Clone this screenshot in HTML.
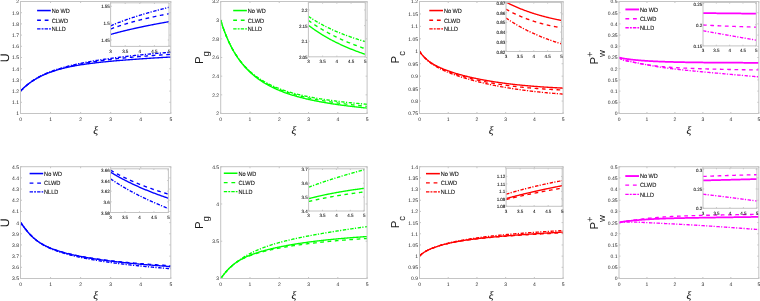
<!DOCTYPE html><html><head><meta charset="utf-8"><style>html,body{margin:0;padding:0;background:#fff;}svg{display:block;}</style></head><body>
<svg width="760" height="301" viewBox="0 0 760 301" font-family='"Liberation Sans", sans-serif' style="will-change:transform" text-rendering="geometricPrecision">
<rect width="760" height="301" fill="#fff"/>
<clipPath id="c00"><rect x="20.5" y="1.5" width="150.3" height="112.0"/></clipPath>
<path d="M20.50 113.5v-1.5M20.50 1.5v1.5M50.56 113.5v-1.5M50.56 1.5v1.5M80.62 113.5v-1.5M80.62 1.5v1.5M110.68 113.5v-1.5M110.68 1.5v1.5M140.74 113.5v-1.5M140.74 1.5v1.5M170.80 113.5v-1.5M170.80 1.5v1.5M20.5 113.50h1.5M170.8 113.50h-1.5M20.5 102.30h1.5M170.8 102.30h-1.5M20.5 91.10h1.5M170.8 91.10h-1.5M20.5 79.90h1.5M170.8 79.90h-1.5M20.5 68.70h1.5M170.8 68.70h-1.5M20.5 57.50h1.5M170.8 57.50h-1.5M20.5 46.30h1.5M170.8 46.30h-1.5M20.5 35.10h1.5M170.8 35.10h-1.5M20.5 23.90h1.5M170.8 23.90h-1.5M20.5 12.70h1.5M170.8 12.70h-1.5M20.5 1.50h1.5M170.8 1.50h-1.5" stroke="#a0a0a0" stroke-width="0.6" fill="none"/>
<g font-size="5.0" fill="#1c1c1c" letter-spacing="-0.05"><text x="20.50" y="120.60" text-anchor="middle">0</text><text x="50.56" y="120.60" text-anchor="middle">1</text><text x="80.62" y="120.60" text-anchor="middle">2</text><text x="110.68" y="120.60" text-anchor="middle">3</text><text x="140.74" y="120.60" text-anchor="middle">4</text><text x="170.80" y="120.60" text-anchor="middle">5</text><text x="18.90" y="115.45" text-anchor="end">1</text><text x="18.90" y="104.25" text-anchor="end">1.1</text><text x="18.90" y="93.05" text-anchor="end">1.2</text><text x="18.90" y="81.85" text-anchor="end">1.3</text><text x="18.90" y="70.65" text-anchor="end">1.4</text><text x="18.90" y="59.45" text-anchor="end">1.5</text><text x="18.90" y="48.25" text-anchor="end">1.6</text><text x="18.90" y="37.05" text-anchor="end">1.7</text><text x="18.90" y="25.85" text-anchor="end">1.8</text><text x="18.90" y="14.65" text-anchor="end">1.9</text><text x="18.90" y="3.45" text-anchor="end">2</text></g>
<path d="M20.50 91.10 L21.26 90.29 L22.01 89.51 L22.77 88.77 L23.52 88.05 L24.28 87.35 L25.03 86.68 L25.79 86.03 L26.54 85.40 L27.30 84.78 L28.05 84.19 L28.81 83.61 L29.56 83.05 L30.32 82.51 L31.07 81.98 L31.83 81.46 L32.58 80.96 L33.34 80.47 L34.09 79.99 L34.85 79.53 L35.61 79.08 L36.36 78.64 L37.12 78.21 L37.87 77.79 L38.63 77.38 L39.38 76.98 L40.14 76.59 L40.89 76.22 L41.65 75.85 L42.40 75.49 L43.16 75.14 L43.91 74.79 L44.67 74.46 L45.42 74.13 L46.18 73.82 L46.93 73.51 L47.69 73.20 L48.45 72.91 L49.20 72.62 L49.96 72.34 L50.71 72.06 L51.47 71.79 L52.22 71.53 L52.98 71.27 L53.73 71.02 L54.49 70.78 L55.24 70.54 L56.00 70.30 L56.75 70.08 L57.51 69.85 L58.26 69.63 L59.02 69.42 L59.77 69.21 L60.53 69.01 L61.28 68.81 L62.04 68.61 L62.80 68.42 L63.55 68.23 L64.31 68.05 L65.06 67.87 L65.82 67.69 L66.57 67.52 L67.33 67.35 L68.08 67.19 L68.84 67.03 L69.59 66.87 L70.35 66.71 L71.10 66.56 L71.86 66.41 L72.61 66.26 L73.37 66.12 L74.12 65.98 L74.88 65.84 L75.64 65.70 L76.39 65.57 L77.15 65.44 L77.90 65.31 L78.66 65.18 L79.41 65.06 L80.17 64.94 L80.92 64.82 L81.68 64.70 L82.43 64.58 L83.19 64.47 L83.94 64.36 L84.70 64.25 L85.45 64.14 L86.21 64.03 L86.96 63.93 L87.72 63.82 L88.47 63.72 L89.23 63.62 L89.99 63.52 L90.74 63.42 L91.50 63.33 L92.25 63.23 L93.01 63.14 L93.76 63.05 L94.52 62.96 L95.27 62.87 L96.03 62.78 L96.78 62.69 L97.54 62.60 L98.29 62.52 L99.05 62.44 L99.80 62.35 L100.56 62.27 L101.31 62.19 L102.07 62.11 L102.83 62.03 L103.58 61.95 L104.34 61.88 L105.09 61.80 L105.85 61.72 L106.60 61.65 L107.36 61.58 L108.11 61.50 L108.87 61.43 L109.62 61.36 L110.38 61.29 L111.13 61.22 L111.89 61.15 L112.64 61.08 L113.40 61.01 L114.15 60.94 L114.91 60.88 L115.66 60.81 L116.42 60.74 L117.18 60.68 L117.93 60.61 L118.69 60.55 L119.44 60.49 L120.20 60.42 L120.95 60.36 L121.71 60.30 L122.46 60.24 L123.22 60.18 L123.97 60.12 L124.73 60.06 L125.48 60.00 L126.24 59.94 L126.99 59.88 L127.75 59.82 L128.50 59.76 L129.26 59.71 L130.02 59.65 L130.77 59.59 L131.53 59.54 L132.28 59.48 L133.04 59.43 L133.79 59.37 L134.55 59.32 L135.30 59.26 L136.06 59.21 L136.81 59.15 L137.57 59.10 L138.32 59.05 L139.08 58.99 L139.83 58.94 L140.59 58.89 L141.34 58.84 L142.10 58.79 L142.85 58.74 L143.61 58.68 L144.37 58.63 L145.12 58.58 L145.88 58.53 L146.63 58.48 L147.39 58.43 L148.14 58.38 L148.90 58.33 L149.65 58.29 L150.41 58.24 L151.16 58.19 L151.92 58.14 L152.67 58.09 L153.43 58.04 L154.18 58.00 L154.94 57.95 L155.69 57.90 L156.45 57.86 L157.21 57.81 L157.96 57.76 L158.72 57.72 L159.47 57.67 L160.23 57.62 L160.98 57.58 L161.74 57.53 L162.49 57.49 L163.25 57.44 L164.00 57.40 L164.76 57.35 L165.51 57.31 L166.27 57.27 L167.02 57.22 L167.78 57.18 L168.53 57.13 L169.29 57.09 L170.04 57.05 L170.80 57.00" stroke="#0000ff" stroke-width="1.35" fill="none" clip-path="url(#c00)"/>
<path d="M20.50 91.10 L21.26 90.37 L22.01 89.64 L22.77 88.92 L23.52 88.20 L24.28 87.50 L25.03 86.81 L25.79 86.14 L26.54 85.48 L27.30 84.85 L28.05 84.23 L28.81 83.62 L29.56 83.04 L30.32 82.47 L31.07 81.92 L31.83 81.38 L32.58 80.86 L33.34 80.36 L34.09 79.87 L34.85 79.39 L35.61 78.93 L36.36 78.48 L37.12 78.05 L37.87 77.63 L38.63 77.21 L39.38 76.81 L40.14 76.42 L40.89 76.04 L41.65 75.67 L42.40 75.31 L43.16 74.96 L43.91 74.62 L44.67 74.28 L45.42 73.96 L46.18 73.64 L46.93 73.33 L47.69 73.02 L48.45 72.72 L49.20 72.43 L49.96 72.14 L50.71 71.86 L51.47 71.59 L52.22 71.32 L52.98 71.06 L53.73 70.80 L54.49 70.55 L55.24 70.30 L56.00 70.06 L56.75 69.82 L57.51 69.59 L58.26 69.36 L59.02 69.13 L59.77 68.91 L60.53 68.69 L61.28 68.48 L62.04 68.26 L62.80 68.06 L63.55 67.85 L64.31 67.65 L65.06 67.46 L65.82 67.26 L66.57 67.07 L67.33 66.88 L68.08 66.70 L68.84 66.52 L69.59 66.34 L70.35 66.16 L71.10 65.99 L71.86 65.81 L72.61 65.65 L73.37 65.48 L74.12 65.32 L74.88 65.15 L75.64 64.99 L76.39 64.84 L77.15 64.68 L77.90 64.53 L78.66 64.38 L79.41 64.23 L80.17 64.08 L80.92 63.94 L81.68 63.79 L82.43 63.65 L83.19 63.51 L83.94 63.38 L84.70 63.24 L85.45 63.11 L86.21 62.97 L86.96 62.84 L87.72 62.72 L88.47 62.59 L89.23 62.46 L89.99 62.34 L90.74 62.22 L91.50 62.09 L92.25 61.97 L93.01 61.86 L93.76 61.74 L94.52 61.62 L95.27 61.51 L96.03 61.40 L96.78 61.28 L97.54 61.17 L98.29 61.07 L99.05 60.96 L99.80 60.85 L100.56 60.75 L101.31 60.64 L102.07 60.54 L102.83 60.44 L103.58 60.34 L104.34 60.24 L105.09 60.14 L105.85 60.04 L106.60 59.94 L107.36 59.85 L108.11 59.75 L108.87 59.66 L109.62 59.57 L110.38 59.48 L111.13 59.39 L111.89 59.30 L112.64 59.21 L113.40 59.12 L114.15 59.03 L114.91 58.95 L115.66 58.86 L116.42 58.78 L117.18 58.70 L117.93 58.61 L118.69 58.53 L119.44 58.45 L120.20 58.37 L120.95 58.29 L121.71 58.21 L122.46 58.14 L123.22 58.06 L123.97 57.98 L124.73 57.91 L125.48 57.83 L126.24 57.76 L126.99 57.69 L127.75 57.61 L128.50 57.54 L129.26 57.47 L130.02 57.40 L130.77 57.33 L131.53 57.26 L132.28 57.19 L133.04 57.12 L133.79 57.06 L134.55 56.99 L135.30 56.92 L136.06 56.86 L136.81 56.79 L137.57 56.73 L138.32 56.66 L139.08 56.60 L139.83 56.54 L140.59 56.48 L141.34 56.41 L142.10 56.35 L142.85 56.29 L143.61 56.23 L144.37 56.17 L145.12 56.11 L145.88 56.06 L146.63 56.00 L147.39 55.94 L148.14 55.88 L148.90 55.83 L149.65 55.77 L150.41 55.72 L151.16 55.66 L151.92 55.61 L152.67 55.55 L153.43 55.50 L154.18 55.44 L154.94 55.39 L155.69 55.34 L156.45 55.29 L157.21 55.24 L157.96 55.18 L158.72 55.13 L159.47 55.08 L160.23 55.03 L160.98 54.98 L161.74 54.93 L162.49 54.89 L163.25 54.84 L164.00 54.79 L164.76 54.74 L165.51 54.69 L166.27 54.65 L167.02 54.60 L167.78 54.55 L168.53 54.51 L169.29 54.46 L170.04 54.42 L170.80 54.37" stroke="#0000ff" stroke-width="1.35" fill="none" stroke-dasharray="3.7 3.6" clip-path="url(#c00)"/>
<path d="M20.50 91.10 L21.26 90.36 L22.01 89.63 L22.77 88.90 L23.52 88.19 L24.28 87.49 L25.03 86.80 L25.79 86.13 L26.54 85.48 L27.30 84.84 L28.05 84.22 L28.81 83.62 L29.56 83.03 L30.32 82.46 L31.07 81.90 L31.83 81.37 L32.58 80.84 L33.34 80.33 L34.09 79.84 L34.85 79.36 L35.61 78.89 L36.36 78.43 L37.12 77.99 L37.87 77.56 L38.63 77.14 L39.38 76.73 L40.14 76.33 L40.89 75.94 L41.65 75.55 L42.40 75.18 L43.16 74.82 L43.91 74.47 L44.67 74.12 L45.42 73.78 L46.18 73.45 L46.93 73.13 L47.69 72.81 L48.45 72.50 L49.20 72.20 L49.96 71.90 L50.71 71.61 L51.47 71.33 L52.22 71.05 L52.98 70.77 L53.73 70.51 L54.49 70.24 L55.24 69.98 L56.00 69.73 L56.75 69.48 L57.51 69.24 L58.26 68.99 L59.02 68.76 L59.77 68.53 L60.53 68.30 L61.28 68.07 L62.04 67.85 L62.80 67.64 L63.55 67.42 L64.31 67.21 L65.06 67.00 L65.82 66.80 L66.57 66.60 L67.33 66.40 L68.08 66.21 L68.84 66.01 L69.59 65.83 L70.35 65.64 L71.10 65.46 L71.86 65.27 L72.61 65.10 L73.37 64.92 L74.12 64.75 L74.88 64.57 L75.64 64.41 L76.39 64.24 L77.15 64.07 L77.90 63.91 L78.66 63.75 L79.41 63.59 L80.17 63.44 L80.92 63.28 L81.68 63.13 L82.43 62.98 L83.19 62.83 L83.94 62.68 L84.70 62.54 L85.45 62.39 L86.21 62.25 L86.96 62.11 L87.72 61.97 L88.47 61.83 L89.23 61.70 L89.99 61.56 L90.74 61.43 L91.50 61.30 L92.25 61.17 L93.01 61.04 L93.76 60.92 L94.52 60.79 L95.27 60.67 L96.03 60.54 L96.78 60.42 L97.54 60.30 L98.29 60.18 L99.05 60.06 L99.80 59.94 L100.56 59.83 L101.31 59.71 L102.07 59.60 L102.83 59.49 L103.58 59.37 L104.34 59.26 L105.09 59.15 L105.85 59.05 L106.60 58.94 L107.36 58.83 L108.11 58.73 L108.87 58.62 L109.62 58.52 L110.38 58.41 L111.13 58.31 L111.89 58.21 L112.64 58.11 L113.40 58.01 L114.15 57.91 L114.91 57.82 L115.66 57.72 L116.42 57.62 L117.18 57.53 L117.93 57.43 L118.69 57.34 L119.44 57.25 L120.20 57.15 L120.95 57.06 L121.71 56.97 L122.46 56.88 L123.22 56.79 L123.97 56.70 L124.73 56.62 L125.48 56.53 L126.24 56.44 L126.99 56.36 L127.75 56.27 L128.50 56.19 L129.26 56.10 L130.02 56.02 L130.77 55.94 L131.53 55.85 L132.28 55.77 L133.04 55.69 L133.79 55.61 L134.55 55.53 L135.30 55.45 L136.06 55.37 L136.81 55.29 L137.57 55.22 L138.32 55.14 L139.08 55.06 L139.83 54.99 L140.59 54.91 L141.34 54.83 L142.10 54.76 L142.85 54.69 L143.61 54.61 L144.37 54.54 L145.12 54.47 L145.88 54.39 L146.63 54.32 L147.39 54.25 L148.14 54.18 L148.90 54.11 L149.65 54.04 L150.41 53.97 L151.16 53.90 L151.92 53.83 L152.67 53.76 L153.43 53.70 L154.18 53.63 L154.94 53.56 L155.69 53.50 L156.45 53.43 L157.21 53.36 L157.96 53.30 L158.72 53.23 L159.47 53.17 L160.23 53.11 L160.98 53.04 L161.74 52.98 L162.49 52.92 L163.25 52.85 L164.00 52.79 L164.76 52.73 L165.51 52.67 L166.27 52.61 L167.02 52.55 L167.78 52.48 L168.53 52.42 L169.29 52.36 L170.04 52.31 L170.80 52.25" stroke="#0000ff" stroke-width="1.35" fill="none" stroke-dasharray="3.4 1.3 1.2 1.6" clip-path="url(#c00)"/>
<rect x="20.5" y="1.5" width="150.3" height="112.0" fill="none" stroke="#c4c4c4" stroke-width="1"/>
<path d="M37.1 10.55H50.8" stroke="#0000ff" stroke-width="1.55" fill="none"/>
<path d="M37.1 20.25H50.8" stroke="#0000ff" stroke-width="1.3" fill="none" stroke-dasharray="3.8 3.8"/>
<path d="M37.1 28.95H50.8" stroke="#0000ff" stroke-width="1.3" fill="none" stroke-dasharray="3.4 1.1 1.9 1.1"/>
<g font-size="6.2" fill="#111" stroke="#111" stroke-width="0.1"><text x="51.70" y="12.85" textLength="18.00" lengthAdjust="spacingAndGlyphs">No WD</text><text x="51.70" y="22.55" textLength="16.40" lengthAdjust="spacingAndGlyphs">CLWD</text><text x="51.70" y="31.25" textLength="14.20" lengthAdjust="spacingAndGlyphs">NLLD</text></g>
<rect x="110.6" y="2.8" width="58.400000000000006" height="43.6" fill="#fff" stroke="none"/>
<clipPath id="i00"><rect x="110.6" y="2.8" width="58.400000000000006" height="43.6"/></clipPath>
<path d="M110.60 34.46 L111.19 34.29 L111.78 34.12 L112.37 33.96 L112.96 33.79 L113.55 33.63 L114.14 33.46 L114.73 33.30 L115.32 33.14 L115.91 32.98 L116.50 32.82 L117.09 32.67 L117.68 32.51 L118.27 32.36 L118.86 32.20 L119.45 32.05 L120.04 31.90 L120.63 31.75 L121.22 31.60 L121.81 31.45 L122.40 31.30 L122.99 31.16 L123.58 31.01 L124.17 30.86 L124.76 30.72 L125.35 30.58 L125.94 30.43 L126.53 30.29 L127.12 30.15 L127.71 30.01 L128.30 29.87 L128.89 29.73 L129.48 29.60 L130.07 29.46 L130.66 29.32 L131.25 29.19 L131.84 29.05 L132.43 28.92 L133.02 28.79 L133.61 28.65 L134.20 28.52 L134.79 28.39 L135.38 28.26 L135.97 28.13 L136.56 28.00 L137.15 27.87 L137.74 27.74 L138.33 27.62 L138.92 27.49 L139.51 27.36 L140.09 27.24 L140.68 27.11 L141.27 26.99 L141.86 26.86 L142.45 26.74 L143.04 26.62 L143.63 26.50 L144.22 26.37 L144.81 26.25 L145.40 26.13 L145.99 26.01 L146.58 25.89 L147.17 25.77 L147.76 25.65 L148.35 25.53 L148.94 25.42 L149.53 25.30 L150.12 25.18 L150.71 25.07 L151.30 24.95 L151.89 24.83 L152.48 24.72 L153.07 24.60 L153.66 24.49 L154.25 24.38 L154.84 24.26 L155.43 24.15 L156.02 24.04 L156.61 23.93 L157.20 23.81 L157.79 23.70 L158.38 23.59 L158.97 23.48 L159.56 23.37 L160.15 23.26 L160.74 23.15 L161.33 23.04 L161.92 22.93 L162.51 22.83 L163.10 22.72 L163.69 22.61 L164.28 22.50 L164.87 22.40 L165.46 22.29 L166.05 22.18 L166.64 22.08 L167.23 21.97 L167.82 21.87 L168.41 21.76 L169.00 21.66" stroke="#0000ff" stroke-width="1.35" fill="none" clip-path="url(#i00)"/>
<path d="M110.60 28.99 L111.19 28.77 L111.78 28.56 L112.37 28.34 L112.96 28.13 L113.55 27.92 L114.14 27.71 L114.73 27.50 L115.32 27.30 L115.91 27.09 L116.50 26.89 L117.09 26.69 L117.68 26.49 L118.27 26.29 L118.86 26.10 L119.45 25.90 L120.04 25.71 L120.63 25.52 L121.22 25.33 L121.81 25.14 L122.40 24.95 L122.99 24.77 L123.58 24.58 L124.17 24.40 L124.76 24.22 L125.35 24.04 L125.94 23.86 L126.53 23.68 L127.12 23.51 L127.71 23.33 L128.30 23.16 L128.89 22.99 L129.48 22.82 L130.07 22.65 L130.66 22.48 L131.25 22.32 L131.84 22.15 L132.43 21.99 L133.02 21.82 L133.61 21.66 L134.20 21.50 L134.79 21.34 L135.38 21.18 L135.97 21.03 L136.56 20.87 L137.15 20.72 L137.74 20.56 L138.33 20.41 L138.92 20.26 L139.51 20.11 L140.09 19.96 L140.68 19.81 L141.27 19.66 L141.86 19.52 L142.45 19.37 L143.04 19.23 L143.63 19.08 L144.22 18.94 L144.81 18.80 L145.40 18.66 L145.99 18.52 L146.58 18.38 L147.17 18.24 L147.76 18.11 L148.35 17.97 L148.94 17.84 L149.53 17.70 L150.12 17.57 L150.71 17.44 L151.30 17.31 L151.89 17.18 L152.48 17.05 L153.07 16.92 L153.66 16.79 L154.25 16.67 L154.84 16.54 L155.43 16.41 L156.02 16.29 L156.61 16.17 L157.20 16.04 L157.79 15.92 L158.38 15.80 L158.97 15.68 L159.56 15.56 L160.15 15.44 L160.74 15.32 L161.33 15.21 L161.92 15.09 L162.51 14.97 L163.10 14.86 L163.69 14.74 L164.28 14.63 L164.87 14.52 L165.46 14.41 L166.05 14.29 L166.64 14.18 L167.23 14.07 L167.82 13.96 L168.41 13.85 L169.00 13.75" stroke="#0000ff" stroke-width="1.35" fill="none" stroke-dasharray="3.7 3.6" clip-path="url(#i00)"/>
<path d="M110.60 25.78 L111.19 25.53 L111.78 25.29 L112.37 25.05 L112.96 24.81 L113.55 24.57 L114.14 24.33 L114.73 24.09 L115.32 23.86 L115.91 23.63 L116.50 23.40 L117.09 23.17 L117.68 22.94 L118.27 22.71 L118.86 22.48 L119.45 22.26 L120.04 22.04 L120.63 21.82 L121.22 21.60 L121.81 21.38 L122.40 21.16 L122.99 20.95 L123.58 20.73 L124.17 20.52 L124.76 20.31 L125.35 20.10 L125.94 19.89 L126.53 19.68 L127.12 19.47 L127.71 19.27 L128.30 19.07 L128.89 18.86 L129.48 18.66 L130.07 18.46 L130.66 18.26 L131.25 18.06 L131.84 17.87 L132.43 17.67 L133.02 17.48 L133.61 17.28 L134.20 17.09 L134.79 16.90 L135.38 16.71 L135.97 16.52 L136.56 16.33 L137.15 16.14 L137.74 15.96 L138.33 15.77 L138.92 15.59 L139.51 15.40 L140.09 15.22 L140.68 15.04 L141.27 14.86 L141.86 14.68 L142.45 14.50 L143.04 14.33 L143.63 14.15 L144.22 13.97 L144.81 13.80 L145.40 13.63 L145.99 13.45 L146.58 13.28 L147.17 13.11 L147.76 12.94 L148.35 12.77 L148.94 12.60 L149.53 12.44 L150.12 12.27 L150.71 12.10 L151.30 11.94 L151.89 11.77 L152.48 11.61 L153.07 11.45 L153.66 11.29 L154.25 11.13 L154.84 10.97 L155.43 10.81 L156.02 10.65 L156.61 10.49 L157.20 10.33 L157.79 10.18 L158.38 10.02 L158.97 9.87 L159.56 9.71 L160.15 9.56 L160.74 9.41 L161.33 9.26 L161.92 9.10 L162.51 8.95 L163.10 8.80 L163.69 8.66 L164.28 8.51 L164.87 8.36 L165.46 8.21 L166.05 8.07 L166.64 7.92 L167.23 7.78 L167.82 7.63 L168.41 7.49 L169.00 7.35" stroke="#0000ff" stroke-width="1.35" fill="none" stroke-dasharray="3.4 1.3 1.2 1.6" clip-path="url(#i00)"/>
<path d="M110.60 46.4v-1.2M110.60 2.8v1.2M125.20 46.4v-1.2M125.20 2.8v1.2M139.80 46.4v-1.2M139.80 2.8v1.2M154.40 46.4v-1.2M154.40 2.8v1.2M169.00 46.4v-1.2M169.00 2.8v1.2M110.6 40.00h1.2M169.0 40.00h-1.2M110.6 23.15h1.2M169.0 23.15h-1.2M110.6 6.30h1.2M169.0 6.30h-1.2" stroke="#a0a0a0" stroke-width="0.6" fill="none"/>
<rect x="110.6" y="2.8" width="58.400000000000006" height="43.6" fill="none" stroke="#c4c4c4" stroke-width="1"/>
<g font-size="4.5" fill="#111" letter-spacing="-0.05" stroke="#111" stroke-width="0.08"><text x="110.60" y="52.70" text-anchor="middle">3</text><text x="125.20" y="52.70" text-anchor="middle">3.5</text><text x="139.80" y="52.70" text-anchor="middle">4</text><text x="154.40" y="52.70" text-anchor="middle">4.5</text><text x="169.00" y="52.70" text-anchor="middle">5</text><text x="109.70" y="42.00" text-anchor="end">1.45</text><text x="109.70" y="25.15" text-anchor="end">1.5</text><text x="109.70" y="8.30" text-anchor="end">1.55</text></g>
<text x="95.55" y="134.00" text-anchor="middle" font-family='"Liberation Serif", serif' font-style="italic" font-size="11.2" fill="#1a1a1a" stroke="#1a1a1a" stroke-width="0.1">ξ</text>
<clipPath id="c01"><rect x="220.7" y="1.5" width="146.40000000000003" height="112.0"/></clipPath>
<path d="M220.70 113.5v-1.5M220.70 1.5v1.5M249.98 113.5v-1.5M249.98 1.5v1.5M279.26 113.5v-1.5M279.26 1.5v1.5M308.54 113.5v-1.5M308.54 1.5v1.5M337.82 113.5v-1.5M337.82 1.5v1.5M367.10 113.5v-1.5M367.10 1.5v1.5M220.7 113.50h1.5M367.1 113.50h-1.5M220.7 94.83h1.5M367.1 94.83h-1.5M220.7 76.17h1.5M367.1 76.17h-1.5M220.7 57.50h1.5M367.1 57.50h-1.5M220.7 38.83h1.5M367.1 38.83h-1.5M220.7 20.17h1.5M367.1 20.17h-1.5M220.7 1.50h1.5M367.1 1.50h-1.5" stroke="#a0a0a0" stroke-width="0.6" fill="none"/>
<g font-size="5.0" fill="#1c1c1c" letter-spacing="-0.05"><text x="220.70" y="120.60" text-anchor="middle">0</text><text x="249.98" y="120.60" text-anchor="middle">1</text><text x="279.26" y="120.60" text-anchor="middle">2</text><text x="308.54" y="120.60" text-anchor="middle">3</text><text x="337.82" y="120.60" text-anchor="middle">4</text><text x="367.10" y="120.60" text-anchor="middle">5</text><text x="219.10" y="115.45" text-anchor="end">2</text><text x="219.10" y="96.78" text-anchor="end">2.2</text><text x="219.10" y="78.12" text-anchor="end">2.4</text><text x="219.10" y="59.45" text-anchor="end">2.6</text><text x="219.10" y="40.78" text-anchor="end">2.8</text><text x="219.10" y="22.12" text-anchor="end">3</text><text x="219.10" y="3.45" text-anchor="end">3.2</text></g>
<path d="M220.70 20.17 L221.44 22.55 L222.17 24.83 L222.91 27.02 L223.64 29.13 L224.38 31.15 L225.11 33.10 L225.85 34.97 L226.59 36.77 L227.32 38.51 L228.06 40.19 L228.79 41.81 L229.53 43.37 L230.26 44.88 L231.00 46.34 L231.74 47.75 L232.47 49.12 L233.21 50.44 L233.94 51.72 L234.68 52.96 L235.41 54.16 L236.15 55.33 L236.88 56.46 L237.62 57.56 L238.36 58.62 L239.09 59.66 L239.83 60.67 L240.56 61.64 L241.30 62.59 L242.03 63.52 L242.77 64.42 L243.51 65.29 L244.24 66.15 L244.98 66.98 L245.71 67.79 L246.45 68.57 L247.18 69.34 L247.92 70.09 L248.66 70.82 L249.39 71.53 L250.13 72.23 L250.86 72.91 L251.60 73.57 L252.33 74.22 L253.07 74.85 L253.81 75.47 L254.54 76.07 L255.28 76.66 L256.01 77.23 L256.75 77.80 L257.48 78.35 L258.22 78.89 L258.96 79.41 L259.69 79.93 L260.43 80.43 L261.16 80.93 L261.90 81.41 L262.63 81.88 L263.37 82.35 L264.11 82.80 L264.84 83.25 L265.58 83.68 L266.31 84.11 L267.05 84.53 L267.78 84.94 L268.52 85.34 L269.25 85.74 L269.99 86.13 L270.73 86.51 L271.46 86.88 L272.20 87.24 L272.93 87.60 L273.67 87.95 L274.40 88.30 L275.14 88.64 L275.88 88.97 L276.61 89.30 L277.35 89.62 L278.08 89.94 L278.82 90.25 L279.55 90.55 L280.29 90.85 L281.03 91.15 L281.76 91.44 L282.50 91.72 L283.23 92.00 L283.97 92.28 L284.70 92.55 L285.44 92.81 L286.18 93.07 L286.91 93.33 L287.65 93.58 L288.38 93.83 L289.12 94.08 L289.85 94.32 L290.59 94.56 L291.33 94.79 L292.06 95.02 L292.80 95.25 L293.53 95.47 L294.27 95.69 L295.00 95.91 L295.74 96.12 L296.47 96.33 L297.21 96.54 L297.95 96.75 L298.68 96.95 L299.42 97.15 L300.15 97.34 L300.89 97.53 L301.62 97.72 L302.36 97.91 L303.10 98.10 L303.83 98.28 L304.57 98.46 L305.30 98.64 L306.04 98.81 L306.77 98.98 L307.51 99.15 L308.25 99.32 L308.98 99.49 L309.72 99.65 L310.45 99.81 L311.19 99.97 L311.92 100.13 L312.66 100.28 L313.40 100.44 L314.13 100.59 L314.87 100.74 L315.60 100.89 L316.34 101.03 L317.07 101.18 L317.81 101.32 L318.55 101.46 L319.28 101.60 L320.02 101.74 L320.75 101.87 L321.49 102.01 L322.22 102.14 L322.96 102.27 L323.69 102.40 L324.43 102.53 L325.17 102.66 L325.90 102.78 L326.64 102.91 L327.37 103.03 L328.11 103.15 L328.84 103.27 L329.58 103.39 L330.32 103.50 L331.05 103.62 L331.79 103.73 L332.52 103.85 L333.26 103.96 L333.99 104.07 L334.73 104.18 L335.47 104.29 L336.20 104.40 L336.94 104.50 L337.67 104.61 L338.41 104.71 L339.14 104.82 L339.88 104.92 L340.62 105.02 L341.35 105.12 L342.09 105.22 L342.82 105.32 L343.56 105.42 L344.29 105.51 L345.03 105.61 L345.77 105.70 L346.50 105.80 L347.24 105.89 L347.97 105.98 L348.71 106.07 L349.44 106.16 L350.18 106.25 L350.92 106.34 L351.65 106.43 L352.39 106.51 L353.12 106.60 L353.86 106.69 L354.59 106.77 L355.33 106.85 L356.06 106.94 L356.80 107.02 L357.54 107.10 L358.27 107.18 L359.01 107.26 L359.74 107.34 L360.48 107.42 L361.21 107.50 L361.95 107.58 L362.69 107.65 L363.42 107.73 L364.16 107.80 L364.89 107.88 L365.63 107.95 L366.36 108.03 L367.10 108.10" stroke="#00ff00" stroke-width="1.35" fill="none" clip-path="url(#c01)"/>
<path d="M220.70 20.17 L221.44 22.55 L222.17 24.83 L222.91 27.02 L223.64 29.13 L224.38 31.15 L225.11 33.09 L225.85 34.96 L226.59 36.76 L227.32 38.50 L228.06 40.17 L228.79 41.78 L229.53 43.34 L230.26 44.84 L231.00 46.30 L231.74 47.70 L232.47 49.06 L233.21 50.37 L233.94 51.64 L234.68 52.87 L235.41 54.06 L236.15 55.22 L236.88 56.34 L237.62 57.43 L238.36 58.48 L239.09 59.50 L239.83 60.50 L240.56 61.46 L241.30 62.40 L242.03 63.31 L242.77 64.19 L243.51 65.05 L244.24 65.89 L244.98 66.71 L245.71 67.50 L246.45 68.27 L247.18 69.03 L247.92 69.76 L248.66 70.47 L249.39 71.17 L250.13 71.85 L250.86 72.51 L251.60 73.16 L252.33 73.79 L253.07 74.40 L253.81 75.00 L254.54 75.59 L255.28 76.16 L256.01 76.72 L256.75 77.27 L257.48 77.80 L258.22 78.32 L258.96 78.83 L259.69 79.33 L260.43 79.82 L261.16 80.30 L261.90 80.76 L262.63 81.22 L263.37 81.67 L264.11 82.10 L264.84 82.53 L265.58 82.95 L266.31 83.36 L267.05 83.77 L267.78 84.16 L268.52 84.55 L269.25 84.93 L269.99 85.30 L270.73 85.66 L271.46 86.02 L272.20 86.37 L272.93 86.71 L273.67 87.05 L274.40 87.38 L275.14 87.71 L275.88 88.02 L276.61 88.34 L277.35 88.64 L278.08 88.95 L278.82 89.24 L279.55 89.53 L280.29 89.82 L281.03 90.10 L281.76 90.37 L282.50 90.65 L283.23 90.91 L283.97 91.17 L284.70 91.43 L285.44 91.68 L286.18 91.93 L286.91 92.18 L287.65 92.42 L288.38 92.66 L289.12 92.89 L289.85 93.12 L290.59 93.35 L291.33 93.57 L292.06 93.79 L292.80 94.00 L293.53 94.22 L294.27 94.43 L295.00 94.63 L295.74 94.83 L296.47 95.03 L297.21 95.23 L297.95 95.43 L298.68 95.62 L299.42 95.81 L300.15 95.99 L300.89 96.18 L301.62 96.36 L302.36 96.54 L303.10 96.71 L303.83 96.89 L304.57 97.06 L305.30 97.23 L306.04 97.39 L306.77 97.56 L307.51 97.72 L308.25 97.88 L308.98 98.04 L309.72 98.19 L310.45 98.35 L311.19 98.50 L311.92 98.65 L312.66 98.80 L313.40 98.95 L314.13 99.09 L314.87 99.24 L315.60 99.38 L316.34 99.52 L317.07 99.66 L317.81 99.79 L318.55 99.93 L319.28 100.06 L320.02 100.19 L320.75 100.32 L321.49 100.45 L322.22 100.58 L322.96 100.71 L323.69 100.83 L324.43 100.96 L325.17 101.08 L325.90 101.20 L326.64 101.32 L327.37 101.44 L328.11 101.55 L328.84 101.67 L329.58 101.78 L330.32 101.90 L331.05 102.01 L331.79 102.12 L332.52 102.23 L333.26 102.34 L333.99 102.45 L334.73 102.56 L335.47 102.66 L336.20 102.77 L336.94 102.87 L337.67 102.97 L338.41 103.08 L339.14 103.18 L339.88 103.28 L340.62 103.38 L341.35 103.47 L342.09 103.57 L342.82 103.67 L343.56 103.76 L344.29 103.86 L345.03 103.95 L345.77 104.05 L346.50 104.14 L347.24 104.23 L347.97 104.32 L348.71 104.41 L349.44 104.50 L350.18 104.59 L350.92 104.68 L351.65 104.76 L352.39 104.85 L353.12 104.93 L353.86 105.02 L354.59 105.10 L355.33 105.19 L356.06 105.27 L356.80 105.35 L357.54 105.43 L358.27 105.51 L359.01 105.59 L359.74 105.67 L360.48 105.75 L361.21 105.83 L361.95 105.91 L362.69 105.99 L363.42 106.06 L364.16 106.14 L364.89 106.21 L365.63 106.29 L366.36 106.36 L367.10 106.44" stroke="#00ff00" stroke-width="1.35" fill="none" stroke-dasharray="3.7 3.6" clip-path="url(#c01)"/>
<path d="M220.70 20.17 L221.44 22.55 L222.17 24.84 L222.91 27.03 L223.64 29.13 L224.38 31.15 L225.11 33.09 L225.85 34.96 L226.59 36.76 L227.32 38.49 L228.06 40.16 L228.79 41.77 L229.53 43.32 L230.26 44.82 L231.00 46.26 L231.74 47.66 L232.47 49.01 L233.21 50.31 L233.94 51.57 L234.68 52.79 L235.41 53.97 L236.15 55.12 L236.88 56.23 L237.62 57.31 L238.36 58.35 L239.09 59.36 L239.83 60.34 L240.56 61.29 L241.30 62.22 L242.03 63.12 L242.77 63.99 L243.51 64.84 L244.24 65.67 L244.98 66.47 L245.71 67.25 L246.45 68.02 L247.18 68.76 L247.92 69.48 L248.66 70.18 L249.39 70.86 L250.13 71.53 L250.86 72.18 L251.60 72.82 L252.33 73.43 L253.07 74.04 L253.81 74.63 L254.54 75.20 L255.28 75.76 L256.01 76.31 L256.75 76.84 L257.48 77.37 L258.22 77.88 L258.96 78.37 L259.69 78.86 L260.43 79.34 L261.16 79.80 L261.90 80.26 L262.63 80.70 L263.37 81.14 L264.11 81.57 L264.84 81.98 L265.58 82.39 L266.31 82.79 L267.05 83.18 L267.78 83.57 L268.52 83.94 L269.25 84.31 L269.99 84.67 L270.73 85.02 L271.46 85.37 L272.20 85.71 L272.93 86.04 L273.67 86.37 L274.40 86.69 L275.14 87.00 L275.88 87.31 L276.61 87.61 L277.35 87.91 L278.08 88.20 L278.82 88.48 L279.55 88.76 L280.29 89.04 L281.03 89.31 L281.76 89.57 L282.50 89.83 L283.23 90.09 L283.97 90.34 L284.70 90.58 L285.44 90.83 L286.18 91.06 L286.91 91.30 L287.65 91.53 L288.38 91.75 L289.12 91.98 L289.85 92.19 L290.59 92.41 L291.33 92.62 L292.06 92.83 L292.80 93.03 L293.53 93.23 L294.27 93.43 L295.00 93.63 L295.74 93.82 L296.47 94.01 L297.21 94.19 L297.95 94.38 L298.68 94.56 L299.42 94.73 L300.15 94.91 L300.89 95.08 L301.62 95.25 L302.36 95.42 L303.10 95.58 L303.83 95.75 L304.57 95.90 L305.30 96.06 L306.04 96.22 L306.77 96.37 L307.51 96.52 L308.25 96.67 L308.98 96.82 L309.72 96.96 L310.45 97.11 L311.19 97.25 L311.92 97.39 L312.66 97.52 L313.40 97.66 L314.13 97.79 L314.87 97.92 L315.60 98.05 L316.34 98.18 L317.07 98.31 L317.81 98.43 L318.55 98.56 L319.28 98.68 L320.02 98.80 L320.75 98.92 L321.49 99.03 L322.22 99.15 L322.96 99.27 L323.69 99.38 L324.43 99.49 L325.17 99.60 L325.90 99.71 L326.64 99.82 L327.37 99.92 L328.11 100.03 L328.84 100.13 L329.58 100.24 L330.32 100.34 L331.05 100.44 L331.79 100.54 L332.52 100.64 L333.26 100.73 L333.99 100.83 L334.73 100.93 L335.47 101.02 L336.20 101.11 L336.94 101.21 L337.67 101.30 L338.41 101.39 L339.14 101.48 L339.88 101.56 L340.62 101.65 L341.35 101.74 L342.09 101.82 L342.82 101.91 L343.56 101.99 L344.29 102.08 L345.03 102.16 L345.77 102.24 L346.50 102.32 L347.24 102.40 L347.97 102.48 L348.71 102.56 L349.44 102.63 L350.18 102.71 L350.92 102.79 L351.65 102.86 L352.39 102.94 L353.12 103.01 L353.86 103.08 L354.59 103.16 L355.33 103.23 L356.06 103.30 L356.80 103.37 L357.54 103.44 L358.27 103.51 L359.01 103.58 L359.74 103.64 L360.48 103.71 L361.21 103.78 L361.95 103.84 L362.69 103.91 L363.42 103.97 L364.16 104.04 L364.89 104.10 L365.63 104.17 L366.36 104.23 L367.10 104.29" stroke="#00ff00" stroke-width="1.35" fill="none" stroke-dasharray="3.4 1.3 1.2 1.6" clip-path="url(#c01)"/>
<rect x="220.7" y="1.5" width="146.40000000000003" height="112.0" fill="none" stroke="#c4c4c4" stroke-width="1"/>
<path d="M233.2 10.55H246.9" stroke="#00ff00" stroke-width="1.55" fill="none"/>
<path d="M233.2 20.25H246.9" stroke="#00ff00" stroke-width="1.3" fill="none" stroke-dasharray="3.8 3.8"/>
<path d="M233.2 28.95H246.9" stroke="#00ff00" stroke-width="1.3" fill="none" stroke-dasharray="3.4 1.1 1.9 1.1"/>
<g font-size="6.2" fill="#111" stroke="#111" stroke-width="0.1"><text x="247.80" y="12.85" textLength="18.00" lengthAdjust="spacingAndGlyphs">No WD</text><text x="247.80" y="22.55" textLength="16.40" lengthAdjust="spacingAndGlyphs">CLWD</text><text x="247.80" y="31.25" textLength="14.20" lengthAdjust="spacingAndGlyphs">NLLD</text></g>
<rect x="308.4" y="2.5" width="56.900000000000034" height="54.3" fill="#fff" stroke="none"/>
<clipPath id="i01"><rect x="308.4" y="2.5" width="56.900000000000034" height="54.3"/></clipPath>
<path d="M308.40 25.22 L308.97 25.66 L309.55 26.10 L310.12 26.54 L310.70 26.97 L311.27 27.39 L311.85 27.81 L312.42 28.23 L313.00 28.64 L313.57 29.05 L314.15 29.46 L314.72 29.86 L315.30 30.26 L315.87 30.65 L316.45 31.04 L317.02 31.42 L317.60 31.80 L318.17 32.18 L318.75 32.56 L319.32 32.93 L319.89 33.29 L320.47 33.66 L321.04 34.02 L321.62 34.37 L322.19 34.73 L322.77 35.08 L323.34 35.42 L323.92 35.77 L324.49 36.11 L325.07 36.45 L325.64 36.78 L326.22 37.11 L326.79 37.44 L327.37 37.77 L327.94 38.09 L328.52 38.41 L329.09 38.73 L329.67 39.04 L330.24 39.35 L330.82 39.66 L331.39 39.97 L331.96 40.27 L332.54 40.57 L333.11 40.87 L333.69 41.16 L334.26 41.46 L334.84 41.75 L335.41 42.04 L335.99 42.32 L336.56 42.61 L337.14 42.89 L337.71 43.17 L338.29 43.44 L338.86 43.72 L339.44 43.99 L340.01 44.26 L340.59 44.53 L341.16 44.80 L341.74 45.06 L342.31 45.32 L342.88 45.58 L343.46 45.84 L344.03 46.10 L344.61 46.35 L345.18 46.60 L345.76 46.85 L346.33 47.10 L346.91 47.35 L347.48 47.59 L348.06 47.83 L348.63 48.07 L349.21 48.31 L349.78 48.55 L350.36 48.78 L350.93 49.02 L351.51 49.25 L352.08 49.48 L352.66 49.71 L353.23 49.93 L353.81 50.16 L354.38 50.38 L354.95 50.61 L355.53 50.83 L356.10 51.04 L356.68 51.26 L357.25 51.48 L357.83 51.69 L358.40 51.91 L358.98 52.12 L359.55 52.33 L360.13 52.53 L360.70 52.74 L361.28 52.95 L361.85 53.15 L362.43 53.35 L363.00 53.56 L363.58 53.76 L364.15 53.95 L364.73 54.15 L365.30 54.35" stroke="#00ff00" stroke-width="1.35" fill="none" clip-path="url(#i01)"/>
<path d="M308.40 20.39 L308.97 20.81 L309.55 21.23 L310.12 21.65 L310.70 22.06 L311.27 22.47 L311.85 22.87 L312.42 23.27 L313.00 23.66 L313.57 24.05 L314.15 24.44 L314.72 24.83 L315.30 25.21 L315.87 25.58 L316.45 25.95 L317.02 26.32 L317.60 26.69 L318.17 27.05 L318.75 27.41 L319.32 27.77 L319.89 28.12 L320.47 28.47 L321.04 28.82 L321.62 29.16 L322.19 29.50 L322.77 29.84 L323.34 30.17 L323.92 30.50 L324.49 30.83 L325.07 31.16 L325.64 31.48 L326.22 31.80 L326.79 32.12 L327.37 32.43 L327.94 32.75 L328.52 33.06 L329.09 33.36 L329.67 33.67 L330.24 33.97 L330.82 34.27 L331.39 34.57 L331.96 34.86 L332.54 35.15 L333.11 35.44 L333.69 35.73 L334.26 36.02 L334.84 36.30 L335.41 36.58 L335.99 36.86 L336.56 37.14 L337.14 37.41 L337.71 37.69 L338.29 37.96 L338.86 38.23 L339.44 38.49 L340.01 38.76 L340.59 39.02 L341.16 39.28 L341.74 39.54 L342.31 39.80 L342.88 40.05 L343.46 40.31 L344.03 40.56 L344.61 40.81 L345.18 41.06 L345.76 41.31 L346.33 41.55 L346.91 41.79 L347.48 42.03 L348.06 42.27 L348.63 42.51 L349.21 42.75 L349.78 42.98 L350.36 43.22 L350.93 43.45 L351.51 43.68 L352.08 43.91 L352.66 44.14 L353.23 44.36 L353.81 44.59 L354.38 44.81 L354.95 45.03 L355.53 45.25 L356.10 45.47 L356.68 45.69 L357.25 45.90 L357.83 46.12 L358.40 46.33 L358.98 46.54 L359.55 46.75 L360.13 46.96 L360.70 47.17 L361.28 47.38 L361.85 47.58 L362.43 47.79 L363.00 47.99 L363.58 48.19 L364.15 48.39 L364.73 48.59 L365.30 48.79" stroke="#00ff00" stroke-width="1.35" fill="none" stroke-dasharray="3.7 3.6" clip-path="url(#i01)"/>
<path d="M308.40 16.33 L308.97 16.72 L309.55 17.11 L310.12 17.50 L310.70 17.88 L311.27 18.25 L311.85 18.62 L312.42 18.99 L313.00 19.36 L313.57 19.72 L314.15 20.07 L314.72 20.43 L315.30 20.77 L315.87 21.12 L316.45 21.46 L317.02 21.80 L317.60 22.13 L318.17 22.47 L318.75 22.79 L319.32 23.12 L319.89 23.44 L320.47 23.76 L321.04 24.07 L321.62 24.38 L322.19 24.69 L322.77 25.00 L323.34 25.30 L323.92 25.60 L324.49 25.90 L325.07 26.19 L325.64 26.48 L326.22 26.77 L326.79 27.06 L327.37 27.34 L327.94 27.62 L328.52 27.90 L329.09 28.18 L329.67 28.45 L330.24 28.72 L330.82 28.99 L331.39 29.25 L331.96 29.52 L332.54 29.78 L333.11 30.04 L333.69 30.29 L334.26 30.55 L334.84 30.80 L335.41 31.05 L335.99 31.29 L336.56 31.54 L337.14 31.78 L337.71 32.02 L338.29 32.26 L338.86 32.50 L339.44 32.74 L340.01 32.97 L340.59 33.20 L341.16 33.43 L341.74 33.66 L342.31 33.88 L342.88 34.11 L343.46 34.33 L344.03 34.55 L344.61 34.77 L345.18 34.98 L345.76 35.20 L346.33 35.41 L346.91 35.62 L347.48 35.83 L348.06 36.04 L348.63 36.25 L349.21 36.45 L349.78 36.65 L350.36 36.86 L350.93 37.06 L351.51 37.26 L352.08 37.45 L352.66 37.65 L353.23 37.84 L353.81 38.04 L354.38 38.23 L354.95 38.42 L355.53 38.61 L356.10 38.79 L356.68 38.98 L357.25 39.16 L357.83 39.35 L358.40 39.53 L358.98 39.71 L359.55 39.89 L360.13 40.07 L360.70 40.24 L361.28 40.42 L361.85 40.59 L362.43 40.77 L363.00 40.94 L363.58 41.11 L364.15 41.28 L364.73 41.45 L365.30 41.61" stroke="#00ff00" stroke-width="1.35" fill="none" stroke-dasharray="3.4 1.3 1.2 1.6" clip-path="url(#i01)"/>
<path d="M308.40 56.8v-1.2M308.40 2.5v1.2M322.62 56.8v-1.2M322.62 2.5v1.2M336.85 56.8v-1.2M336.85 2.5v1.2M351.07 56.8v-1.2M351.07 2.5v1.2M365.30 56.8v-1.2M365.30 2.5v1.2M308.4 56.80h1.2M365.3 56.80h-1.2M308.4 41.20h1.2M365.3 41.20h-1.2M308.4 25.59h1.2M365.3 25.59h-1.2M308.4 9.99h1.2M365.3 9.99h-1.2" stroke="#a0a0a0" stroke-width="0.6" fill="none"/>
<rect x="308.4" y="2.5" width="56.900000000000034" height="54.3" fill="none" stroke="#c4c4c4" stroke-width="1"/>
<g font-size="4.5" fill="#111" letter-spacing="-0.05" stroke="#111" stroke-width="0.08"><text x="308.40" y="63.10" text-anchor="middle">3</text><text x="322.62" y="63.10" text-anchor="middle">3.5</text><text x="336.85" y="63.10" text-anchor="middle">4</text><text x="351.07" y="63.10" text-anchor="middle">4.5</text><text x="365.30" y="63.10" text-anchor="middle">5</text><text x="307.50" y="58.80" text-anchor="end">2.05</text><text x="307.50" y="43.20" text-anchor="end">2.1</text><text x="307.50" y="27.59" text-anchor="end">2.15</text><text x="307.50" y="11.99" text-anchor="end">2.2</text></g>
<text x="293.80" y="134.00" text-anchor="middle" font-family='"Liberation Serif", serif' font-style="italic" font-size="11.2" fill="#1a1a1a" stroke="#1a1a1a" stroke-width="0.1">ξ</text>
<clipPath id="c02"><rect x="419.5" y="1.5" width="143.60000000000002" height="112.0"/></clipPath>
<path d="M419.50 113.5v-1.5M419.50 1.5v1.5M448.22 113.5v-1.5M448.22 1.5v1.5M476.94 113.5v-1.5M476.94 1.5v1.5M505.66 113.5v-1.5M505.66 1.5v1.5M534.38 113.5v-1.5M534.38 1.5v1.5M563.10 113.5v-1.5M563.10 1.5v1.5M419.5 113.50h1.5M563.1 113.50h-1.5M419.5 101.06h1.5M563.1 101.06h-1.5M419.5 88.61h1.5M563.1 88.61h-1.5M419.5 76.17h1.5M563.1 76.17h-1.5M419.5 63.72h1.5M563.1 63.72h-1.5M419.5 51.28h1.5M563.1 51.28h-1.5M419.5 38.83h1.5M563.1 38.83h-1.5M419.5 26.39h1.5M563.1 26.39h-1.5M419.5 13.94h1.5M563.1 13.94h-1.5M419.5 1.50h1.5M563.1 1.50h-1.5" stroke="#a0a0a0" stroke-width="0.6" fill="none"/>
<g font-size="5.0" fill="#1c1c1c" letter-spacing="-0.05"><text x="419.50" y="120.60" text-anchor="middle">0</text><text x="448.22" y="120.60" text-anchor="middle">1</text><text x="476.94" y="120.60" text-anchor="middle">2</text><text x="505.66" y="120.60" text-anchor="middle">3</text><text x="534.38" y="120.60" text-anchor="middle">4</text><text x="563.10" y="120.60" text-anchor="middle">5</text><text x="417.90" y="115.45" text-anchor="end">0.75</text><text x="417.90" y="103.01" text-anchor="end">0.8</text><text x="417.90" y="90.56" text-anchor="end">0.85</text><text x="417.90" y="78.12" text-anchor="end">0.9</text><text x="417.90" y="65.67" text-anchor="end">0.95</text><text x="417.90" y="53.23" text-anchor="end">1</text><text x="417.90" y="40.78" text-anchor="end">1.05</text><text x="417.90" y="28.34" text-anchor="end">1.1</text><text x="417.90" y="15.89" text-anchor="end">1.15</text><text x="417.90" y="3.45" text-anchor="end">1.2</text></g>
<path d="M419.50 51.28 L420.22 52.32 L420.94 53.30 L421.66 54.22 L422.39 55.09 L423.11 55.91 L423.83 56.69 L424.55 57.42 L425.27 58.12 L425.99 58.79 L426.72 59.43 L427.44 60.03 L428.16 60.61 L428.88 61.17 L429.60 61.70 L430.32 62.21 L431.05 62.71 L431.77 63.18 L432.49 63.64 L433.21 64.08 L433.93 64.50 L434.65 64.92 L435.38 65.31 L436.10 65.70 L436.82 66.08 L437.54 66.44 L438.26 66.80 L438.98 67.14 L439.71 67.48 L440.43 67.80 L441.15 68.12 L441.87 68.43 L442.59 68.74 L443.31 69.04 L444.03 69.33 L444.76 69.61 L445.48 69.89 L446.20 70.17 L446.92 70.44 L447.64 70.70 L448.36 70.96 L449.09 71.21 L449.81 71.46 L450.53 71.71 L451.25 71.95 L451.97 72.19 L452.69 72.42 L453.42 72.65 L454.14 72.88 L454.86 73.10 L455.58 73.32 L456.30 73.54 L457.02 73.75 L457.75 73.96 L458.47 74.17 L459.19 74.37 L459.91 74.57 L460.63 74.77 L461.35 74.97 L462.07 75.16 L462.80 75.35 L463.52 75.54 L464.24 75.73 L464.96 75.91 L465.68 76.09 L466.40 76.27 L467.13 76.45 L467.85 76.63 L468.57 76.80 L469.29 76.97 L470.01 77.14 L470.73 77.31 L471.46 77.47 L472.18 77.63 L472.90 77.79 L473.62 77.95 L474.34 78.11 L475.06 78.27 L475.79 78.42 L476.51 78.57 L477.23 78.72 L477.95 78.87 L478.67 79.01 L479.39 79.16 L480.12 79.30 L480.84 79.44 L481.56 79.58 L482.28 79.72 L483.00 79.86 L483.72 79.99 L484.44 80.12 L485.17 80.26 L485.89 80.39 L486.61 80.51 L487.33 80.64 L488.05 80.77 L488.77 80.89 L489.50 81.01 L490.22 81.13 L490.94 81.25 L491.66 81.37 L492.38 81.49 L493.10 81.60 L493.83 81.72 L494.55 81.83 L495.27 81.94 L495.99 82.05 L496.71 82.16 L497.43 82.27 L498.16 82.37 L498.88 82.48 L499.60 82.58 L500.32 82.68 L501.04 82.78 L501.76 82.88 L502.48 82.98 L503.21 83.08 L503.93 83.18 L504.65 83.27 L505.37 83.37 L506.09 83.46 L506.81 83.55 L507.54 83.64 L508.26 83.73 L508.98 83.82 L509.70 83.91 L510.42 83.99 L511.14 84.08 L511.87 84.16 L512.59 84.25 L513.31 84.33 L514.03 84.41 L514.75 84.49 L515.47 84.57 L516.20 84.65 L516.92 84.73 L517.64 84.80 L518.36 84.88 L519.08 84.95 L519.80 85.03 L520.53 85.10 L521.25 85.17 L521.97 85.24 L522.69 85.31 L523.41 85.38 L524.13 85.45 L524.85 85.52 L525.58 85.58 L526.30 85.65 L527.02 85.71 L527.74 85.78 L528.46 85.84 L529.18 85.91 L529.91 85.97 L530.63 86.03 L531.35 86.09 L532.07 86.15 L532.79 86.21 L533.51 86.26 L534.24 86.32 L534.96 86.38 L535.68 86.43 L536.40 86.49 L537.12 86.54 L537.84 86.60 L538.57 86.65 L539.29 86.70 L540.01 86.76 L540.73 86.81 L541.45 86.86 L542.17 86.91 L542.89 86.96 L543.62 87.01 L544.34 87.05 L545.06 87.10 L545.78 87.15 L546.50 87.19 L547.22 87.24 L547.95 87.29 L548.67 87.33 L549.39 87.37 L550.11 87.42 L550.83 87.46 L551.55 87.50 L552.28 87.54 L553.00 87.59 L553.72 87.63 L554.44 87.67 L555.16 87.71 L555.88 87.75 L556.61 87.78 L557.33 87.82 L558.05 87.86 L558.77 87.90 L559.49 87.93 L560.21 87.97 L560.94 88.01 L561.66 88.04 L562.38 88.08 L563.10 88.11" stroke="#ff0000" stroke-width="1.35" fill="none" clip-path="url(#c02)"/>
<path d="M419.50 51.28 L420.22 52.30 L420.94 53.27 L421.66 54.19 L422.39 55.07 L423.11 55.90 L423.83 56.70 L424.55 57.46 L425.27 58.18 L425.99 58.87 L426.72 59.53 L427.44 60.17 L428.16 60.77 L428.88 61.35 L429.60 61.91 L430.32 62.44 L431.05 62.96 L431.77 63.45 L432.49 63.93 L433.21 64.39 L433.93 64.83 L434.65 65.26 L435.38 65.68 L436.10 66.08 L436.82 66.48 L437.54 66.86 L438.26 67.23 L438.98 67.59 L439.71 67.94 L440.43 68.28 L441.15 68.62 L441.87 68.95 L442.59 69.27 L443.31 69.58 L444.03 69.89 L444.76 70.19 L445.48 70.48 L446.20 70.77 L446.92 71.05 L447.64 71.33 L448.36 71.61 L449.09 71.88 L449.81 72.14 L450.53 72.40 L451.25 72.66 L451.97 72.92 L452.69 73.17 L453.42 73.41 L454.14 73.66 L454.86 73.90 L455.58 74.13 L456.30 74.37 L457.02 74.60 L457.75 74.82 L458.47 75.05 L459.19 75.27 L459.91 75.49 L460.63 75.71 L461.35 75.92 L462.07 76.13 L462.80 76.34 L463.52 76.55 L464.24 76.75 L464.96 76.95 L465.68 77.15 L466.40 77.35 L467.13 77.54 L467.85 77.74 L468.57 77.93 L469.29 78.11 L470.01 78.30 L470.73 78.48 L471.46 78.67 L472.18 78.85 L472.90 79.02 L473.62 79.20 L474.34 79.37 L475.06 79.55 L475.79 79.72 L476.51 79.88 L477.23 80.05 L477.95 80.21 L478.67 80.38 L479.39 80.54 L480.12 80.70 L480.84 80.85 L481.56 81.01 L482.28 81.16 L483.00 81.31 L483.72 81.46 L484.44 81.61 L485.17 81.76 L485.89 81.90 L486.61 82.04 L487.33 82.18 L488.05 82.32 L488.77 82.46 L489.50 82.60 L490.22 82.73 L490.94 82.86 L491.66 82.99 L492.38 83.12 L493.10 83.25 L493.83 83.38 L494.55 83.50 L495.27 83.62 L495.99 83.75 L496.71 83.87 L497.43 83.98 L498.16 84.10 L498.88 84.22 L499.60 84.33 L500.32 84.44 L501.04 84.55 L501.76 84.66 L502.48 84.77 L503.21 84.88 L503.93 84.98 L504.65 85.09 L505.37 85.19 L506.09 85.29 L506.81 85.39 L507.54 85.49 L508.26 85.59 L508.98 85.68 L509.70 85.78 L510.42 85.87 L511.14 85.96 L511.87 86.05 L512.59 86.14 L513.31 86.23 L514.03 86.32 L514.75 86.41 L515.47 86.49 L516.20 86.57 L516.92 86.66 L517.64 86.74 L518.36 86.82 L519.08 86.90 L519.80 86.97 L520.53 87.05 L521.25 87.13 L521.97 87.20 L522.69 87.27 L523.41 87.35 L524.13 87.42 L524.85 87.49 L525.58 87.56 L526.30 87.63 L527.02 87.69 L527.74 87.76 L528.46 87.83 L529.18 87.89 L529.91 87.95 L530.63 88.02 L531.35 88.08 L532.07 88.14 L532.79 88.20 L533.51 88.26 L534.24 88.31 L534.96 88.37 L535.68 88.43 L536.40 88.48 L537.12 88.54 L537.84 88.59 L538.57 88.64 L539.29 88.69 L540.01 88.74 L540.73 88.80 L541.45 88.84 L542.17 88.89 L542.89 88.94 L543.62 88.99 L544.34 89.03 L545.06 89.08 L545.78 89.12 L546.50 89.17 L547.22 89.21 L547.95 89.25 L548.67 89.30 L549.39 89.34 L550.11 89.38 L550.83 89.42 L551.55 89.46 L552.28 89.50 L553.00 89.53 L553.72 89.57 L554.44 89.61 L555.16 89.64 L555.88 89.68 L556.61 89.71 L557.33 89.75 L558.05 89.78 L558.77 89.81 L559.49 89.85 L560.21 89.88 L560.94 89.91 L561.66 89.94 L562.38 89.97 L563.10 90.00" stroke="#ff0000" stroke-width="1.35" fill="none" stroke-dasharray="3.7 3.6" clip-path="url(#c02)"/>
<path d="M419.50 51.28 L420.22 52.30 L420.94 53.28 L421.66 54.21 L422.39 55.10 L423.11 55.95 L423.83 56.77 L424.55 57.54 L425.27 58.29 L425.99 59.00 L426.72 59.68 L427.44 60.33 L428.16 60.96 L428.88 61.56 L429.60 62.14 L430.32 62.70 L431.05 63.24 L431.77 63.75 L432.49 64.25 L433.21 64.74 L433.93 65.21 L434.65 65.66 L435.38 66.10 L436.10 66.52 L436.82 66.94 L437.54 67.34 L438.26 67.73 L438.98 68.12 L439.71 68.49 L440.43 68.85 L441.15 69.21 L441.87 69.56 L442.59 69.90 L443.31 70.23 L444.03 70.56 L444.76 70.88 L445.48 71.19 L446.20 71.50 L446.92 71.81 L447.64 72.10 L448.36 72.40 L449.09 72.69 L449.81 72.97 L450.53 73.25 L451.25 73.53 L451.97 73.80 L452.69 74.07 L453.42 74.33 L454.14 74.59 L454.86 74.85 L455.58 75.10 L456.30 75.35 L457.02 75.60 L457.75 75.85 L458.47 76.09 L459.19 76.33 L459.91 76.56 L460.63 76.80 L461.35 77.03 L462.07 77.26 L462.80 77.48 L463.52 77.71 L464.24 77.93 L464.96 78.15 L465.68 78.36 L466.40 78.58 L467.13 78.79 L467.85 79.00 L468.57 79.21 L469.29 79.41 L470.01 79.62 L470.73 79.82 L471.46 80.02 L472.18 80.22 L472.90 80.41 L473.62 80.60 L474.34 80.80 L475.06 80.99 L475.79 81.17 L476.51 81.36 L477.23 81.54 L477.95 81.72 L478.67 81.90 L479.39 82.08 L480.12 82.26 L480.84 82.43 L481.56 82.61 L482.28 82.78 L483.00 82.95 L483.72 83.12 L484.44 83.28 L485.17 83.45 L485.89 83.61 L486.61 83.77 L487.33 83.93 L488.05 84.09 L488.77 84.25 L489.50 84.40 L490.22 84.56 L490.94 84.71 L491.66 84.86 L492.38 85.01 L493.10 85.15 L493.83 85.30 L494.55 85.44 L495.27 85.59 L495.99 85.73 L496.71 85.87 L497.43 86.01 L498.16 86.14 L498.88 86.28 L499.60 86.41 L500.32 86.55 L501.04 86.68 L501.76 86.81 L502.48 86.94 L503.21 87.07 L503.93 87.19 L504.65 87.32 L505.37 87.44 L506.09 87.56 L506.81 87.69 L507.54 87.81 L508.26 87.92 L508.98 88.04 L509.70 88.16 L510.42 88.27 L511.14 88.39 L511.87 88.50 L512.59 88.61 L513.31 88.72 L514.03 88.83 L514.75 88.94 L515.47 89.05 L516.20 89.15 L516.92 89.26 L517.64 89.36 L518.36 89.46 L519.08 89.56 L519.80 89.66 L520.53 89.76 L521.25 89.86 L521.97 89.96 L522.69 90.06 L523.41 90.15 L524.13 90.25 L524.85 90.34 L525.58 90.43 L526.30 90.52 L527.02 90.61 L527.74 90.70 L528.46 90.79 L529.18 90.88 L529.91 90.97 L530.63 91.05 L531.35 91.14 L532.07 91.22 L532.79 91.30 L533.51 91.39 L534.24 91.47 L534.96 91.55 L535.68 91.63 L536.40 91.71 L537.12 91.78 L537.84 91.86 L538.57 91.94 L539.29 92.01 L540.01 92.09 L540.73 92.16 L541.45 92.24 L542.17 92.31 L542.89 92.38 L543.62 92.45 L544.34 92.52 L545.06 92.59 L545.78 92.66 L546.50 92.73 L547.22 92.80 L547.95 92.86 L548.67 92.93 L549.39 92.99 L550.11 93.06 L550.83 93.12 L551.55 93.19 L552.28 93.25 L553.00 93.31 L553.72 93.37 L554.44 93.43 L555.16 93.49 L555.88 93.55 L556.61 93.61 L557.33 93.67 L558.05 93.73 L558.77 93.78 L559.49 93.84 L560.21 93.90 L560.94 93.95 L561.66 94.01 L562.38 94.06 L563.10 94.12" stroke="#ff0000" stroke-width="1.35" fill="none" stroke-dasharray="3.4 1.3 1.2 1.6" clip-path="url(#c02)"/>
<rect x="419.5" y="1.5" width="143.60000000000002" height="112.0" fill="none" stroke="#c4c4c4" stroke-width="1"/>
<path d="M429.3 10.55H443.0" stroke="#ff0000" stroke-width="1.55" fill="none"/>
<path d="M429.3 20.25H443.0" stroke="#ff0000" stroke-width="1.3" fill="none" stroke-dasharray="3.8 3.8"/>
<path d="M429.3 28.95H443.0" stroke="#ff0000" stroke-width="1.3" fill="none" stroke-dasharray="3.4 1.1 1.9 1.1"/>
<g font-size="6.2" fill="#111" stroke="#111" stroke-width="0.1"><text x="443.90" y="12.85" textLength="18.00" lengthAdjust="spacingAndGlyphs">No WD</text><text x="443.90" y="22.55" textLength="16.40" lengthAdjust="spacingAndGlyphs">CLWD</text><text x="443.90" y="31.25" textLength="14.20" lengthAdjust="spacingAndGlyphs">NLLD</text></g>
<rect x="506.0" y="2.4" width="55.5" height="49.1" fill="#fff" stroke="none"/>
<clipPath id="i02"><rect x="506.0" y="2.4" width="55.5" height="49.1"/></clipPath>
<path d="M506.00 2.09 L506.56 2.38 L507.12 2.67 L507.68 2.95 L508.24 3.23 L508.80 3.51 L509.36 3.79 L509.92 4.06 L510.48 4.33 L511.05 4.60 L511.61 4.87 L512.17 5.13 L512.73 5.39 L513.29 5.65 L513.85 5.91 L514.41 6.16 L514.97 6.41 L515.53 6.66 L516.09 6.90 L516.65 7.15 L517.21 7.39 L517.77 7.63 L518.33 7.86 L518.89 8.10 L519.45 8.33 L520.02 8.56 L520.58 8.78 L521.14 9.01 L521.70 9.23 L522.26 9.45 L522.82 9.67 L523.38 9.88 L523.94 10.10 L524.50 10.31 L525.06 10.52 L525.62 10.73 L526.18 10.93 L526.74 11.13 L527.30 11.34 L527.86 11.54 L528.42 11.73 L528.98 11.93 L529.55 12.12 L530.11 12.31 L530.67 12.50 L531.23 12.69 L531.79 12.88 L532.35 13.06 L532.91 13.24 L533.47 13.42 L534.03 13.60 L534.59 13.78 L535.15 13.95 L535.71 14.12 L536.27 14.29 L536.83 14.46 L537.39 14.63 L537.95 14.80 L538.52 14.96 L539.08 15.13 L539.64 15.29 L540.20 15.45 L540.76 15.60 L541.32 15.76 L541.88 15.91 L542.44 16.07 L543.00 16.22 L543.56 16.37 L544.12 16.52 L544.68 16.66 L545.24 16.81 L545.80 16.95 L546.36 17.10 L546.92 17.24 L547.48 17.38 L548.05 17.52 L548.61 17.65 L549.17 17.79 L549.73 17.92 L550.29 18.05 L550.85 18.19 L551.41 18.32 L551.97 18.44 L552.53 18.57 L553.09 18.70 L553.65 18.82 L554.21 18.95 L554.77 19.07 L555.33 19.19 L555.89 19.31 L556.45 19.43 L557.02 19.54 L557.58 19.66 L558.14 19.77 L558.70 19.89 L559.26 20.00 L559.82 20.11 L560.38 20.22 L560.94 20.33 L561.50 20.44" stroke="#ff0000" stroke-width="1.35" fill="none" clip-path="url(#i02)"/>
<path d="M506.00 9.21 L506.56 9.53 L507.12 9.84 L507.68 10.15 L508.24 10.45 L508.80 10.76 L509.36 11.06 L509.92 11.35 L510.48 11.65 L511.05 11.94 L511.61 12.22 L512.17 12.51 L512.73 12.79 L513.29 13.06 L513.85 13.34 L514.41 13.61 L514.97 13.88 L515.53 14.14 L516.09 14.40 L516.65 14.66 L517.21 14.92 L517.77 15.17 L518.33 15.42 L518.89 15.67 L519.45 15.92 L520.02 16.16 L520.58 16.40 L521.14 16.63 L521.70 16.87 L522.26 17.10 L522.82 17.33 L523.38 17.55 L523.94 17.77 L524.50 17.99 L525.06 18.21 L525.62 18.43 L526.18 18.64 L526.74 18.85 L527.30 19.06 L527.86 19.26 L528.42 19.47 L528.98 19.67 L529.55 19.86 L530.11 20.06 L530.67 20.25 L531.23 20.44 L531.79 20.63 L532.35 20.82 L532.91 21.00 L533.47 21.18 L534.03 21.36 L534.59 21.54 L535.15 21.71 L535.71 21.89 L536.27 22.06 L536.83 22.23 L537.39 22.39 L537.95 22.56 L538.52 22.72 L539.08 22.88 L539.64 23.04 L540.20 23.19 L540.76 23.35 L541.32 23.50 L541.88 23.65 L542.44 23.80 L543.00 23.94 L543.56 24.09 L544.12 24.23 L544.68 24.37 L545.24 24.51 L545.80 24.65 L546.36 24.78 L546.92 24.91 L547.48 25.05 L548.05 25.18 L548.61 25.30 L549.17 25.43 L549.73 25.55 L550.29 25.68 L550.85 25.80 L551.41 25.92 L551.97 26.04 L552.53 26.15 L553.09 26.27 L553.65 26.38 L554.21 26.49 L554.77 26.60 L555.33 26.71 L555.89 26.82 L556.45 26.92 L557.02 27.03 L557.58 27.13 L558.14 27.23 L558.70 27.33 L559.26 27.43 L559.82 27.52 L560.38 27.62 L560.94 27.71 L561.50 27.81" stroke="#ff0000" stroke-width="1.35" fill="none" stroke-dasharray="3.7 3.6" clip-path="url(#i02)"/>
<path d="M506.00 18.02 L506.56 18.40 L507.12 18.78 L507.68 19.16 L508.24 19.53 L508.80 19.90 L509.36 20.27 L509.92 20.63 L510.48 21.00 L511.05 21.35 L511.61 21.71 L512.17 22.06 L512.73 22.41 L513.29 22.76 L513.85 23.10 L514.41 23.44 L514.97 23.78 L515.53 24.11 L516.09 24.44 L516.65 24.77 L517.21 25.10 L517.77 25.42 L518.33 25.74 L518.89 26.06 L519.45 26.38 L520.02 26.69 L520.58 27.00 L521.14 27.31 L521.70 27.61 L522.26 27.92 L522.82 28.22 L523.38 28.51 L523.94 28.81 L524.50 29.10 L525.06 29.39 L525.62 29.68 L526.18 29.97 L526.74 30.25 L527.30 30.53 L527.86 30.81 L528.42 31.08 L528.98 31.36 L529.55 31.63 L530.11 31.90 L530.67 32.16 L531.23 32.43 L531.79 32.69 L532.35 32.95 L532.91 33.21 L533.47 33.46 L534.03 33.72 L534.59 33.97 L535.15 34.22 L535.71 34.46 L536.27 34.71 L536.83 34.95 L537.39 35.19 L537.95 35.43 L538.52 35.67 L539.08 35.90 L539.64 36.14 L540.20 36.37 L540.76 36.59 L541.32 36.82 L541.88 37.05 L542.44 37.27 L543.00 37.49 L543.56 37.71 L544.12 37.93 L544.68 38.15 L545.24 38.36 L545.80 38.57 L546.36 38.78 L546.92 38.99 L547.48 39.20 L548.05 39.40 L548.61 39.61 L549.17 39.81 L549.73 40.01 L550.29 40.21 L550.85 40.40 L551.41 40.60 L551.97 40.79 L552.53 40.99 L553.09 41.18 L553.65 41.36 L554.21 41.55 L554.77 41.74 L555.33 41.92 L555.89 42.10 L556.45 42.29 L557.02 42.46 L557.58 42.64 L558.14 42.82 L558.70 43.00 L559.26 43.17 L559.82 43.34 L560.38 43.51 L560.94 43.68 L561.50 43.85" stroke="#ff0000" stroke-width="1.35" fill="none" stroke-dasharray="3.4 1.3 1.2 1.6" clip-path="url(#i02)"/>
<path d="M506.00 51.5v-1.2M506.00 2.4v1.2M519.88 51.5v-1.2M519.88 2.4v1.2M533.75 51.5v-1.2M533.75 2.4v1.2M547.62 51.5v-1.2M547.62 2.4v1.2M561.50 51.5v-1.2M561.50 2.4v1.2M506.0 51.50h1.2M561.5 51.50h-1.2M506.0 41.80h1.2M561.5 41.80h-1.2M506.0 32.09h1.2M561.5 32.09h-1.2M506.0 22.39h1.2M561.5 22.39h-1.2M506.0 12.69h1.2M561.5 12.69h-1.2M506.0 2.98h1.2M561.5 2.98h-1.2" stroke="#a0a0a0" stroke-width="0.6" fill="none"/>
<rect x="506.0" y="2.4" width="55.5" height="49.1" fill="none" stroke="#c4c4c4" stroke-width="1"/>
<g font-size="4.5" fill="#111" letter-spacing="-0.05" stroke="#111" stroke-width="0.08"><text x="506.00" y="57.80" text-anchor="middle">3</text><text x="519.88" y="57.80" text-anchor="middle">3.5</text><text x="533.75" y="57.80" text-anchor="middle">4</text><text x="547.62" y="57.80" text-anchor="middle">4.5</text><text x="561.50" y="57.80" text-anchor="middle">5</text><text x="505.10" y="53.50" text-anchor="end">0.82</text><text x="505.10" y="43.80" text-anchor="end">0.83</text><text x="505.10" y="34.09" text-anchor="end">0.84</text><text x="505.10" y="24.39" text-anchor="end">0.85</text><text x="505.10" y="14.69" text-anchor="end">0.86</text><text x="505.10" y="4.98" text-anchor="end">0.87</text></g>
<text x="491.20" y="134.00" text-anchor="middle" font-family='"Liberation Serif", serif' font-style="italic" font-size="11.2" fill="#1a1a1a" stroke="#1a1a1a" stroke-width="0.1">ξ</text>
<clipPath id="c03"><rect x="619.0" y="1.5" width="139.79999999999995" height="112.0"/></clipPath>
<path d="M619.00 113.5v-1.5M619.00 1.5v1.5M646.96 113.5v-1.5M646.96 1.5v1.5M674.92 113.5v-1.5M674.92 1.5v1.5M702.88 113.5v-1.5M702.88 1.5v1.5M730.84 113.5v-1.5M730.84 1.5v1.5M758.80 113.5v-1.5M758.80 1.5v1.5M619.0 113.50h1.5M758.8 113.50h-1.5M619.0 102.30h1.5M758.8 102.30h-1.5M619.0 91.10h1.5M758.8 91.10h-1.5M619.0 79.90h1.5M758.8 79.90h-1.5M619.0 68.70h1.5M758.8 68.70h-1.5M619.0 57.50h1.5M758.8 57.50h-1.5M619.0 46.30h1.5M758.8 46.30h-1.5M619.0 35.10h1.5M758.8 35.10h-1.5M619.0 23.90h1.5M758.8 23.90h-1.5M619.0 12.70h1.5M758.8 12.70h-1.5M619.0 1.50h1.5M758.8 1.50h-1.5" stroke="#a0a0a0" stroke-width="0.6" fill="none"/>
<g font-size="5.0" fill="#1c1c1c" letter-spacing="-0.05"><text x="619.00" y="120.60" text-anchor="middle">0</text><text x="646.96" y="120.60" text-anchor="middle">1</text><text x="674.92" y="120.60" text-anchor="middle">2</text><text x="702.88" y="120.60" text-anchor="middle">3</text><text x="730.84" y="120.60" text-anchor="middle">4</text><text x="758.80" y="120.60" text-anchor="middle">5</text><text x="617.40" y="115.45" text-anchor="end">0</text><text x="617.40" y="104.25" text-anchor="end">0.05</text><text x="617.40" y="93.05" text-anchor="end">0.1</text><text x="617.40" y="81.85" text-anchor="end">0.15</text><text x="617.40" y="70.65" text-anchor="end">0.2</text><text x="617.40" y="59.45" text-anchor="end">0.25</text><text x="617.40" y="48.25" text-anchor="end">0.3</text><text x="617.40" y="37.05" text-anchor="end">0.35</text><text x="617.40" y="25.85" text-anchor="end">0.4</text><text x="617.40" y="14.65" text-anchor="end">0.45</text><text x="617.40" y="3.45" text-anchor="end">0.5</text></g>
<path d="M619.00 57.50 L619.70 57.67 L620.41 57.83 L621.11 57.98 L621.81 58.12 L622.51 58.25 L623.22 58.38 L623.92 58.51 L624.62 58.62 L625.32 58.74 L626.03 58.85 L626.73 58.95 L627.43 59.05 L628.13 59.15 L628.84 59.24 L629.54 59.34 L630.24 59.42 L630.94 59.51 L631.65 59.59 L632.35 59.67 L633.05 59.75 L633.75 59.83 L634.46 59.90 L635.16 59.97 L635.86 60.04 L636.56 60.11 L637.27 60.17 L637.97 60.23 L638.67 60.30 L639.37 60.36 L640.08 60.41 L640.78 60.47 L641.48 60.53 L642.18 60.58 L642.89 60.63 L643.59 60.68 L644.29 60.73 L644.99 60.78 L645.70 60.83 L646.40 60.87 L647.10 60.92 L647.80 60.96 L648.51 61.00 L649.21 61.05 L649.91 61.09 L650.61 61.12 L651.32 61.16 L652.02 61.20 L652.72 61.24 L653.42 61.27 L654.13 61.31 L654.83 61.34 L655.53 61.37 L656.23 61.41 L656.94 61.44 L657.64 61.47 L658.34 61.50 L659.04 61.53 L659.75 61.56 L660.45 61.58 L661.15 61.61 L661.85 61.64 L662.56 61.66 L663.26 61.69 L663.96 61.71 L664.66 61.74 L665.37 61.76 L666.07 61.78 L666.77 61.81 L667.47 61.83 L668.18 61.85 L668.88 61.87 L669.58 61.89 L670.28 61.91 L670.99 61.93 L671.69 61.95 L672.39 61.97 L673.09 61.99 L673.80 62.01 L674.50 62.02 L675.20 62.04 L675.90 62.06 L676.61 62.07 L677.31 62.09 L678.01 62.11 L678.71 62.12 L679.42 62.14 L680.12 62.15 L680.82 62.17 L681.52 62.18 L682.23 62.19 L682.93 62.21 L683.63 62.22 L684.33 62.23 L685.04 62.25 L685.74 62.26 L686.44 62.27 L687.14 62.28 L687.85 62.29 L688.55 62.31 L689.25 62.32 L689.95 62.33 L690.66 62.34 L691.36 62.35 L692.06 62.36 L692.76 62.37 L693.47 62.38 L694.17 62.39 L694.87 62.40 L695.57 62.41 L696.28 62.42 L696.98 62.43 L697.68 62.43 L698.38 62.44 L699.09 62.45 L699.79 62.46 L700.49 62.47 L701.19 62.47 L701.90 62.48 L702.60 62.49 L703.30 62.50 L704.00 62.50 L704.71 62.51 L705.41 62.52 L706.11 62.53 L706.81 62.53 L707.52 62.54 L708.22 62.55 L708.92 62.55 L709.62 62.56 L710.33 62.56 L711.03 62.57 L711.73 62.58 L712.43 62.58 L713.14 62.59 L713.84 62.59 L714.54 62.60 L715.24 62.60 L715.95 62.61 L716.65 62.61 L717.35 62.62 L718.05 62.62 L718.76 62.63 L719.46 62.63 L720.16 62.64 L720.86 62.64 L721.57 62.65 L722.27 62.65 L722.97 62.65 L723.67 62.66 L724.38 62.66 L725.08 62.67 L725.78 62.67 L726.48 62.67 L727.19 62.68 L727.89 62.68 L728.59 62.69 L729.29 62.69 L730.00 62.69 L730.70 62.70 L731.40 62.70 L732.10 62.70 L732.81 62.71 L733.51 62.71 L734.21 62.71 L734.91 62.72 L735.62 62.72 L736.32 62.72 L737.02 62.72 L737.72 62.73 L738.43 62.73 L739.13 62.73 L739.83 62.73 L740.53 62.74 L741.24 62.74 L741.94 62.74 L742.64 62.74 L743.34 62.75 L744.05 62.75 L744.75 62.75 L745.45 62.75 L746.15 62.76 L746.86 62.76 L747.56 62.76 L748.26 62.76 L748.96 62.77 L749.67 62.77 L750.37 62.77 L751.07 62.77 L751.77 62.77 L752.48 62.77 L753.18 62.78 L753.88 62.78 L754.58 62.78 L755.29 62.78 L755.99 62.78 L756.69 62.79 L757.39 62.79 L758.10 62.79 L758.80 62.79" stroke="#ff00ff" stroke-width="1.75" fill="none" clip-path="url(#c03)"/>
<path d="M619.00 57.50 L619.70 58.00 L620.41 58.44 L621.11 58.82 L621.81 59.15 L622.51 59.45 L623.22 59.72 L623.92 59.97 L624.62 60.19 L625.32 60.41 L626.03 60.61 L626.73 60.80 L627.43 60.98 L628.13 61.15 L628.84 61.32 L629.54 61.49 L630.24 61.65 L630.94 61.81 L631.65 61.96 L632.35 62.11 L633.05 62.26 L633.75 62.41 L634.46 62.55 L635.16 62.69 L635.86 62.83 L636.56 62.97 L637.27 63.11 L637.97 63.24 L638.67 63.37 L639.37 63.50 L640.08 63.63 L640.78 63.75 L641.48 63.87 L642.18 63.99 L642.89 64.11 L643.59 64.23 L644.29 64.34 L644.99 64.46 L645.70 64.57 L646.40 64.67 L647.10 64.78 L647.80 64.88 L648.51 64.98 L649.21 65.08 L649.91 65.18 L650.61 65.28 L651.32 65.37 L652.02 65.46 L652.72 65.55 L653.42 65.64 L654.13 65.73 L654.83 65.81 L655.53 65.89 L656.23 65.97 L656.94 66.05 L657.64 66.13 L658.34 66.20 L659.04 66.28 L659.75 66.35 L660.45 66.42 L661.15 66.49 L661.85 66.56 L662.56 66.62 L663.26 66.69 L663.96 66.75 L664.66 66.81 L665.37 66.87 L666.07 66.93 L666.77 66.99 L667.47 67.05 L668.18 67.10 L668.88 67.16 L669.58 67.21 L670.28 67.26 L670.99 67.31 L671.69 67.36 L672.39 67.41 L673.09 67.46 L673.80 67.51 L674.50 67.55 L675.20 67.60 L675.90 67.64 L676.61 67.68 L677.31 67.73 L678.01 67.77 L678.71 67.81 L679.42 67.85 L680.12 67.89 L680.82 67.92 L681.52 67.96 L682.23 68.00 L682.93 68.03 L683.63 68.07 L684.33 68.10 L685.04 68.14 L685.74 68.17 L686.44 68.20 L687.14 68.23 L687.85 68.27 L688.55 68.30 L689.25 68.33 L689.95 68.36 L690.66 68.39 L691.36 68.41 L692.06 68.44 L692.76 68.47 L693.47 68.50 L694.17 68.52 L694.87 68.55 L695.57 68.58 L696.28 68.60 L696.98 68.63 L697.68 68.65 L698.38 68.68 L699.09 68.70 L699.79 68.72 L700.49 68.75 L701.19 68.77 L701.90 68.79 L702.60 68.81 L703.30 68.83 L704.00 68.86 L704.71 68.88 L705.41 68.90 L706.11 68.92 L706.81 68.94 L707.52 68.96 L708.22 68.98 L708.92 69.00 L709.62 69.02 L710.33 69.04 L711.03 69.05 L711.73 69.07 L712.43 69.09 L713.14 69.11 L713.84 69.13 L714.54 69.14 L715.24 69.16 L715.95 69.18 L716.65 69.20 L717.35 69.21 L718.05 69.23 L718.76 69.24 L719.46 69.26 L720.16 69.28 L720.86 69.29 L721.57 69.31 L722.27 69.32 L722.97 69.34 L723.67 69.35 L724.38 69.37 L725.08 69.38 L725.78 69.40 L726.48 69.41 L727.19 69.43 L727.89 69.44 L728.59 69.46 L729.29 69.47 L730.00 69.48 L730.70 69.50 L731.40 69.51 L732.10 69.52 L732.81 69.54 L733.51 69.55 L734.21 69.56 L734.91 69.58 L735.62 69.59 L736.32 69.60 L737.02 69.61 L737.72 69.63 L738.43 69.64 L739.13 69.65 L739.83 69.66 L740.53 69.68 L741.24 69.69 L741.94 69.70 L742.64 69.71 L743.34 69.72 L744.05 69.74 L744.75 69.75 L745.45 69.76 L746.15 69.77 L746.86 69.78 L747.56 69.79 L748.26 69.80 L748.96 69.82 L749.67 69.83 L750.37 69.84 L751.07 69.85 L751.77 69.86 L752.48 69.87 L753.18 69.88 L753.88 69.89 L754.58 69.90 L755.29 69.91 L755.99 69.92 L756.69 69.93 L757.39 69.94 L758.10 69.95 L758.80 69.96" stroke="#ff00ff" stroke-width="1.35" fill="none" stroke-dasharray="3.7 3.6" clip-path="url(#c03)"/>
<path d="M619.00 57.50 L619.70 58.17 L620.41 58.70 L621.11 59.13 L621.81 59.49 L622.51 59.78 L623.22 60.02 L623.92 60.23 L624.62 60.41 L625.32 60.58 L626.03 60.73 L626.73 60.86 L627.43 61.00 L628.13 61.12 L628.84 61.25 L629.54 61.38 L630.24 61.50 L630.94 61.63 L631.65 61.76 L632.35 61.89 L633.05 62.03 L633.75 62.16 L634.46 62.30 L635.16 62.44 L635.86 62.58 L636.56 62.72 L637.27 62.86 L637.97 63.00 L638.67 63.15 L639.37 63.29 L640.08 63.44 L640.78 63.58 L641.48 63.73 L642.18 63.87 L642.89 64.01 L643.59 64.16 L644.29 64.30 L644.99 64.44 L645.70 64.58 L646.40 64.72 L647.10 64.86 L647.80 64.99 L648.51 65.13 L649.21 65.26 L649.91 65.39 L650.61 65.52 L651.32 65.65 L652.02 65.77 L652.72 65.90 L653.42 66.02 L654.13 66.14 L654.83 66.26 L655.53 66.38 L656.23 66.50 L656.94 66.61 L657.64 66.73 L658.34 66.84 L659.04 66.95 L659.75 67.05 L660.45 67.16 L661.15 67.27 L661.85 67.37 L662.56 67.47 L663.26 67.57 L663.96 67.67 L664.66 67.77 L665.37 67.87 L666.07 67.96 L666.77 68.06 L667.47 68.15 L668.18 68.24 L668.88 68.33 L669.58 68.42 L670.28 68.51 L670.99 68.60 L671.69 68.68 L672.39 68.77 L673.09 68.85 L673.80 68.93 L674.50 69.02 L675.20 69.10 L675.90 69.18 L676.61 69.26 L677.31 69.34 L678.01 69.42 L678.71 69.49 L679.42 69.57 L680.12 69.65 L680.82 69.72 L681.52 69.80 L682.23 69.87 L682.93 69.94 L683.63 70.02 L684.33 70.09 L685.04 70.16 L685.74 70.23 L686.44 70.30 L687.14 70.38 L687.85 70.45 L688.55 70.52 L689.25 70.59 L689.95 70.65 L690.66 70.72 L691.36 70.79 L692.06 70.86 L692.76 70.93 L693.47 70.99 L694.17 71.06 L694.87 71.13 L695.57 71.20 L696.28 71.26 L696.98 71.33 L697.68 71.39 L698.38 71.46 L699.09 71.53 L699.79 71.59 L700.49 71.66 L701.19 71.72 L701.90 71.79 L702.60 71.85 L703.30 71.92 L704.00 71.98 L704.71 72.05 L705.41 72.11 L706.11 72.17 L706.81 72.24 L707.52 72.30 L708.22 72.37 L708.92 72.43 L709.62 72.49 L710.33 72.56 L711.03 72.62 L711.73 72.68 L712.43 72.75 L713.14 72.81 L713.84 72.87 L714.54 72.94 L715.24 73.00 L715.95 73.06 L716.65 73.13 L717.35 73.19 L718.05 73.25 L718.76 73.32 L719.46 73.38 L720.16 73.44 L720.86 73.50 L721.57 73.57 L722.27 73.63 L722.97 73.69 L723.67 73.76 L724.38 73.82 L725.08 73.88 L725.78 73.94 L726.48 74.01 L727.19 74.07 L727.89 74.13 L728.59 74.19 L729.29 74.26 L730.00 74.32 L730.70 74.38 L731.40 74.44 L732.10 74.51 L732.81 74.57 L733.51 74.63 L734.21 74.69 L734.91 74.76 L735.62 74.82 L736.32 74.88 L737.02 74.94 L737.72 75.01 L738.43 75.07 L739.13 75.13 L739.83 75.19 L740.53 75.26 L741.24 75.32 L741.94 75.38 L742.64 75.44 L743.34 75.51 L744.05 75.57 L744.75 75.63 L745.45 75.69 L746.15 75.75 L746.86 75.82 L747.56 75.88 L748.26 75.94 L748.96 76.00 L749.67 76.06 L750.37 76.13 L751.07 76.19 L751.77 76.25 L752.48 76.31 L753.18 76.37 L753.88 76.44 L754.58 76.50 L755.29 76.56 L755.99 76.62 L756.69 76.68 L757.39 76.74 L758.10 76.80 L758.80 76.87" stroke="#ff00ff" stroke-width="1.35" fill="none" stroke-dasharray="3.4 1.3 1.2 1.6" clip-path="url(#c03)"/>
<rect x="619.0" y="1.5" width="139.79999999999995" height="112.0" fill="none" stroke="#c4c4c4" stroke-width="1"/>
<path d="M625.4 9.45H639.1" stroke="#ff00ff" stroke-width="1.9" fill="none"/>
<path d="M625.4 18.75H639.1" stroke="#ff00ff" stroke-width="1.3" fill="none" stroke-dasharray="3.8 3.8"/>
<path d="M625.4 27.75H639.1" stroke="#ff00ff" stroke-width="1.3" fill="none" stroke-dasharray="3.4 1.1 1.9 1.1"/>
<g font-size="6.2" fill="#111" stroke="#111" stroke-width="0.1"><text x="640.00" y="11.75" textLength="18.00" lengthAdjust="spacingAndGlyphs">No WD</text><text x="640.00" y="21.05" textLength="16.40" lengthAdjust="spacingAndGlyphs">CLWD</text><text x="640.00" y="30.05" textLength="14.20" lengthAdjust="spacingAndGlyphs">NLLD</text></g>
<rect x="703.0" y="2.4" width="53.299999999999955" height="43.5" fill="#fff" stroke="none"/>
<clipPath id="i03"><rect x="703.0" y="2.4" width="53.299999999999955" height="43.5"/></clipPath>
<path d="M703.00 13.02 L703.54 13.03 L704.08 13.04 L704.62 13.05 L705.15 13.06 L705.69 13.07 L706.23 13.08 L706.77 13.09 L707.31 13.10 L707.85 13.11 L708.38 13.12 L708.92 13.13 L709.46 13.14 L710.00 13.15 L710.54 13.16 L711.08 13.17 L711.61 13.18 L712.15 13.18 L712.69 13.19 L713.23 13.20 L713.77 13.21 L714.31 13.22 L714.84 13.22 L715.38 13.23 L715.92 13.24 L716.46 13.25 L717.00 13.26 L717.54 13.26 L718.07 13.27 L718.61 13.28 L719.15 13.28 L719.69 13.29 L720.23 13.30 L720.77 13.30 L721.31 13.31 L721.84 13.32 L722.38 13.32 L722.92 13.33 L723.46 13.34 L724.00 13.34 L724.54 13.35 L725.07 13.35 L725.61 13.36 L726.15 13.37 L726.69 13.37 L727.23 13.38 L727.77 13.38 L728.30 13.39 L728.84 13.39 L729.38 13.40 L729.92 13.40 L730.46 13.41 L731.00 13.41 L731.53 13.42 L732.07 13.42 L732.61 13.43 L733.15 13.43 L733.69 13.44 L734.23 13.44 L734.76 13.45 L735.30 13.45 L735.84 13.46 L736.38 13.46 L736.92 13.46 L737.46 13.47 L737.99 13.47 L738.53 13.48 L739.07 13.48 L739.61 13.48 L740.15 13.49 L740.69 13.49 L741.23 13.50 L741.76 13.50 L742.30 13.50 L742.84 13.51 L743.38 13.51 L743.92 13.51 L744.46 13.52 L744.99 13.52 L745.53 13.52 L746.07 13.53 L746.61 13.53 L747.15 13.53 L747.69 13.54 L748.22 13.54 L748.76 13.54 L749.30 13.54 L749.84 13.55 L750.38 13.55 L750.92 13.55 L751.45 13.56 L751.99 13.56 L752.53 13.56 L753.07 13.56 L753.61 13.57 L754.15 13.57 L754.68 13.57 L755.22 13.57 L755.76 13.58 L756.30 13.58" stroke="#ff00ff" stroke-width="1.75" fill="none" clip-path="url(#i03)"/>
<path d="M703.00 24.97 L703.54 25.01 L704.08 25.04 L704.62 25.07 L705.15 25.10 L705.69 25.13 L706.23 25.16 L706.77 25.19 L707.31 25.23 L707.85 25.26 L708.38 25.28 L708.92 25.31 L709.46 25.34 L710.00 25.37 L710.54 25.40 L711.08 25.43 L711.61 25.46 L712.15 25.48 L712.69 25.51 L713.23 25.54 L713.77 25.56 L714.31 25.59 L714.84 25.62 L715.38 25.64 L715.92 25.67 L716.46 25.69 L717.00 25.72 L717.54 25.74 L718.07 25.77 L718.61 25.79 L719.15 25.82 L719.69 25.84 L720.23 25.87 L720.77 25.89 L721.31 25.91 L721.84 25.94 L722.38 25.96 L722.92 25.98 L723.46 26.00 L724.00 26.03 L724.54 26.05 L725.07 26.07 L725.61 26.09 L726.15 26.12 L726.69 26.14 L727.23 26.16 L727.77 26.18 L728.30 26.20 L728.84 26.22 L729.38 26.24 L729.92 26.26 L730.46 26.28 L731.00 26.30 L731.53 26.32 L732.07 26.34 L732.61 26.36 L733.15 26.38 L733.69 26.40 L734.23 26.42 L734.76 26.44 L735.30 26.46 L735.84 26.48 L736.38 26.50 L736.92 26.52 L737.46 26.54 L737.99 26.56 L738.53 26.58 L739.07 26.59 L739.61 26.61 L740.15 26.63 L740.69 26.65 L741.23 26.67 L741.76 26.68 L742.30 26.70 L742.84 26.72 L743.38 26.74 L743.92 26.75 L744.46 26.77 L744.99 26.79 L745.53 26.81 L746.07 26.82 L746.61 26.84 L747.15 26.86 L747.69 26.87 L748.22 26.89 L748.76 26.91 L749.30 26.92 L749.84 26.94 L750.38 26.96 L750.92 26.97 L751.45 26.99 L751.99 27.01 L752.53 27.02 L753.07 27.04 L753.61 27.05 L754.15 27.07 L754.68 27.08 L755.22 27.10 L755.76 27.12 L756.30 27.13" stroke="#ff00ff" stroke-width="1.35" fill="none" stroke-dasharray="3.7 3.6" clip-path="url(#i03)"/>
<path d="M703.00 30.75 L703.54 30.84 L704.08 30.94 L704.62 31.04 L705.15 31.14 L705.69 31.23 L706.23 31.33 L706.77 31.43 L707.31 31.53 L707.85 31.62 L708.38 31.72 L708.92 31.82 L709.46 31.91 L710.00 32.01 L710.54 32.11 L711.08 32.20 L711.61 32.30 L712.15 32.40 L712.69 32.49 L713.23 32.59 L713.77 32.68 L714.31 32.78 L714.84 32.88 L715.38 32.97 L715.92 33.07 L716.46 33.16 L717.00 33.26 L717.54 33.36 L718.07 33.45 L718.61 33.55 L719.15 33.64 L719.69 33.74 L720.23 33.83 L720.77 33.93 L721.31 34.02 L721.84 34.12 L722.38 34.22 L722.92 34.31 L723.46 34.41 L724.00 34.50 L724.54 34.60 L725.07 34.69 L725.61 34.79 L726.15 34.88 L726.69 34.98 L727.23 35.07 L727.77 35.17 L728.30 35.26 L728.84 35.36 L729.38 35.45 L729.92 35.55 L730.46 35.64 L731.00 35.74 L731.53 35.83 L732.07 35.93 L732.61 36.02 L733.15 36.12 L733.69 36.21 L734.23 36.31 L734.76 36.40 L735.30 36.50 L735.84 36.59 L736.38 36.69 L736.92 36.78 L737.46 36.88 L737.99 36.97 L738.53 37.07 L739.07 37.16 L739.61 37.25 L740.15 37.35 L740.69 37.44 L741.23 37.54 L741.76 37.63 L742.30 37.73 L742.84 37.82 L743.38 37.92 L743.92 38.01 L744.46 38.10 L744.99 38.20 L745.53 38.29 L746.07 38.39 L746.61 38.48 L747.15 38.58 L747.69 38.67 L748.22 38.76 L748.76 38.86 L749.30 38.95 L749.84 39.05 L750.38 39.14 L750.92 39.23 L751.45 39.33 L751.99 39.42 L752.53 39.51 L753.07 39.61 L753.61 39.70 L754.15 39.80 L754.68 39.89 L755.22 39.98 L755.76 40.08 L756.30 40.17" stroke="#ff00ff" stroke-width="1.35" fill="none" stroke-dasharray="3.4 1.3 1.2 1.6" clip-path="url(#i03)"/>
<path d="M703.00 45.9v-1.2M703.00 2.4v1.2M716.33 45.9v-1.2M716.33 2.4v1.2M729.65 45.9v-1.2M729.65 2.4v1.2M742.97 45.9v-1.2M742.97 2.4v1.2M756.30 45.9v-1.2M756.30 2.4v1.2M703.0 45.90h1.2M756.3 45.90h-1.2M703.0 24.74h1.2M756.3 24.74h-1.2M703.0 3.58h1.2M756.3 3.58h-1.2" stroke="#a0a0a0" stroke-width="0.6" fill="none"/>
<rect x="703.0" y="2.4" width="53.299999999999955" height="43.5" fill="none" stroke="#c4c4c4" stroke-width="1"/>
<g font-size="4.5" fill="#111" letter-spacing="-0.05" stroke="#111" stroke-width="0.08"><text x="703.00" y="52.20" text-anchor="middle">3</text><text x="716.33" y="52.20" text-anchor="middle">3.5</text><text x="729.65" y="52.20" text-anchor="middle">4</text><text x="742.97" y="52.20" text-anchor="middle">4.5</text><text x="756.30" y="52.20" text-anchor="middle">5</text><text x="702.10" y="47.90" text-anchor="end">0.15</text><text x="702.10" y="26.74" text-anchor="end">0.2</text><text x="702.10" y="5.58" text-anchor="end">0.25</text></g>
<text x="688.80" y="134.00" text-anchor="middle" font-family='"Liberation Serif", serif' font-style="italic" font-size="11.2" fill="#1a1a1a" stroke="#1a1a1a" stroke-width="0.1">ξ</text>
<clipPath id="c10"><rect x="20.5" y="166.7" width="150.3" height="111.80000000000001"/></clipPath>
<path d="M20.50 278.5v-1.5M20.50 166.7v1.5M50.56 278.5v-1.5M50.56 166.7v1.5M80.62 278.5v-1.5M80.62 166.7v1.5M110.68 278.5v-1.5M110.68 166.7v1.5M140.74 278.5v-1.5M140.74 166.7v1.5M170.80 278.5v-1.5M170.80 166.7v1.5M20.5 278.50h1.5M170.8 278.50h-1.5M20.5 267.32h1.5M170.8 267.32h-1.5M20.5 256.14h1.5M170.8 256.14h-1.5M20.5 244.96h1.5M170.8 244.96h-1.5M20.5 233.78h1.5M170.8 233.78h-1.5M20.5 222.60h1.5M170.8 222.60h-1.5M20.5 211.42h1.5M170.8 211.42h-1.5M20.5 200.24h1.5M170.8 200.24h-1.5M20.5 189.06h1.5M170.8 189.06h-1.5M20.5 177.88h1.5M170.8 177.88h-1.5M20.5 166.70h1.5M170.8 166.70h-1.5" stroke="#a0a0a0" stroke-width="0.6" fill="none"/>
<g font-size="5.0" fill="#1c1c1c" letter-spacing="-0.05"><text x="20.50" y="285.60" text-anchor="middle">0</text><text x="50.56" y="285.60" text-anchor="middle">1</text><text x="80.62" y="285.60" text-anchor="middle">2</text><text x="110.68" y="285.60" text-anchor="middle">3</text><text x="140.74" y="285.60" text-anchor="middle">4</text><text x="170.80" y="285.60" text-anchor="middle">5</text><text x="18.90" y="280.45" text-anchor="end">3.5</text><text x="18.90" y="269.27" text-anchor="end">3.6</text><text x="18.90" y="258.09" text-anchor="end">3.7</text><text x="18.90" y="246.91" text-anchor="end">3.8</text><text x="18.90" y="235.73" text-anchor="end">3.9</text><text x="18.90" y="224.55" text-anchor="end">4</text><text x="18.90" y="213.37" text-anchor="end">4.1</text><text x="18.90" y="202.19" text-anchor="end">4.2</text><text x="18.90" y="191.01" text-anchor="end">4.3</text><text x="18.90" y="179.83" text-anchor="end">4.4</text><text x="18.90" y="168.65" text-anchor="end">4.5</text></g>
<path d="M20.50 222.60 L21.26 223.53 L22.01 224.50 L22.77 225.49 L23.52 226.49 L24.28 227.49 L25.03 228.48 L25.79 229.45 L26.54 230.39 L27.30 231.32 L28.05 232.21 L28.81 233.08 L29.56 233.92 L30.32 234.73 L31.07 235.50 L31.83 236.25 L32.58 236.97 L33.34 237.67 L34.09 238.33 L34.85 238.98 L35.61 239.59 L36.36 240.19 L37.12 240.76 L37.87 241.31 L38.63 241.83 L39.38 242.34 L40.14 242.84 L40.89 243.31 L41.65 243.77 L42.40 244.21 L43.16 244.63 L43.91 245.05 L44.67 245.45 L45.42 245.83 L46.18 246.21 L46.93 246.57 L47.69 246.92 L48.45 247.26 L49.20 247.59 L49.96 247.92 L50.71 248.23 L51.47 248.53 L52.22 248.83 L52.98 249.12 L53.73 249.40 L54.49 249.68 L55.24 249.95 L56.00 250.21 L56.75 250.46 L57.51 250.71 L58.26 250.96 L59.02 251.20 L59.77 251.43 L60.53 251.66 L61.28 251.88 L62.04 252.10 L62.80 252.32 L63.55 252.53 L64.31 252.74 L65.06 252.94 L65.82 253.14 L66.57 253.34 L67.33 253.53 L68.08 253.72 L68.84 253.91 L69.59 254.09 L70.35 254.27 L71.10 254.45 L71.86 254.62 L72.61 254.79 L73.37 254.96 L74.12 255.13 L74.88 255.29 L75.64 255.45 L76.39 255.61 L77.15 255.77 L77.90 255.92 L78.66 256.07 L79.41 256.22 L80.17 256.37 L80.92 256.52 L81.68 256.66 L82.43 256.80 L83.19 256.94 L83.94 257.08 L84.70 257.22 L85.45 257.35 L86.21 257.49 L86.96 257.62 L87.72 257.75 L88.47 257.88 L89.23 258.01 L89.99 258.13 L90.74 258.25 L91.50 258.38 L92.25 258.50 L93.01 258.62 L93.76 258.74 L94.52 258.85 L95.27 258.97 L96.03 259.08 L96.78 259.20 L97.54 259.31 L98.29 259.42 L99.05 259.53 L99.80 259.64 L100.56 259.75 L101.31 259.85 L102.07 259.96 L102.83 260.06 L103.58 260.16 L104.34 260.27 L105.09 260.37 L105.85 260.47 L106.60 260.57 L107.36 260.66 L108.11 260.76 L108.87 260.86 L109.62 260.95 L110.38 261.05 L111.13 261.14 L111.89 261.23 L112.64 261.33 L113.40 261.42 L114.15 261.51 L114.91 261.60 L115.66 261.68 L116.42 261.77 L117.18 261.86 L117.93 261.95 L118.69 262.03 L119.44 262.12 L120.20 262.20 L120.95 262.28 L121.71 262.36 L122.46 262.45 L123.22 262.53 L123.97 262.61 L124.73 262.69 L125.48 262.77 L126.24 262.85 L126.99 262.92 L127.75 263.00 L128.50 263.08 L129.26 263.15 L130.02 263.23 L130.77 263.30 L131.53 263.38 L132.28 263.45 L133.04 263.52 L133.79 263.60 L134.55 263.67 L135.30 263.74 L136.06 263.81 L136.81 263.88 L137.57 263.95 L138.32 264.02 L139.08 264.09 L139.83 264.15 L140.59 264.22 L141.34 264.29 L142.10 264.36 L142.85 264.42 L143.61 264.49 L144.37 264.55 L145.12 264.62 L145.88 264.68 L146.63 264.74 L147.39 264.81 L148.14 264.87 L148.90 264.93 L149.65 264.99 L150.41 265.06 L151.16 265.12 L151.92 265.18 L152.67 265.24 L153.43 265.30 L154.18 265.36 L154.94 265.42 L155.69 265.47 L156.45 265.53 L157.21 265.59 L157.96 265.65 L158.72 265.70 L159.47 265.76 L160.23 265.82 L160.98 265.87 L161.74 265.93 L162.49 265.98 L163.25 266.04 L164.00 266.09 L164.76 266.15 L165.51 266.20 L166.27 266.25 L167.02 266.31 L167.78 266.36 L168.53 266.41 L169.29 266.46 L170.04 266.52 L170.80 266.57" stroke="#0000ff" stroke-width="1.35" fill="none" clip-path="url(#c10)"/>
<path d="M20.50 222.60 L21.26 223.53 L22.01 224.50 L22.77 225.49 L23.52 226.49 L24.28 227.49 L25.03 228.48 L25.79 229.45 L26.54 230.40 L27.30 231.33 L28.05 232.23 L28.81 233.09 L29.56 233.93 L30.32 234.74 L31.07 235.52 L31.83 236.27 L32.58 236.99 L33.34 237.68 L34.09 238.34 L34.85 238.98 L35.61 239.60 L36.36 240.19 L37.12 240.75 L37.87 241.30 L38.63 241.82 L39.38 242.33 L40.14 242.82 L40.89 243.28 L41.65 243.74 L42.40 244.17 L43.16 244.60 L43.91 245.00 L44.67 245.40 L45.42 245.78 L46.18 246.15 L46.93 246.51 L47.69 246.85 L48.45 247.19 L49.20 247.52 L49.96 247.83 L50.71 248.14 L51.47 248.44 L52.22 248.73 L52.98 249.02 L53.73 249.30 L54.49 249.57 L55.24 249.83 L56.00 250.09 L56.75 250.34 L57.51 250.58 L58.26 250.82 L59.02 251.06 L59.77 251.29 L60.53 251.51 L61.28 251.73 L62.04 251.95 L62.80 252.16 L63.55 252.37 L64.31 252.57 L65.06 252.77 L65.82 252.97 L66.57 253.16 L67.33 253.35 L68.08 253.53 L68.84 253.72 L69.59 253.90 L70.35 254.07 L71.10 254.25 L71.86 254.42 L72.61 254.58 L73.37 254.75 L74.12 254.91 L74.88 255.07 L75.64 255.23 L76.39 255.39 L77.15 255.54 L77.90 255.69 L78.66 255.84 L79.41 255.98 L80.17 256.13 L80.92 256.27 L81.68 256.41 L82.43 256.55 L83.19 256.69 L83.94 256.82 L84.70 256.95 L85.45 257.09 L86.21 257.22 L86.96 257.34 L87.72 257.47 L88.47 257.59 L89.23 257.72 L89.99 257.84 L90.74 257.96 L91.50 258.08 L92.25 258.20 L93.01 258.31 L93.76 258.43 L94.52 258.54 L95.27 258.65 L96.03 258.76 L96.78 258.87 L97.54 258.98 L98.29 259.09 L99.05 259.19 L99.80 259.30 L100.56 259.40 L101.31 259.50 L102.07 259.60 L102.83 259.70 L103.58 259.80 L104.34 259.90 L105.09 259.99 L105.85 260.09 L106.60 260.19 L107.36 260.28 L108.11 260.37 L108.87 260.46 L109.62 260.55 L110.38 260.64 L111.13 260.73 L111.89 260.82 L112.64 260.91 L113.40 260.99 L114.15 261.08 L114.91 261.16 L115.66 261.25 L116.42 261.33 L117.18 261.41 L117.93 261.49 L118.69 261.57 L119.44 261.65 L120.20 261.73 L120.95 261.81 L121.71 261.89 L122.46 261.96 L123.22 262.04 L123.97 262.11 L124.73 262.19 L125.48 262.26 L126.24 262.34 L126.99 262.41 L127.75 262.48 L128.50 262.55 L129.26 262.62 L130.02 262.69 L130.77 262.76 L131.53 262.83 L132.28 262.90 L133.04 262.96 L133.79 263.03 L134.55 263.10 L135.30 263.16 L136.06 263.23 L136.81 263.29 L137.57 263.35 L138.32 263.42 L139.08 263.48 L139.83 263.54 L140.59 263.60 L141.34 263.67 L142.10 263.73 L142.85 263.79 L143.61 263.85 L144.37 263.90 L145.12 263.96 L145.88 264.02 L146.63 264.08 L147.39 264.14 L148.14 264.19 L148.90 264.25 L149.65 264.30 L150.41 264.36 L151.16 264.41 L151.92 264.47 L152.67 264.52 L153.43 264.58 L154.18 264.63 L154.94 264.68 L155.69 264.73 L156.45 264.79 L157.21 264.84 L157.96 264.89 L158.72 264.94 L159.47 264.99 L160.23 265.04 L160.98 265.09 L161.74 265.14 L162.49 265.19 L163.25 265.24 L164.00 265.28 L164.76 265.33 L165.51 265.38 L166.27 265.42 L167.02 265.47 L167.78 265.52 L168.53 265.56 L169.29 265.61 L170.04 265.65 L170.80 265.70" stroke="#0000ff" stroke-width="1.35" fill="none" stroke-dasharray="3.7 3.6" clip-path="url(#c10)"/>
<path d="M20.50 222.60 L21.26 223.53 L22.01 224.50 L22.77 225.50 L23.52 226.50 L24.28 227.50 L25.03 228.49 L25.79 229.47 L26.54 230.42 L27.30 231.35 L28.05 232.25 L28.81 233.12 L29.56 233.97 L30.32 234.78 L31.07 235.57 L31.83 236.33 L32.58 237.06 L33.34 237.77 L34.09 238.45 L34.85 239.10 L35.61 239.73 L36.36 240.33 L37.12 240.92 L37.87 241.48 L38.63 242.02 L39.38 242.55 L40.14 243.05 L40.89 243.54 L41.65 244.01 L42.40 244.47 L43.16 244.91 L43.91 245.33 L44.67 245.75 L45.42 246.15 L46.18 246.54 L46.93 246.92 L47.69 247.28 L48.45 247.64 L49.20 247.99 L49.96 248.32 L50.71 248.65 L51.47 248.97 L52.22 249.28 L52.98 249.59 L53.73 249.88 L54.49 250.17 L55.24 250.46 L56.00 250.73 L56.75 251.00 L57.51 251.27 L58.26 251.53 L59.02 251.78 L59.77 252.03 L60.53 252.27 L61.28 252.51 L62.04 252.75 L62.80 252.97 L63.55 253.20 L64.31 253.42 L65.06 253.64 L65.82 253.85 L66.57 254.06 L67.33 254.27 L68.08 254.47 L68.84 254.67 L69.59 254.87 L70.35 255.06 L71.10 255.25 L71.86 255.44 L72.61 255.62 L73.37 255.80 L74.12 255.98 L74.88 256.16 L75.64 256.33 L76.39 256.50 L77.15 256.67 L77.90 256.84 L78.66 257.00 L79.41 257.17 L80.17 257.33 L80.92 257.48 L81.68 257.64 L82.43 257.80 L83.19 257.95 L83.94 258.10 L84.70 258.25 L85.45 258.39 L86.21 258.54 L86.96 258.68 L87.72 258.82 L88.47 258.96 L89.23 259.10 L89.99 259.24 L90.74 259.37 L91.50 259.51 L92.25 259.64 L93.01 259.77 L93.76 259.90 L94.52 260.03 L95.27 260.16 L96.03 260.28 L96.78 260.41 L97.54 260.53 L98.29 260.65 L99.05 260.77 L99.80 260.89 L100.56 261.01 L101.31 261.13 L102.07 261.24 L102.83 261.36 L103.58 261.47 L104.34 261.59 L105.09 261.70 L105.85 261.81 L106.60 261.92 L107.36 262.03 L108.11 262.13 L108.87 262.24 L109.62 262.35 L110.38 262.45 L111.13 262.56 L111.89 262.66 L112.64 262.76 L113.40 262.86 L114.15 262.96 L114.91 263.06 L115.66 263.16 L116.42 263.26 L117.18 263.36 L117.93 263.45 L118.69 263.55 L119.44 263.64 L120.20 263.74 L120.95 263.83 L121.71 263.92 L122.46 264.01 L123.22 264.10 L123.97 264.20 L124.73 264.28 L125.48 264.37 L126.24 264.46 L126.99 264.55 L127.75 264.64 L128.50 264.72 L129.26 264.81 L130.02 264.89 L130.77 264.98 L131.53 265.06 L132.28 265.14 L133.04 265.23 L133.79 265.31 L134.55 265.39 L135.30 265.47 L136.06 265.55 L136.81 265.63 L137.57 265.71 L138.32 265.79 L139.08 265.87 L139.83 265.94 L140.59 266.02 L141.34 266.10 L142.10 266.17 L142.85 266.25 L143.61 266.32 L144.37 266.40 L145.12 266.47 L145.88 266.54 L146.63 266.62 L147.39 266.69 L148.14 266.76 L148.90 266.83 L149.65 266.90 L150.41 266.97 L151.16 267.04 L151.92 267.11 L152.67 267.18 L153.43 267.25 L154.18 267.32 L154.94 267.39 L155.69 267.46 L156.45 267.52 L157.21 267.59 L157.96 267.66 L158.72 267.72 L159.47 267.79 L160.23 267.85 L160.98 267.92 L161.74 267.98 L162.49 268.04 L163.25 268.11 L164.00 268.17 L164.76 268.23 L165.51 268.30 L166.27 268.36 L167.02 268.42 L167.78 268.48 L168.53 268.54 L169.29 268.60 L170.04 268.66 L170.80 268.72" stroke="#0000ff" stroke-width="1.35" fill="none" stroke-dasharray="3.4 1.3 1.2 1.6" clip-path="url(#c10)"/>
<rect x="20.5" y="166.7" width="150.3" height="111.80000000000001" fill="none" stroke="#c4c4c4" stroke-width="1"/>
<path d="M29.6 173.55H43.2" stroke="#0000ff" stroke-width="1.55" fill="none"/>
<path d="M29.6 183.15H43.2" stroke="#0000ff" stroke-width="1.3" fill="none" stroke-dasharray="3.8 3.8"/>
<path d="M29.6 191.95H43.2" stroke="#0000ff" stroke-width="1.3" fill="none" stroke-dasharray="3.4 1.1 1.9 1.1"/>
<g font-size="6.2" fill="#111" stroke="#111" stroke-width="0.1"><text x="44.10" y="175.85" textLength="18.00" lengthAdjust="spacingAndGlyphs">No WD</text><text x="44.10" y="185.45" textLength="16.40" lengthAdjust="spacingAndGlyphs">CLWD</text><text x="44.10" y="194.25" textLength="14.20" lengthAdjust="spacingAndGlyphs">NLLD</text></g>
<rect x="110.5" y="168.8" width="57.900000000000006" height="43.69999999999999" fill="#fff" stroke="none"/>
<clipPath id="i10"><rect x="110.5" y="168.8" width="57.900000000000006" height="43.69999999999999"/></clipPath>
<path d="M110.50 172.12 L111.08 172.48 L111.67 172.83 L112.25 173.19 L112.84 173.53 L113.42 173.88 L114.01 174.23 L114.59 174.57 L115.18 174.91 L115.76 175.24 L116.35 175.58 L116.93 175.91 L117.52 176.24 L118.10 176.57 L118.69 176.89 L119.27 177.22 L119.86 177.54 L120.44 177.85 L121.03 178.17 L121.61 178.48 L122.20 178.80 L122.78 179.11 L123.37 179.41 L123.95 179.72 L124.54 180.02 L125.12 180.32 L125.71 180.62 L126.29 180.92 L126.88 181.22 L127.46 181.51 L128.05 181.80 L128.63 182.09 L129.22 182.38 L129.80 182.67 L130.38 182.95 L130.97 183.23 L131.55 183.51 L132.14 183.79 L132.72 184.07 L133.31 184.35 L133.89 184.62 L134.48 184.89 L135.06 185.16 L135.65 185.43 L136.23 185.70 L136.82 185.96 L137.40 186.23 L137.99 186.49 L138.57 186.75 L139.16 187.01 L139.74 187.27 L140.33 187.52 L140.91 187.78 L141.50 188.03 L142.08 188.28 L142.67 188.53 L143.25 188.78 L143.84 189.03 L144.42 189.27 L145.01 189.52 L145.59 189.76 L146.18 190.00 L146.76 190.24 L147.35 190.48 L147.93 190.72 L148.52 190.95 L149.10 191.19 L149.68 191.42 L150.27 191.65 L150.85 191.88 L151.44 192.11 L152.02 192.34 L152.61 192.57 L153.19 192.79 L153.78 193.02 L154.36 193.24 L154.95 193.46 L155.53 193.68 L156.12 193.90 L156.70 194.12 L157.29 194.34 L157.87 194.55 L158.46 194.77 L159.04 194.98 L159.63 195.20 L160.21 195.41 L160.80 195.62 L161.38 195.83 L161.97 196.03 L162.55 196.24 L163.14 196.45 L163.72 196.65 L164.31 196.86 L164.89 197.06 L165.48 197.26 L166.06 197.46 L166.65 197.66 L167.23 197.86 L167.82 198.06 L168.40 198.25" stroke="#0000ff" stroke-width="1.35" fill="none" clip-path="url(#i10)"/>
<path d="M110.50 170.19 L111.08 170.52 L111.67 170.86 L112.25 171.20 L112.84 171.53 L113.42 171.86 L114.01 172.18 L114.59 172.50 L115.18 172.82 L115.76 173.14 L116.35 173.46 L116.93 173.77 L117.52 174.08 L118.10 174.39 L118.69 174.70 L119.27 175.00 L119.86 175.30 L120.44 175.60 L121.03 175.90 L121.61 176.19 L122.20 176.48 L122.78 176.77 L123.37 177.06 L123.95 177.34 L124.54 177.63 L125.12 177.91 L125.71 178.19 L126.29 178.46 L126.88 178.74 L127.46 179.01 L128.05 179.28 L128.63 179.55 L129.22 179.82 L129.80 180.08 L130.38 180.35 L130.97 180.61 L131.55 180.87 L132.14 181.12 L132.72 181.38 L133.31 181.63 L133.89 181.88 L134.48 182.13 L135.06 182.38 L135.65 182.63 L136.23 182.87 L136.82 183.12 L137.40 183.36 L137.99 183.60 L138.57 183.84 L139.16 184.07 L139.74 184.31 L140.33 184.54 L140.91 184.77 L141.50 185.00 L142.08 185.23 L142.67 185.46 L143.25 185.68 L143.84 185.91 L144.42 186.13 L145.01 186.35 L145.59 186.57 L146.18 186.79 L146.76 187.00 L147.35 187.22 L147.93 187.43 L148.52 187.64 L149.10 187.85 L149.68 188.06 L150.27 188.27 L150.85 188.48 L151.44 188.68 L152.02 188.89 L152.61 189.09 L153.19 189.29 L153.78 189.49 L154.36 189.69 L154.95 189.89 L155.53 190.09 L156.12 190.28 L156.70 190.47 L157.29 190.67 L157.87 190.86 L158.46 191.05 L159.04 191.24 L159.63 191.43 L160.21 191.61 L160.80 191.80 L161.38 191.98 L161.97 192.17 L162.55 192.35 L163.14 192.53 L163.72 192.71 L164.31 192.89 L164.89 193.07 L165.48 193.24 L166.06 193.42 L166.65 193.59 L167.23 193.77 L167.82 193.94 L168.40 194.11" stroke="#0000ff" stroke-width="1.35" fill="none" stroke-dasharray="3.7 3.6" clip-path="url(#i10)"/>
<path d="M110.50 178.83 L111.08 179.23 L111.67 179.63 L112.25 180.02 L112.84 180.41 L113.42 180.79 L114.01 181.18 L114.59 181.56 L115.18 181.94 L115.76 182.31 L116.35 182.69 L116.93 183.06 L117.52 183.43 L118.10 183.79 L118.69 184.16 L119.27 184.52 L119.86 184.88 L120.44 185.23 L121.03 185.59 L121.61 185.94 L122.20 186.29 L122.78 186.64 L123.37 186.98 L123.95 187.33 L124.54 187.67 L125.12 188.01 L125.71 188.34 L126.29 188.68 L126.88 189.01 L127.46 189.34 L128.05 189.67 L128.63 190.00 L129.22 190.33 L129.80 190.65 L130.38 190.97 L130.97 191.29 L131.55 191.61 L132.14 191.92 L132.72 192.24 L133.31 192.55 L133.89 192.86 L134.48 193.17 L135.06 193.47 L135.65 193.78 L136.23 194.08 L136.82 194.38 L137.40 194.68 L137.99 194.98 L138.57 195.28 L139.16 195.57 L139.74 195.87 L140.33 196.16 L140.91 196.45 L141.50 196.74 L142.08 197.02 L142.67 197.31 L143.25 197.59 L143.84 197.88 L144.42 198.16 L145.01 198.44 L145.59 198.71 L146.18 198.99 L146.76 199.26 L147.35 199.54 L147.93 199.81 L148.52 200.08 L149.10 200.35 L149.68 200.62 L150.27 200.88 L150.85 201.15 L151.44 201.41 L152.02 201.68 L152.61 201.94 L153.19 202.20 L153.78 202.45 L154.36 202.71 L154.95 202.97 L155.53 203.22 L156.12 203.48 L156.70 203.73 L157.29 203.98 L157.87 204.23 L158.46 204.48 L159.04 204.72 L159.63 204.97 L160.21 205.21 L160.80 205.46 L161.38 205.70 L161.97 205.94 L162.55 206.18 L163.14 206.42 L163.72 206.66 L164.31 206.89 L164.89 207.13 L165.48 207.36 L166.06 207.60 L166.65 207.83 L167.23 208.06 L167.82 208.29 L168.40 208.52" stroke="#0000ff" stroke-width="1.35" fill="none" stroke-dasharray="3.4 1.3 1.2 1.6" clip-path="url(#i10)"/>
<path d="M110.50 212.5v-1.2M110.50 168.8v1.2M124.97 212.5v-1.2M124.97 168.8v1.2M139.45 212.5v-1.2M139.45 168.8v1.2M153.93 212.5v-1.2M153.93 168.8v1.2M168.40 212.5v-1.2M168.40 168.8v1.2M110.5 212.50h1.2M168.4 212.50h-1.2M110.5 201.84h1.2M168.4 201.84h-1.2M110.5 191.18h1.2M168.4 191.18h-1.2M110.5 180.52h1.2M168.4 180.52h-1.2M110.5 169.87h1.2M168.4 169.87h-1.2" stroke="#a0a0a0" stroke-width="0.6" fill="none"/>
<rect x="110.5" y="168.8" width="57.900000000000006" height="43.69999999999999" fill="none" stroke="#c4c4c4" stroke-width="1"/>
<g font-size="4.5" fill="#111" letter-spacing="-0.05" stroke="#111" stroke-width="0.08"><text x="110.50" y="218.80" text-anchor="middle">3</text><text x="124.97" y="218.80" text-anchor="middle">3.5</text><text x="139.45" y="218.80" text-anchor="middle">4</text><text x="153.93" y="218.80" text-anchor="middle">4.5</text><text x="168.40" y="218.80" text-anchor="middle">5</text><text x="109.60" y="214.50" text-anchor="end">3.58</text><text x="109.60" y="203.84" text-anchor="end">3.6</text><text x="109.60" y="193.18" text-anchor="end">3.62</text><text x="109.60" y="182.52" text-anchor="end">3.64</text><text x="109.60" y="171.87" text-anchor="end">3.66</text></g>
<text x="95.55" y="299.00" text-anchor="middle" font-family='"Liberation Serif", serif' font-style="italic" font-size="11.2" fill="#1a1a1a" stroke="#1a1a1a" stroke-width="0.1">ξ</text>
<clipPath id="c11"><rect x="220.7" y="166.7" width="146.40000000000003" height="111.80000000000001"/></clipPath>
<path d="M220.70 278.5v-1.5M220.70 166.7v1.5M249.98 278.5v-1.5M249.98 166.7v1.5M279.26 278.5v-1.5M279.26 166.7v1.5M308.54 278.5v-1.5M308.54 166.7v1.5M337.82 278.5v-1.5M337.82 166.7v1.5M367.10 278.5v-1.5M367.10 166.7v1.5M220.7 278.50h1.5M367.1 278.50h-1.5M220.7 241.23h1.5M367.1 241.23h-1.5M220.7 203.97h1.5M367.1 203.97h-1.5M220.7 166.70h1.5M367.1 166.70h-1.5" stroke="#a0a0a0" stroke-width="0.6" fill="none"/>
<g font-size="5.0" fill="#1c1c1c" letter-spacing="-0.05"><text x="220.70" y="285.60" text-anchor="middle">0</text><text x="249.98" y="285.60" text-anchor="middle">1</text><text x="279.26" y="285.60" text-anchor="middle">2</text><text x="308.54" y="285.60" text-anchor="middle">3</text><text x="337.82" y="285.60" text-anchor="middle">4</text><text x="367.10" y="285.60" text-anchor="middle">5</text><text x="219.10" y="280.45" text-anchor="end">3</text><text x="219.10" y="243.18" text-anchor="end">3.5</text><text x="219.10" y="205.92" text-anchor="end">4</text><text x="219.10" y="168.65" text-anchor="end">4.5</text></g>
<path d="M220.70 278.50 L221.44 277.56 L222.17 276.62 L222.91 275.67 L223.64 274.73 L224.38 273.81 L225.11 272.91 L225.85 272.03 L226.59 271.17 L227.32 270.35 L228.06 269.55 L228.79 268.78 L229.53 268.04 L230.26 267.32 L231.00 266.63 L231.74 265.97 L232.47 265.34 L233.21 264.72 L233.94 264.14 L234.68 263.57 L235.41 263.02 L236.15 262.50 L236.88 261.99 L237.62 261.50 L238.36 261.03 L239.09 260.58 L239.83 260.14 L240.56 259.71 L241.30 259.30 L242.03 258.90 L242.77 258.52 L243.51 258.14 L244.24 257.78 L244.98 257.42 L245.71 257.08 L246.45 256.75 L247.18 256.42 L247.92 256.11 L248.66 255.80 L249.39 255.50 L250.13 255.20 L250.86 254.91 L251.60 254.63 L252.33 254.36 L253.07 254.09 L253.81 253.83 L254.54 253.57 L255.28 253.32 L256.01 253.07 L256.75 252.83 L257.48 252.59 L258.22 252.36 L258.96 252.13 L259.69 251.91 L260.43 251.68 L261.16 251.47 L261.90 251.25 L262.63 251.04 L263.37 250.84 L264.11 250.63 L264.84 250.43 L265.58 250.23 L266.31 250.04 L267.05 249.85 L267.78 249.66 L268.52 249.47 L269.25 249.29 L269.99 249.11 L270.73 248.93 L271.46 248.75 L272.20 248.58 L272.93 248.41 L273.67 248.24 L274.40 248.07 L275.14 247.90 L275.88 247.74 L276.61 247.58 L277.35 247.42 L278.08 247.26 L278.82 247.11 L279.55 246.96 L280.29 246.80 L281.03 246.65 L281.76 246.51 L282.50 246.36 L283.23 246.22 L283.97 246.07 L284.70 245.93 L285.44 245.79 L286.18 245.65 L286.91 245.52 L287.65 245.38 L288.38 245.25 L289.12 245.12 L289.85 244.99 L290.59 244.86 L291.33 244.73 L292.06 244.60 L292.80 244.48 L293.53 244.36 L294.27 244.23 L295.00 244.11 L295.74 243.99 L296.47 243.88 L297.21 243.76 L297.95 243.64 L298.68 243.53 L299.42 243.41 L300.15 243.30 L300.89 243.19 L301.62 243.08 L302.36 242.97 L303.10 242.86 L303.83 242.76 L304.57 242.65 L305.30 242.55 L306.04 242.45 L306.77 242.34 L307.51 242.24 L308.25 242.14 L308.98 242.04 L309.72 241.94 L310.45 241.85 L311.19 241.75 L311.92 241.66 L312.66 241.56 L313.40 241.47 L314.13 241.37 L314.87 241.28 L315.60 241.19 L316.34 241.10 L317.07 241.01 L317.81 240.93 L318.55 240.84 L319.28 240.75 L320.02 240.67 L320.75 240.58 L321.49 240.50 L322.22 240.41 L322.96 240.33 L323.69 240.25 L324.43 240.17 L325.17 240.09 L325.90 240.01 L326.64 239.93 L327.37 239.85 L328.11 239.78 L328.84 239.70 L329.58 239.63 L330.32 239.55 L331.05 239.48 L331.79 239.40 L332.52 239.33 L333.26 239.26 L333.99 239.19 L334.73 239.12 L335.47 239.05 L336.20 238.98 L336.94 238.91 L337.67 238.84 L338.41 238.77 L339.14 238.70 L339.88 238.64 L340.62 238.57 L341.35 238.51 L342.09 238.44 L342.82 238.38 L343.56 238.31 L344.29 238.25 L345.03 238.19 L345.77 238.13 L346.50 238.07 L347.24 238.01 L347.97 237.95 L348.71 237.89 L349.44 237.83 L350.18 237.77 L350.92 237.71 L351.65 237.65 L352.39 237.60 L353.12 237.54 L353.86 237.48 L354.59 237.43 L355.33 237.37 L356.06 237.32 L356.80 237.26 L357.54 237.21 L358.27 237.16 L359.01 237.10 L359.74 237.05 L360.48 237.00 L361.21 236.95 L361.95 236.90 L362.69 236.85 L363.42 236.79 L364.16 236.75 L364.89 236.70 L365.63 236.65 L366.36 236.60 L367.10 236.55" stroke="#00ff00" stroke-width="1.35" fill="none" clip-path="url(#c11)"/>
<path d="M220.70 278.50 L221.44 277.58 L222.17 276.64 L222.91 275.70 L223.64 274.77 L224.38 273.85 L225.11 272.95 L225.85 272.07 L226.59 271.21 L227.32 270.39 L228.06 269.59 L228.79 268.82 L229.53 268.08 L230.26 267.37 L231.00 266.69 L231.74 266.03 L232.47 265.40 L233.21 264.79 L233.94 264.21 L234.68 263.65 L235.41 263.12 L236.15 262.60 L236.88 262.11 L237.62 261.63 L238.36 261.17 L239.09 260.73 L239.83 260.30 L240.56 259.89 L241.30 259.50 L242.03 259.11 L242.77 258.74 L243.51 258.38 L244.24 258.04 L244.98 257.70 L245.71 257.37 L246.45 257.06 L247.18 256.75 L247.92 256.45 L248.66 256.16 L249.39 255.88 L250.13 255.60 L250.86 255.33 L251.60 255.07 L252.33 254.81 L253.07 254.56 L253.81 254.32 L254.54 254.08 L255.28 253.85 L256.01 253.62 L256.75 253.39 L257.48 253.17 L258.22 252.96 L258.96 252.75 L259.69 252.54 L260.43 252.34 L261.16 252.14 L261.90 251.94 L262.63 251.75 L263.37 251.56 L264.11 251.37 L264.84 251.19 L265.58 251.01 L266.31 250.83 L267.05 250.65 L267.78 250.48 L268.52 250.31 L269.25 250.15 L269.99 249.98 L270.73 249.82 L271.46 249.66 L272.20 249.50 L272.93 249.34 L273.67 249.19 L274.40 249.04 L275.14 248.89 L275.88 248.74 L276.61 248.60 L277.35 248.45 L278.08 248.31 L278.82 248.17 L279.55 248.03 L280.29 247.89 L281.03 247.76 L281.76 247.62 L282.50 247.49 L283.23 247.36 L283.97 247.23 L284.70 247.10 L285.44 246.98 L286.18 246.85 L286.91 246.73 L287.65 246.61 L288.38 246.49 L289.12 246.37 L289.85 246.25 L290.59 246.13 L291.33 246.02 L292.06 245.90 L292.80 245.79 L293.53 245.68 L294.27 245.57 L295.00 245.46 L295.74 245.35 L296.47 245.24 L297.21 245.14 L297.95 245.03 L298.68 244.93 L299.42 244.82 L300.15 244.72 L300.89 244.62 L301.62 244.52 L302.36 244.42 L303.10 244.32 L303.83 244.23 L304.57 244.13 L305.30 244.04 L306.04 243.94 L306.77 243.85 L307.51 243.76 L308.25 243.67 L308.98 243.58 L309.72 243.49 L310.45 243.40 L311.19 243.31 L311.92 243.22 L312.66 243.14 L313.40 243.05 L314.13 242.97 L314.87 242.88 L315.60 242.80 L316.34 242.72 L317.07 242.64 L317.81 242.56 L318.55 242.48 L319.28 242.40 L320.02 242.32 L320.75 242.24 L321.49 242.16 L322.22 242.09 L322.96 242.01 L323.69 241.94 L324.43 241.86 L325.17 241.79 L325.90 241.71 L326.64 241.64 L327.37 241.57 L328.11 241.50 L328.84 241.43 L329.58 241.36 L330.32 241.29 L331.05 241.22 L331.79 241.15 L332.52 241.09 L333.26 241.02 L333.99 240.95 L334.73 240.89 L335.47 240.82 L336.20 240.76 L336.94 240.69 L337.67 240.63 L338.41 240.57 L339.14 240.51 L339.88 240.44 L340.62 240.38 L341.35 240.32 L342.09 240.26 L342.82 240.20 L343.56 240.14 L344.29 240.08 L345.03 240.02 L345.77 239.97 L346.50 239.91 L347.24 239.85 L347.97 239.80 L348.71 239.74 L349.44 239.68 L350.18 239.63 L350.92 239.58 L351.65 239.52 L352.39 239.47 L353.12 239.41 L353.86 239.36 L354.59 239.31 L355.33 239.26 L356.06 239.21 L356.80 239.15 L357.54 239.10 L358.27 239.05 L359.01 239.00 L359.74 238.95 L360.48 238.90 L361.21 238.86 L361.95 238.81 L362.69 238.76 L363.42 238.71 L364.16 238.66 L364.89 238.62 L365.63 238.57 L366.36 238.52 L367.10 238.48" stroke="#00ff00" stroke-width="1.35" fill="none" stroke-dasharray="3.7 3.6" clip-path="url(#c11)"/>
<path d="M220.70 278.50 L221.44 277.35 L222.17 276.28 L222.91 275.28 L223.64 274.33 L224.38 273.43 L225.11 272.57 L225.85 271.74 L226.59 270.95 L227.32 270.18 L228.06 269.44 L228.79 268.72 L229.53 268.02 L230.26 267.34 L231.00 266.68 L231.74 266.03 L232.47 265.39 L233.21 264.78 L233.94 264.17 L234.68 263.58 L235.41 263.00 L236.15 262.43 L236.88 261.88 L237.62 261.33 L238.36 260.80 L239.09 260.28 L239.83 259.76 L240.56 259.26 L241.30 258.77 L242.03 258.29 L242.77 257.81 L243.51 257.35 L244.24 256.90 L244.98 256.45 L245.71 256.02 L246.45 255.59 L247.18 255.17 L247.92 254.76 L248.66 254.35 L249.39 253.96 L250.13 253.57 L250.86 253.19 L251.60 252.81 L252.33 252.45 L253.07 252.09 L253.81 251.73 L254.54 251.39 L255.28 251.05 L256.01 250.71 L256.75 250.38 L257.48 250.06 L258.22 249.74 L258.96 249.43 L259.69 249.13 L260.43 248.83 L261.16 248.53 L261.90 248.24 L262.63 247.96 L263.37 247.68 L264.11 247.40 L264.84 247.13 L265.58 246.86 L266.31 246.60 L267.05 246.34 L267.78 246.09 L268.52 245.84 L269.25 245.59 L269.99 245.35 L270.73 245.11 L271.46 244.87 L272.20 244.64 L272.93 244.41 L273.67 244.19 L274.40 243.96 L275.14 243.74 L275.88 243.53 L276.61 243.31 L277.35 243.10 L278.08 242.89 L278.82 242.69 L279.55 242.48 L280.29 242.28 L281.03 242.09 L281.76 241.89 L282.50 241.70 L283.23 241.51 L283.97 241.32 L284.70 241.13 L285.44 240.95 L286.18 240.76 L286.91 240.58 L287.65 240.40 L288.38 240.23 L289.12 240.05 L289.85 239.88 L290.59 239.71 L291.33 239.54 L292.06 239.37 L292.80 239.20 L293.53 239.03 L294.27 238.87 L295.00 238.71 L295.74 238.55 L296.47 238.39 L297.21 238.23 L297.95 238.07 L298.68 237.92 L299.42 237.76 L300.15 237.61 L300.89 237.46 L301.62 237.31 L302.36 237.16 L303.10 237.01 L303.83 236.86 L304.57 236.72 L305.30 236.57 L306.04 236.43 L306.77 236.28 L307.51 236.14 L308.25 236.00 L308.98 235.86 L309.72 235.72 L310.45 235.58 L311.19 235.44 L311.92 235.30 L312.66 235.17 L313.40 235.03 L314.13 234.90 L314.87 234.76 L315.60 234.63 L316.34 234.50 L317.07 234.37 L317.81 234.24 L318.55 234.11 L319.28 233.98 L320.02 233.85 L320.75 233.72 L321.49 233.59 L322.22 233.46 L322.96 233.34 L323.69 233.21 L324.43 233.09 L325.17 232.96 L325.90 232.84 L326.64 232.71 L327.37 232.59 L328.11 232.47 L328.84 232.35 L329.58 232.23 L330.32 232.10 L331.05 231.98 L331.79 231.86 L332.52 231.75 L333.26 231.63 L333.99 231.51 L334.73 231.39 L335.47 231.27 L336.20 231.16 L336.94 231.04 L337.67 230.92 L338.41 230.81 L339.14 230.69 L339.88 230.58 L340.62 230.46 L341.35 230.35 L342.09 230.24 L342.82 230.12 L343.56 230.01 L344.29 229.90 L345.03 229.79 L345.77 229.68 L346.50 229.56 L347.24 229.45 L347.97 229.34 L348.71 229.23 L349.44 229.12 L350.18 229.02 L350.92 228.91 L351.65 228.80 L352.39 228.69 L353.12 228.58 L353.86 228.48 L354.59 228.37 L355.33 228.26 L356.06 228.16 L356.80 228.05 L357.54 227.95 L358.27 227.84 L359.01 227.74 L359.74 227.63 L360.48 227.53 L361.21 227.42 L361.95 227.32 L362.69 227.22 L363.42 227.11 L364.16 227.01 L364.89 226.91 L365.63 226.81 L366.36 226.71 L367.10 226.60" stroke="#00ff00" stroke-width="1.35" fill="none" stroke-dasharray="3.4 1.3 1.2 1.6" clip-path="url(#c11)"/>
<rect x="220.7" y="166.7" width="146.40000000000003" height="111.80000000000001" fill="none" stroke="#c4c4c4" stroke-width="1"/>
<path d="M223.8 173.25H237.5" stroke="#00ff00" stroke-width="1.55" fill="none"/>
<path d="M223.8 182.55H237.5" stroke="#00ff00" stroke-width="1.3" fill="none" stroke-dasharray="3.8 3.8"/>
<path d="M223.8 191.65H237.5" stroke="#00ff00" stroke-width="1.3" fill="none" stroke-dasharray="3.4 1.1 1.9 1.1"/>
<g font-size="6.2" fill="#111" stroke="#111" stroke-width="0.1"><text x="238.40" y="175.55" textLength="18.00" lengthAdjust="spacingAndGlyphs">No WD</text><text x="238.40" y="184.85" textLength="16.40" lengthAdjust="spacingAndGlyphs">CLWD</text><text x="238.40" y="193.95" textLength="14.20" lengthAdjust="spacingAndGlyphs">NLLD</text></g>
<rect x="308.6" y="168.8" width="55.599999999999966" height="42.19999999999999" fill="#fff" stroke="none"/>
<clipPath id="i11"><rect x="308.6" y="168.8" width="55.599999999999966" height="42.19999999999999"/></clipPath>
<path d="M308.60 198.69 L309.16 198.55 L309.72 198.40 L310.28 198.25 L310.85 198.11 L311.41 197.96 L311.97 197.82 L312.53 197.68 L313.09 197.54 L313.65 197.40 L314.22 197.26 L314.78 197.12 L315.34 196.99 L315.90 196.85 L316.46 196.72 L317.02 196.59 L317.59 196.45 L318.15 196.32 L318.71 196.19 L319.27 196.06 L319.83 195.94 L320.39 195.81 L320.96 195.68 L321.52 195.56 L322.08 195.44 L322.64 195.31 L323.20 195.19 L323.76 195.07 L324.33 194.95 L324.89 194.83 L325.45 194.71 L326.01 194.59 L326.57 194.48 L327.13 194.36 L327.69 194.25 L328.26 194.13 L328.82 194.02 L329.38 193.91 L329.94 193.80 L330.50 193.69 L331.06 193.58 L331.63 193.47 L332.19 193.36 L332.75 193.25 L333.31 193.14 L333.87 193.04 L334.43 192.93 L335.00 192.83 L335.56 192.73 L336.12 192.62 L336.68 192.52 L337.24 192.42 L337.80 192.32 L338.37 192.22 L338.93 192.12 L339.49 192.02 L340.05 191.93 L340.61 191.83 L341.17 191.73 L341.74 191.64 L342.30 191.54 L342.86 191.45 L343.42 191.36 L343.98 191.26 L344.54 191.17 L345.11 191.08 L345.67 190.99 L346.23 190.90 L346.79 190.81 L347.35 190.72 L347.91 190.63 L348.47 190.54 L349.04 190.46 L349.60 190.37 L350.16 190.28 L350.72 190.20 L351.28 190.11 L351.84 190.03 L352.41 189.95 L352.97 189.86 L353.53 189.78 L354.09 189.70 L354.65 189.62 L355.21 189.54 L355.78 189.46 L356.34 189.38 L356.90 189.30 L357.46 189.22 L358.02 189.14 L358.58 189.07 L359.15 188.99 L359.71 188.91 L360.27 188.84 L360.83 188.76 L361.39 188.69 L361.95 188.61 L362.52 188.54 L363.08 188.47 L363.64 188.39 L364.20 188.32" stroke="#00ff00" stroke-width="1.35" fill="none" clip-path="url(#i11)"/>
<path d="M308.60 201.55 L309.16 201.41 L309.72 201.28 L310.28 201.15 L310.85 201.01 L311.41 200.88 L311.97 200.75 L312.53 200.62 L313.09 200.50 L313.65 200.37 L314.22 200.24 L314.78 200.12 L315.34 199.99 L315.90 199.87 L316.46 199.75 L317.02 199.62 L317.59 199.50 L318.15 199.38 L318.71 199.26 L319.27 199.15 L319.83 199.03 L320.39 198.91 L320.96 198.80 L321.52 198.68 L322.08 198.57 L322.64 198.45 L323.20 198.34 L323.76 198.23 L324.33 198.12 L324.89 198.01 L325.45 197.90 L326.01 197.79 L326.57 197.69 L327.13 197.58 L327.69 197.47 L328.26 197.37 L328.82 197.26 L329.38 197.16 L329.94 197.06 L330.50 196.95 L331.06 196.85 L331.63 196.75 L332.19 196.65 L332.75 196.55 L333.31 196.45 L333.87 196.36 L334.43 196.26 L335.00 196.16 L335.56 196.07 L336.12 195.97 L336.68 195.87 L337.24 195.78 L337.80 195.69 L338.37 195.59 L338.93 195.50 L339.49 195.41 L340.05 195.32 L340.61 195.23 L341.17 195.14 L341.74 195.05 L342.30 194.96 L342.86 194.87 L343.42 194.79 L343.98 194.70 L344.54 194.61 L345.11 194.53 L345.67 194.44 L346.23 194.36 L346.79 194.28 L347.35 194.19 L347.91 194.11 L348.47 194.03 L349.04 193.94 L349.60 193.86 L350.16 193.78 L350.72 193.70 L351.28 193.62 L351.84 193.54 L352.41 193.47 L352.97 193.39 L353.53 193.31 L354.09 193.23 L354.65 193.16 L355.21 193.08 L355.78 193.00 L356.34 192.93 L356.90 192.85 L357.46 192.78 L358.02 192.71 L358.58 192.63 L359.15 192.56 L359.71 192.49 L360.27 192.42 L360.83 192.34 L361.39 192.27 L361.95 192.20 L362.52 192.13 L363.08 192.06 L363.64 191.99 L364.20 191.92" stroke="#00ff00" stroke-width="1.35" fill="none" stroke-dasharray="3.7 3.6" clip-path="url(#i11)"/>
<path d="M308.60 187.19 L309.16 186.97 L309.72 186.76 L310.28 186.56 L310.85 186.35 L311.41 186.14 L311.97 185.94 L312.53 185.73 L313.09 185.53 L313.65 185.33 L314.22 185.12 L314.78 184.92 L315.34 184.72 L315.90 184.52 L316.46 184.33 L317.02 184.13 L317.59 183.93 L318.15 183.74 L318.71 183.54 L319.27 183.35 L319.83 183.15 L320.39 182.96 L320.96 182.77 L321.52 182.58 L322.08 182.39 L322.64 182.20 L323.20 182.01 L323.76 181.82 L324.33 181.64 L324.89 181.45 L325.45 181.26 L326.01 181.08 L326.57 180.89 L327.13 180.71 L327.69 180.53 L328.26 180.34 L328.82 180.16 L329.38 179.98 L329.94 179.80 L330.50 179.62 L331.06 179.44 L331.63 179.26 L332.19 179.08 L332.75 178.91 L333.31 178.73 L333.87 178.55 L334.43 178.38 L335.00 178.20 L335.56 178.03 L336.12 177.85 L336.68 177.68 L337.24 177.50 L337.80 177.33 L338.37 177.16 L338.93 176.99 L339.49 176.82 L340.05 176.65 L340.61 176.48 L341.17 176.31 L341.74 176.14 L342.30 175.97 L342.86 175.80 L343.42 175.63 L343.98 175.46 L344.54 175.30 L345.11 175.13 L345.67 174.97 L346.23 174.80 L346.79 174.64 L347.35 174.47 L347.91 174.31 L348.47 174.14 L349.04 173.98 L349.60 173.82 L350.16 173.66 L350.72 173.49 L351.28 173.33 L351.84 173.17 L352.41 173.01 L352.97 172.85 L353.53 172.69 L354.09 172.53 L354.65 172.37 L355.21 172.22 L355.78 172.06 L356.34 171.90 L356.90 171.74 L357.46 171.59 L358.02 171.43 L358.58 171.27 L359.15 171.12 L359.71 170.96 L360.27 170.81 L360.83 170.65 L361.39 170.50 L361.95 170.35 L362.52 170.19 L363.08 170.04 L363.64 169.89 L364.20 169.74" stroke="#00ff00" stroke-width="1.35" fill="none" stroke-dasharray="3.4 1.3 1.2 1.6" clip-path="url(#i11)"/>
<path d="M308.60 211.0v-1.2M308.60 168.8v1.2M322.50 211.0v-1.2M322.50 168.8v1.2M336.40 211.0v-1.2M336.40 168.8v1.2M350.30 211.0v-1.2M350.30 168.8v1.2M364.20 211.0v-1.2M364.20 168.8v1.2M308.6 211.00h1.2M364.2 211.00h-1.2M308.6 197.07h1.2M364.2 197.07h-1.2M308.6 183.15h1.2M364.2 183.15h-1.2M308.6 169.22h1.2M364.2 169.22h-1.2" stroke="#a0a0a0" stroke-width="0.6" fill="none"/>
<rect x="308.6" y="168.8" width="55.599999999999966" height="42.19999999999999" fill="none" stroke="#c4c4c4" stroke-width="1"/>
<g font-size="4.5" fill="#111" letter-spacing="-0.05" stroke="#111" stroke-width="0.08"><text x="308.60" y="217.30" text-anchor="middle">3</text><text x="322.50" y="217.30" text-anchor="middle">3.5</text><text x="336.40" y="217.30" text-anchor="middle">4</text><text x="350.30" y="217.30" text-anchor="middle">4.5</text><text x="364.20" y="217.30" text-anchor="middle">5</text><text x="307.70" y="213.00" text-anchor="end">3.4</text><text x="307.70" y="199.07" text-anchor="end">3.5</text><text x="307.70" y="185.15" text-anchor="end">3.6</text><text x="307.70" y="171.22" text-anchor="end">3.7</text></g>
<text x="293.80" y="299.00" text-anchor="middle" font-family='"Liberation Serif", serif' font-style="italic" font-size="11.2" fill="#1a1a1a" stroke="#1a1a1a" stroke-width="0.1">ξ</text>
<clipPath id="c12"><rect x="419.5" y="166.7" width="143.60000000000002" height="111.80000000000001"/></clipPath>
<path d="M419.50 278.5v-1.5M419.50 166.7v1.5M448.22 278.5v-1.5M448.22 166.7v1.5M476.94 278.5v-1.5M476.94 166.7v1.5M505.66 278.5v-1.5M505.66 166.7v1.5M534.38 278.5v-1.5M534.38 166.7v1.5M563.10 278.5v-1.5M563.10 166.7v1.5M419.5 278.50h1.5M563.1 278.50h-1.5M419.5 267.32h1.5M563.1 267.32h-1.5M419.5 256.14h1.5M563.1 256.14h-1.5M419.5 244.96h1.5M563.1 244.96h-1.5M419.5 233.78h1.5M563.1 233.78h-1.5M419.5 222.60h1.5M563.1 222.60h-1.5M419.5 211.42h1.5M563.1 211.42h-1.5M419.5 200.24h1.5M563.1 200.24h-1.5M419.5 189.06h1.5M563.1 189.06h-1.5M419.5 177.88h1.5M563.1 177.88h-1.5M419.5 166.70h1.5M563.1 166.70h-1.5" stroke="#a0a0a0" stroke-width="0.6" fill="none"/>
<g font-size="5.0" fill="#1c1c1c" letter-spacing="-0.05"><text x="419.50" y="285.60" text-anchor="middle">0</text><text x="448.22" y="285.60" text-anchor="middle">1</text><text x="476.94" y="285.60" text-anchor="middle">2</text><text x="505.66" y="285.60" text-anchor="middle">3</text><text x="534.38" y="285.60" text-anchor="middle">4</text><text x="563.10" y="285.60" text-anchor="middle">5</text><text x="417.90" y="280.45" text-anchor="end">0.9</text><text x="417.90" y="269.27" text-anchor="end">0.95</text><text x="417.90" y="258.09" text-anchor="end">1</text><text x="417.90" y="246.91" text-anchor="end">1.05</text><text x="417.90" y="235.73" text-anchor="end">1.1</text><text x="417.90" y="224.55" text-anchor="end">1.15</text><text x="417.90" y="213.37" text-anchor="end">1.2</text><text x="417.90" y="202.19" text-anchor="end">1.25</text><text x="417.90" y="191.01" text-anchor="end">1.3</text><text x="417.90" y="179.83" text-anchor="end">1.35</text><text x="417.90" y="168.65" text-anchor="end">1.4</text></g>
<path d="M419.50 256.14 L420.22 255.39 L420.94 254.70 L421.66 254.07 L422.39 253.50 L423.11 252.97 L423.83 252.47 L424.55 252.00 L425.27 251.56 L425.99 251.15 L426.72 250.75 L427.44 250.38 L428.16 250.02 L428.88 249.67 L429.60 249.34 L430.32 249.02 L431.05 248.72 L431.77 248.42 L432.49 248.13 L433.21 247.85 L433.93 247.58 L434.65 247.31 L435.38 247.06 L436.10 246.81 L436.82 246.56 L437.54 246.33 L438.26 246.10 L438.98 245.87 L439.71 245.65 L440.43 245.44 L441.15 245.23 L441.87 245.02 L442.59 244.83 L443.31 244.63 L444.03 244.44 L444.76 244.25 L445.48 244.07 L446.20 243.89 L446.92 243.72 L447.64 243.55 L448.36 243.38 L449.09 243.22 L449.81 243.06 L450.53 242.90 L451.25 242.75 L451.97 242.59 L452.69 242.45 L453.42 242.30 L454.14 242.16 L454.86 242.02 L455.58 241.88 L456.30 241.75 L457.02 241.62 L457.75 241.49 L458.47 241.36 L459.19 241.24 L459.91 241.11 L460.63 240.99 L461.35 240.87 L462.07 240.76 L462.80 240.64 L463.52 240.53 L464.24 240.42 L464.96 240.31 L465.68 240.20 L466.40 240.10 L467.13 239.99 L467.85 239.89 L468.57 239.79 L469.29 239.69 L470.01 239.59 L470.73 239.50 L471.46 239.40 L472.18 239.31 L472.90 239.22 L473.62 239.12 L474.34 239.04 L475.06 238.95 L475.79 238.86 L476.51 238.77 L477.23 238.69 L477.95 238.60 L478.67 238.52 L479.39 238.44 L480.12 238.36 L480.84 238.28 L481.56 238.20 L482.28 238.12 L483.00 238.04 L483.72 237.96 L484.44 237.89 L485.17 237.81 L485.89 237.74 L486.61 237.66 L487.33 237.59 L488.05 237.52 L488.77 237.45 L489.50 237.38 L490.22 237.31 L490.94 237.24 L491.66 237.17 L492.38 237.10 L493.10 237.03 L493.83 236.97 L494.55 236.90 L495.27 236.83 L495.99 236.77 L496.71 236.70 L497.43 236.64 L498.16 236.58 L498.88 236.51 L499.60 236.45 L500.32 236.39 L501.04 236.33 L501.76 236.26 L502.48 236.20 L503.21 236.14 L503.93 236.08 L504.65 236.02 L505.37 235.96 L506.09 235.91 L506.81 235.85 L507.54 235.79 L508.26 235.73 L508.98 235.67 L509.70 235.62 L510.42 235.56 L511.14 235.50 L511.87 235.45 L512.59 235.39 L513.31 235.34 L514.03 235.28 L514.75 235.23 L515.47 235.17 L516.20 235.12 L516.92 235.07 L517.64 235.01 L518.36 234.96 L519.08 234.91 L519.80 234.85 L520.53 234.80 L521.25 234.75 L521.97 234.70 L522.69 234.65 L523.41 234.60 L524.13 234.54 L524.85 234.49 L525.58 234.44 L526.30 234.39 L527.02 234.34 L527.74 234.29 L528.46 234.24 L529.18 234.19 L529.91 234.14 L530.63 234.10 L531.35 234.05 L532.07 234.00 L532.79 233.95 L533.51 233.90 L534.24 233.85 L534.96 233.81 L535.68 233.76 L536.40 233.71 L537.12 233.66 L537.84 233.62 L538.57 233.57 L539.29 233.52 L540.01 233.48 L540.73 233.43 L541.45 233.38 L542.17 233.34 L542.89 233.29 L543.62 233.25 L544.34 233.20 L545.06 233.16 L545.78 233.11 L546.50 233.07 L547.22 233.02 L547.95 232.98 L548.67 232.93 L549.39 232.89 L550.11 232.84 L550.83 232.80 L551.55 232.76 L552.28 232.71 L553.00 232.67 L553.72 232.63 L554.44 232.58 L555.16 232.54 L555.88 232.50 L556.61 232.45 L557.33 232.41 L558.05 232.37 L558.77 232.33 L559.49 232.29 L560.21 232.24 L560.94 232.20 L561.66 232.16 L562.38 232.12 L563.10 232.08" stroke="#ff0000" stroke-width="1.35" fill="none" clip-path="url(#c12)"/>
<path d="M419.50 256.14 L420.22 255.38 L420.94 254.70 L421.66 254.07 L422.39 253.49 L423.11 252.96 L423.83 252.46 L424.55 252.00 L425.27 251.56 L425.99 251.15 L426.72 250.75 L427.44 250.38 L428.16 250.02 L428.88 249.67 L429.60 249.34 L430.32 249.02 L431.05 248.72 L431.77 248.42 L432.49 248.13 L433.21 247.85 L433.93 247.58 L434.65 247.32 L435.38 247.06 L436.10 246.81 L436.82 246.57 L437.54 246.33 L438.26 246.10 L438.98 245.88 L439.71 245.66 L440.43 245.44 L441.15 245.24 L441.87 245.03 L442.59 244.83 L443.31 244.64 L444.03 244.45 L444.76 244.26 L445.48 244.08 L446.20 243.90 L446.92 243.73 L447.64 243.56 L448.36 243.39 L449.09 243.23 L449.81 243.07 L450.53 242.92 L451.25 242.76 L451.97 242.61 L452.69 242.47 L453.42 242.32 L454.14 242.18 L454.86 242.05 L455.58 241.91 L456.30 241.78 L457.02 241.65 L457.75 241.52 L458.47 241.40 L459.19 241.27 L459.91 241.15 L460.63 241.03 L461.35 240.92 L462.07 240.80 L462.80 240.69 L463.52 240.58 L464.24 240.47 L464.96 240.37 L465.68 240.26 L466.40 240.16 L467.13 240.06 L467.85 239.96 L468.57 239.86 L469.29 239.76 L470.01 239.67 L470.73 239.58 L471.46 239.48 L472.18 239.39 L472.90 239.30 L473.62 239.22 L474.34 239.13 L475.06 239.05 L475.79 238.96 L476.51 238.88 L477.23 238.80 L477.95 238.72 L478.67 238.64 L479.39 238.56 L480.12 238.48 L480.84 238.40 L481.56 238.33 L482.28 238.25 L483.00 238.18 L483.72 238.11 L484.44 238.04 L485.17 237.96 L485.89 237.89 L486.61 237.82 L487.33 237.76 L488.05 237.69 L488.77 237.62 L489.50 237.55 L490.22 237.49 L490.94 237.42 L491.66 237.36 L492.38 237.30 L493.10 237.23 L493.83 237.17 L494.55 237.11 L495.27 237.05 L495.99 236.99 L496.71 236.93 L497.43 236.87 L498.16 236.81 L498.88 236.75 L499.60 236.69 L500.32 236.64 L501.04 236.58 L501.76 236.52 L502.48 236.47 L503.21 236.41 L503.93 236.36 L504.65 236.30 L505.37 236.25 L506.09 236.19 L506.81 236.14 L507.54 236.09 L508.26 236.03 L508.98 235.98 L509.70 235.93 L510.42 235.88 L511.14 235.83 L511.87 235.78 L512.59 235.73 L513.31 235.68 L514.03 235.63 L514.75 235.58 L515.47 235.53 L516.20 235.48 L516.92 235.43 L517.64 235.38 L518.36 235.34 L519.08 235.29 L519.80 235.24 L520.53 235.19 L521.25 235.15 L521.97 235.10 L522.69 235.06 L523.41 235.01 L524.13 234.96 L524.85 234.92 L525.58 234.87 L526.30 234.83 L527.02 234.78 L527.74 234.74 L528.46 234.70 L529.18 234.65 L529.91 234.61 L530.63 234.56 L531.35 234.52 L532.07 234.48 L532.79 234.44 L533.51 234.39 L534.24 234.35 L534.96 234.31 L535.68 234.27 L536.40 234.22 L537.12 234.18 L537.84 234.14 L538.57 234.10 L539.29 234.06 L540.01 234.02 L540.73 233.98 L541.45 233.94 L542.17 233.90 L542.89 233.86 L543.62 233.82 L544.34 233.78 L545.06 233.74 L545.78 233.70 L546.50 233.66 L547.22 233.62 L547.95 233.58 L548.67 233.54 L549.39 233.50 L550.11 233.46 L550.83 233.43 L551.55 233.39 L552.28 233.35 L553.00 233.31 L553.72 233.27 L554.44 233.24 L555.16 233.20 L555.88 233.16 L556.61 233.13 L557.33 233.09 L558.05 233.05 L558.77 233.02 L559.49 232.98 L560.21 232.94 L560.94 232.91 L561.66 232.87 L562.38 232.83 L563.10 232.80" stroke="#ff0000" stroke-width="1.35" fill="none" stroke-dasharray="3.7 3.6" clip-path="url(#c12)"/>
<path d="M419.50 256.14 L420.22 255.38 L420.94 254.69 L421.66 254.06 L422.39 253.49 L423.11 252.96 L423.83 252.46 L424.55 252.00 L425.27 251.56 L425.99 251.15 L426.72 250.76 L427.44 250.38 L428.16 250.02 L428.88 249.68 L429.60 249.35 L430.32 249.02 L431.05 248.71 L431.77 248.41 L432.49 248.12 L433.21 247.84 L433.93 247.56 L434.65 247.29 L435.38 247.03 L436.10 246.77 L436.82 246.52 L437.54 246.27 L438.26 246.03 L438.98 245.80 L439.71 245.57 L440.43 245.34 L441.15 245.12 L441.87 244.90 L442.59 244.69 L443.31 244.48 L444.03 244.28 L444.76 244.08 L445.48 243.88 L446.20 243.69 L446.92 243.50 L447.64 243.32 L448.36 243.13 L449.09 242.95 L449.81 242.78 L450.53 242.61 L451.25 242.44 L451.97 242.27 L452.69 242.11 L453.42 241.95 L454.14 241.79 L454.86 241.63 L455.58 241.48 L456.30 241.33 L457.02 241.18 L457.75 241.03 L458.47 240.89 L459.19 240.75 L459.91 240.61 L460.63 240.47 L461.35 240.34 L462.07 240.21 L462.80 240.07 L463.52 239.95 L464.24 239.82 L464.96 239.69 L465.68 239.57 L466.40 239.45 L467.13 239.33 L467.85 239.21 L468.57 239.09 L469.29 238.98 L470.01 238.87 L470.73 238.75 L471.46 238.64 L472.18 238.54 L472.90 238.43 L473.62 238.32 L474.34 238.22 L475.06 238.11 L475.79 238.01 L476.51 237.91 L477.23 237.81 L477.95 237.71 L478.67 237.62 L479.39 237.52 L480.12 237.43 L480.84 237.33 L481.56 237.24 L482.28 237.15 L483.00 237.06 L483.72 236.97 L484.44 236.88 L485.17 236.79 L485.89 236.71 L486.61 236.62 L487.33 236.53 L488.05 236.45 L488.77 236.37 L489.50 236.29 L490.22 236.20 L490.94 236.12 L491.66 236.04 L492.38 235.97 L493.10 235.89 L493.83 235.81 L494.55 235.73 L495.27 235.66 L495.99 235.58 L496.71 235.51 L497.43 235.43 L498.16 235.36 L498.88 235.29 L499.60 235.22 L500.32 235.15 L501.04 235.08 L501.76 235.01 L502.48 234.94 L503.21 234.87 L503.93 234.80 L504.65 234.73 L505.37 234.67 L506.09 234.60 L506.81 234.53 L507.54 234.47 L508.26 234.40 L508.98 234.34 L509.70 234.28 L510.42 234.21 L511.14 234.15 L511.87 234.09 L512.59 234.03 L513.31 233.96 L514.03 233.90 L514.75 233.84 L515.47 233.78 L516.20 233.72 L516.92 233.66 L517.64 233.61 L518.36 233.55 L519.08 233.49 L519.80 233.43 L520.53 233.38 L521.25 233.32 L521.97 233.26 L522.69 233.21 L523.41 233.15 L524.13 233.10 L524.85 233.04 L525.58 232.99 L526.30 232.93 L527.02 232.88 L527.74 232.83 L528.46 232.77 L529.18 232.72 L529.91 232.67 L530.63 232.62 L531.35 232.57 L532.07 232.51 L532.79 232.46 L533.51 232.41 L534.24 232.36 L534.96 232.31 L535.68 232.26 L536.40 232.21 L537.12 232.16 L537.84 232.12 L538.57 232.07 L539.29 232.02 L540.01 231.97 L540.73 231.92 L541.45 231.88 L542.17 231.83 L542.89 231.78 L543.62 231.74 L544.34 231.69 L545.06 231.64 L545.78 231.60 L546.50 231.55 L547.22 231.51 L547.95 231.46 L548.67 231.42 L549.39 231.37 L550.11 231.33 L550.83 231.28 L551.55 231.24 L552.28 231.20 L553.00 231.15 L553.72 231.11 L554.44 231.07 L555.16 231.02 L555.88 230.98 L556.61 230.94 L557.33 230.90 L558.05 230.86 L558.77 230.81 L559.49 230.77 L560.21 230.73 L560.94 230.69 L561.66 230.65 L562.38 230.61 L563.10 230.57" stroke="#ff0000" stroke-width="1.35" fill="none" stroke-dasharray="3.4 1.3 1.2 1.6" clip-path="url(#c12)"/>
<rect x="419.5" y="166.7" width="143.60000000000002" height="111.80000000000001" fill="none" stroke="#c4c4c4" stroke-width="1"/>
<path d="M426.0 173.65H439.9" stroke="#ff0000" stroke-width="1.55" fill="none"/>
<path d="M426.0 182.95H439.9" stroke="#ff0000" stroke-width="1.3" fill="none" stroke-dasharray="3.8 3.8"/>
<path d="M426.0 191.95H439.9" stroke="#ff0000" stroke-width="1.3" fill="none" stroke-dasharray="3.4 1.1 1.9 1.1"/>
<g font-size="6.2" fill="#111" stroke="#111" stroke-width="0.1"><text x="440.80" y="175.95" textLength="18.00" lengthAdjust="spacingAndGlyphs">No WD</text><text x="440.80" y="185.25" textLength="16.40" lengthAdjust="spacingAndGlyphs">CLWD</text><text x="440.80" y="194.25" textLength="14.20" lengthAdjust="spacingAndGlyphs">NLLD</text></g>
<rect x="506.1" y="168.2" width="56.10000000000002" height="38.10000000000002" fill="#fff" stroke="none"/>
<clipPath id="i12"><rect x="506.1" y="168.2" width="56.10000000000002" height="38.10000000000002"/></clipPath>
<path d="M506.10 198.58 L506.67 198.42 L507.23 198.26 L507.80 198.11 L508.37 197.95 L508.93 197.80 L509.50 197.65 L510.07 197.49 L510.63 197.34 L511.20 197.19 L511.77 197.04 L512.33 196.89 L512.90 196.74 L513.47 196.59 L514.03 196.44 L514.60 196.30 L515.17 196.15 L515.73 196.00 L516.30 195.86 L516.87 195.71 L517.43 195.57 L518.00 195.43 L518.57 195.29 L519.13 195.14 L519.70 195.00 L520.27 194.86 L520.83 194.72 L521.40 194.58 L521.97 194.44 L522.53 194.30 L523.10 194.16 L523.67 194.03 L524.23 193.89 L524.80 193.75 L525.37 193.62 L525.93 193.48 L526.50 193.35 L527.07 193.21 L527.63 193.08 L528.20 192.94 L528.77 192.81 L529.33 192.68 L529.90 192.55 L530.47 192.42 L531.03 192.28 L531.60 192.15 L532.17 192.02 L532.73 191.89 L533.30 191.76 L533.87 191.64 L534.43 191.51 L535.00 191.38 L535.57 191.25 L536.13 191.12 L536.70 191.00 L537.27 190.87 L537.83 190.74 L538.40 190.62 L538.97 190.49 L539.53 190.37 L540.10 190.24 L540.67 190.12 L541.23 190.00 L541.80 189.87 L542.37 189.75 L542.93 189.63 L543.50 189.51 L544.07 189.38 L544.63 189.26 L545.20 189.14 L545.77 189.02 L546.33 188.90 L546.90 188.78 L547.47 188.66 L548.03 188.54 L548.60 188.42 L549.17 188.30 L549.73 188.19 L550.30 188.07 L550.87 187.95 L551.43 187.83 L552.00 187.72 L552.57 187.60 L553.13 187.48 L553.70 187.37 L554.27 187.25 L554.83 187.14 L555.40 187.02 L555.97 186.91 L556.53 186.79 L557.10 186.68 L557.67 186.57 L558.23 186.45 L558.80 186.34 L559.37 186.23 L559.93 186.12 L560.50 186.00 L561.07 185.89 L561.63 185.78 L562.20 185.67" stroke="#ff0000" stroke-width="1.35" fill="none" clip-path="url(#i12)"/>
<path d="M506.10 199.53 L506.67 199.38 L507.23 199.24 L507.80 199.10 L508.37 198.96 L508.93 198.82 L509.50 198.68 L510.07 198.54 L510.63 198.40 L511.20 198.26 L511.77 198.13 L512.33 197.99 L512.90 197.86 L513.47 197.72 L514.03 197.59 L514.60 197.46 L515.17 197.32 L515.73 197.19 L516.30 197.06 L516.87 196.93 L517.43 196.80 L518.00 196.67 L518.57 196.54 L519.13 196.42 L519.70 196.29 L520.27 196.16 L520.83 196.04 L521.40 195.91 L521.97 195.79 L522.53 195.66 L523.10 195.54 L523.67 195.42 L524.23 195.29 L524.80 195.17 L525.37 195.05 L525.93 194.93 L526.50 194.81 L527.07 194.69 L527.63 194.57 L528.20 194.45 L528.77 194.33 L529.33 194.22 L529.90 194.10 L530.47 193.98 L531.03 193.87 L531.60 193.75 L532.17 193.64 L532.73 193.52 L533.30 193.41 L533.87 193.29 L534.43 193.18 L535.00 193.07 L535.57 192.95 L536.13 192.84 L536.70 192.73 L537.27 192.62 L537.83 192.51 L538.40 192.40 L538.97 192.29 L539.53 192.18 L540.10 192.07 L540.67 191.96 L541.23 191.85 L541.80 191.74 L542.37 191.63 L542.93 191.53 L543.50 191.42 L544.07 191.31 L544.63 191.21 L545.20 191.10 L545.77 191.00 L546.33 190.89 L546.90 190.78 L547.47 190.68 L548.03 190.58 L548.60 190.47 L549.17 190.37 L549.73 190.27 L550.30 190.16 L550.87 190.06 L551.43 189.96 L552.00 189.86 L552.57 189.76 L553.13 189.65 L553.70 189.55 L554.27 189.45 L554.83 189.35 L555.40 189.25 L555.97 189.15 L556.53 189.05 L557.10 188.96 L557.67 188.86 L558.23 188.76 L558.80 188.66 L559.37 188.56 L559.93 188.47 L560.50 188.37 L561.07 188.27 L561.63 188.18 L562.20 188.08" stroke="#ff0000" stroke-width="1.35" fill="none" stroke-dasharray="3.7 3.6" clip-path="url(#i12)"/>
<path d="M506.10 194.23 L506.67 194.05 L507.23 193.87 L507.80 193.70 L508.37 193.52 L508.93 193.35 L509.50 193.18 L510.07 193.01 L510.63 192.84 L511.20 192.67 L511.77 192.50 L512.33 192.33 L512.90 192.17 L513.47 192.00 L514.03 191.84 L514.60 191.68 L515.17 191.52 L515.73 191.35 L516.30 191.20 L516.87 191.04 L517.43 190.88 L518.00 190.72 L518.57 190.56 L519.13 190.41 L519.70 190.26 L520.27 190.10 L520.83 189.95 L521.40 189.80 L521.97 189.65 L522.53 189.50 L523.10 189.35 L523.67 189.20 L524.23 189.05 L524.80 188.90 L525.37 188.76 L525.93 188.61 L526.50 188.47 L527.07 188.32 L527.63 188.18 L528.20 188.04 L528.77 187.90 L529.33 187.76 L529.90 187.62 L530.47 187.48 L531.03 187.34 L531.60 187.20 L532.17 187.06 L532.73 186.93 L533.30 186.79 L533.87 186.66 L534.43 186.52 L535.00 186.39 L535.57 186.25 L536.13 186.12 L536.70 185.99 L537.27 185.86 L537.83 185.73 L538.40 185.60 L538.97 185.47 L539.53 185.34 L540.10 185.21 L540.67 185.08 L541.23 184.96 L541.80 184.83 L542.37 184.71 L542.93 184.58 L543.50 184.46 L544.07 184.33 L544.63 184.21 L545.20 184.08 L545.77 183.96 L546.33 183.84 L546.90 183.72 L547.47 183.60 L548.03 183.48 L548.60 183.36 L549.17 183.24 L549.73 183.12 L550.30 183.00 L550.87 182.88 L551.43 182.77 L552.00 182.65 L552.57 182.53 L553.13 182.42 L553.70 182.30 L554.27 182.19 L554.83 182.08 L555.40 181.96 L555.97 181.85 L556.53 181.74 L557.10 181.62 L557.67 181.51 L558.23 181.40 L558.80 181.29 L559.37 181.18 L559.93 181.07 L560.50 180.96 L561.07 180.85 L561.63 180.74 L562.20 180.63" stroke="#ff0000" stroke-width="1.35" fill="none" stroke-dasharray="3.4 1.3 1.2 1.6" clip-path="url(#i12)"/>
<path d="M506.10 206.3v-1.2M506.10 168.2v1.2M520.12 206.3v-1.2M520.12 168.2v1.2M534.15 206.3v-1.2M534.15 168.2v1.2M548.18 206.3v-1.2M548.18 168.2v1.2M562.20 206.3v-1.2M562.20 168.2v1.2M506.1 206.30h1.2M562.2 206.30h-1.2M506.1 198.83h1.2M562.2 198.83h-1.2M506.1 191.36h1.2M562.2 191.36h-1.2M506.1 183.89h1.2M562.2 183.89h-1.2M506.1 176.42h1.2M562.2 176.42h-1.2" stroke="#a0a0a0" stroke-width="0.6" fill="none"/>
<rect x="506.1" y="168.2" width="56.10000000000002" height="38.10000000000002" fill="none" stroke="#c4c4c4" stroke-width="1"/>
<g font-size="4.5" fill="#111" letter-spacing="-0.05" stroke="#111" stroke-width="0.08"><text x="506.10" y="212.60" text-anchor="middle">3</text><text x="520.12" y="212.60" text-anchor="middle">3.5</text><text x="534.15" y="212.60" text-anchor="middle">4</text><text x="548.18" y="212.60" text-anchor="middle">4.5</text><text x="562.20" y="212.60" text-anchor="middle">5</text><text x="505.20" y="208.30" text-anchor="end">1.08</text><text x="505.20" y="200.83" text-anchor="end">1.09</text><text x="505.20" y="193.36" text-anchor="end">1.1</text><text x="505.20" y="185.89" text-anchor="end">1.11</text><text x="505.20" y="178.42" text-anchor="end">1.12</text></g>
<text x="491.20" y="299.00" text-anchor="middle" font-family='"Liberation Serif", serif' font-style="italic" font-size="11.2" fill="#1a1a1a" stroke="#1a1a1a" stroke-width="0.1">ξ</text>
<clipPath id="c13"><rect x="619.0" y="166.7" width="139.79999999999995" height="111.80000000000001"/></clipPath>
<path d="M619.00 278.5v-1.5M619.00 166.7v1.5M646.96 278.5v-1.5M646.96 166.7v1.5M674.92 278.5v-1.5M674.92 166.7v1.5M702.88 278.5v-1.5M702.88 166.7v1.5M730.84 278.5v-1.5M730.84 166.7v1.5M758.80 278.5v-1.5M758.80 166.7v1.5M619.0 278.50h1.5M758.8 278.50h-1.5M619.0 267.32h1.5M758.8 267.32h-1.5M619.0 256.14h1.5M758.8 256.14h-1.5M619.0 244.96h1.5M758.8 244.96h-1.5M619.0 233.78h1.5M758.8 233.78h-1.5M619.0 222.60h1.5M758.8 222.60h-1.5M619.0 211.42h1.5M758.8 211.42h-1.5M619.0 200.24h1.5M758.8 200.24h-1.5M619.0 189.06h1.5M758.8 189.06h-1.5M619.0 177.88h1.5M758.8 177.88h-1.5M619.0 166.70h1.5M758.8 166.70h-1.5" stroke="#a0a0a0" stroke-width="0.6" fill="none"/>
<g font-size="5.0" fill="#1c1c1c" letter-spacing="-0.05"><text x="619.00" y="285.60" text-anchor="middle">0</text><text x="646.96" y="285.60" text-anchor="middle">1</text><text x="674.92" y="285.60" text-anchor="middle">2</text><text x="702.88" y="285.60" text-anchor="middle">3</text><text x="730.84" y="285.60" text-anchor="middle">4</text><text x="758.80" y="285.60" text-anchor="middle">5</text><text x="617.40" y="280.45" text-anchor="end">0</text><text x="617.40" y="269.27" text-anchor="end">0.05</text><text x="617.40" y="258.09" text-anchor="end">0.1</text><text x="617.40" y="246.91" text-anchor="end">0.15</text><text x="617.40" y="235.73" text-anchor="end">0.2</text><text x="617.40" y="224.55" text-anchor="end">0.25</text><text x="617.40" y="213.37" text-anchor="end">0.3</text><text x="617.40" y="202.19" text-anchor="end">0.35</text><text x="617.40" y="191.01" text-anchor="end">0.4</text><text x="617.40" y="179.83" text-anchor="end">0.45</text><text x="617.40" y="168.65" text-anchor="end">0.5</text></g>
<path d="M619.00 222.60 L619.70 222.40 L620.41 222.23 L621.11 222.08 L621.81 221.94 L622.51 221.81 L623.22 221.70 L623.92 221.59 L624.62 221.49 L625.32 221.40 L626.03 221.31 L626.73 221.23 L627.43 221.14 L628.13 221.06 L628.84 220.98 L629.54 220.91 L630.24 220.83 L630.94 220.76 L631.65 220.69 L632.35 220.62 L633.05 220.55 L633.75 220.48 L634.46 220.41 L635.16 220.35 L635.86 220.28 L636.56 220.22 L637.27 220.16 L637.97 220.10 L638.67 220.04 L639.37 219.98 L640.08 219.92 L640.78 219.86 L641.48 219.81 L642.18 219.75 L642.89 219.70 L643.59 219.65 L644.29 219.59 L644.99 219.54 L645.70 219.50 L646.40 219.45 L647.10 219.40 L647.80 219.36 L648.51 219.31 L649.21 219.27 L649.91 219.23 L650.61 219.18 L651.32 219.14 L652.02 219.10 L652.72 219.07 L653.42 219.03 L654.13 218.99 L654.83 218.96 L655.53 218.92 L656.23 218.89 L656.94 218.85 L657.64 218.82 L658.34 218.79 L659.04 218.76 L659.75 218.73 L660.45 218.70 L661.15 218.67 L661.85 218.64 L662.56 218.62 L663.26 218.59 L663.96 218.56 L664.66 218.54 L665.37 218.51 L666.07 218.49 L666.77 218.47 L667.47 218.44 L668.18 218.42 L668.88 218.40 L669.58 218.38 L670.28 218.36 L670.99 218.34 L671.69 218.32 L672.39 218.30 L673.09 218.28 L673.80 218.26 L674.50 218.24 L675.20 218.22 L675.90 218.20 L676.61 218.19 L677.31 218.17 L678.01 218.15 L678.71 218.14 L679.42 218.12 L680.12 218.10 L680.82 218.09 L681.52 218.07 L682.23 218.06 L682.93 218.04 L683.63 218.03 L684.33 218.02 L685.04 218.00 L685.74 217.99 L686.44 217.97 L687.14 217.96 L687.85 217.95 L688.55 217.93 L689.25 217.92 L689.95 217.91 L690.66 217.90 L691.36 217.88 L692.06 217.87 L692.76 217.86 L693.47 217.85 L694.17 217.83 L694.87 217.82 L695.57 217.81 L696.28 217.80 L696.98 217.79 L697.68 217.78 L698.38 217.77 L699.09 217.75 L699.79 217.74 L700.49 217.73 L701.19 217.72 L701.90 217.71 L702.60 217.70 L703.30 217.69 L704.00 217.68 L704.71 217.67 L705.41 217.66 L706.11 217.65 L706.81 217.64 L707.52 217.62 L708.22 217.61 L708.92 217.60 L709.62 217.59 L710.33 217.58 L711.03 217.57 L711.73 217.56 L712.43 217.55 L713.14 217.54 L713.84 217.53 L714.54 217.52 L715.24 217.51 L715.95 217.50 L716.65 217.49 L717.35 217.48 L718.05 217.47 L718.76 217.46 L719.46 217.45 L720.16 217.44 L720.86 217.43 L721.57 217.42 L722.27 217.41 L722.97 217.40 L723.67 217.39 L724.38 217.38 L725.08 217.37 L725.78 217.36 L726.48 217.35 L727.19 217.34 L727.89 217.33 L728.59 217.32 L729.29 217.31 L730.00 217.30 L730.70 217.29 L731.40 217.28 L732.10 217.27 L732.81 217.26 L733.51 217.25 L734.21 217.24 L734.91 217.23 L735.62 217.22 L736.32 217.21 L737.02 217.20 L737.72 217.19 L738.43 217.18 L739.13 217.17 L739.83 217.16 L740.53 217.15 L741.24 217.14 L741.94 217.13 L742.64 217.12 L743.34 217.11 L744.05 217.10 L744.75 217.09 L745.45 217.08 L746.15 217.07 L746.86 217.06 L747.56 217.05 L748.26 217.04 L748.96 217.03 L749.67 217.02 L750.37 217.01 L751.07 217.00 L751.77 216.99 L752.48 216.98 L753.18 216.97 L753.88 216.96 L754.58 216.95 L755.29 216.94 L755.99 216.93 L756.69 216.92 L757.39 216.91 L758.10 216.90 L758.80 216.89" stroke="#ff00ff" stroke-width="1.75" fill="none" clip-path="url(#c13)"/>
<path d="M619.00 222.60 L619.70 222.38 L620.41 222.18 L621.11 222.01 L621.81 221.86 L622.51 221.73 L623.22 221.60 L623.92 221.49 L624.62 221.38 L625.32 221.27 L626.03 221.17 L626.73 221.07 L627.43 220.97 L628.13 220.87 L628.84 220.77 L629.54 220.68 L630.24 220.58 L630.94 220.48 L631.65 220.39 L632.35 220.29 L633.05 220.20 L633.75 220.10 L634.46 220.01 L635.16 219.91 L635.86 219.82 L636.56 219.72 L637.27 219.63 L637.97 219.54 L638.67 219.45 L639.37 219.36 L640.08 219.27 L640.78 219.18 L641.48 219.09 L642.18 219.00 L642.89 218.92 L643.59 218.84 L644.29 218.75 L644.99 218.67 L645.70 218.59 L646.40 218.51 L647.10 218.44 L647.80 218.36 L648.51 218.28 L649.21 218.21 L649.91 218.14 L650.61 218.07 L651.32 218.00 L652.02 217.93 L652.72 217.86 L653.42 217.80 L654.13 217.74 L654.83 217.67 L655.53 217.61 L656.23 217.55 L656.94 217.49 L657.64 217.43 L658.34 217.38 L659.04 217.32 L659.75 217.27 L660.45 217.21 L661.15 217.16 L661.85 217.11 L662.56 217.06 L663.26 217.01 L663.96 216.97 L664.66 216.92 L665.37 216.87 L666.07 216.83 L666.77 216.78 L667.47 216.74 L668.18 216.70 L668.88 216.66 L669.58 216.62 L670.28 216.58 L670.99 216.54 L671.69 216.50 L672.39 216.46 L673.09 216.43 L673.80 216.39 L674.50 216.36 L675.20 216.32 L675.90 216.29 L676.61 216.26 L677.31 216.22 L678.01 216.19 L678.71 216.16 L679.42 216.13 L680.12 216.10 L680.82 216.07 L681.52 216.04 L682.23 216.02 L682.93 215.99 L683.63 215.96 L684.33 215.93 L685.04 215.91 L685.74 215.88 L686.44 215.86 L687.14 215.83 L687.85 215.81 L688.55 215.78 L689.25 215.76 L689.95 215.74 L690.66 215.71 L691.36 215.69 L692.06 215.67 L692.76 215.65 L693.47 215.63 L694.17 215.61 L694.87 215.58 L695.57 215.56 L696.28 215.54 L696.98 215.52 L697.68 215.50 L698.38 215.48 L699.09 215.47 L699.79 215.45 L700.49 215.43 L701.19 215.41 L701.90 215.39 L702.60 215.37 L703.30 215.36 L704.00 215.34 L704.71 215.32 L705.41 215.31 L706.11 215.29 L706.81 215.27 L707.52 215.26 L708.22 215.24 L708.92 215.22 L709.62 215.21 L710.33 215.19 L711.03 215.18 L711.73 215.16 L712.43 215.15 L713.14 215.13 L713.84 215.12 L714.54 215.10 L715.24 215.09 L715.95 215.07 L716.65 215.06 L717.35 215.04 L718.05 215.03 L718.76 215.02 L719.46 215.00 L720.16 214.99 L720.86 214.97 L721.57 214.96 L722.27 214.95 L722.97 214.93 L723.67 214.92 L724.38 214.91 L725.08 214.90 L725.78 214.88 L726.48 214.87 L727.19 214.86 L727.89 214.84 L728.59 214.83 L729.29 214.82 L730.00 214.81 L730.70 214.80 L731.40 214.78 L732.10 214.77 L732.81 214.76 L733.51 214.75 L734.21 214.74 L734.91 214.72 L735.62 214.71 L736.32 214.70 L737.02 214.69 L737.72 214.68 L738.43 214.67 L739.13 214.65 L739.83 214.64 L740.53 214.63 L741.24 214.62 L741.94 214.61 L742.64 214.60 L743.34 214.59 L744.05 214.58 L744.75 214.57 L745.45 214.55 L746.15 214.54 L746.86 214.53 L747.56 214.52 L748.26 214.51 L748.96 214.50 L749.67 214.49 L750.37 214.48 L751.07 214.47 L751.77 214.46 L752.48 214.45 L753.18 214.44 L753.88 214.43 L754.58 214.42 L755.29 214.41 L755.99 214.40 L756.69 214.39 L757.39 214.38 L758.10 214.37 L758.80 214.36" stroke="#ff00ff" stroke-width="1.35" fill="none" stroke-dasharray="3.7 3.6" clip-path="url(#c13)"/>
<path d="M619.00 222.60 L619.70 222.55 L620.41 222.50 L621.11 222.44 L621.81 222.39 L622.51 222.34 L623.22 222.29 L623.92 222.25 L624.62 222.21 L625.32 222.17 L626.03 222.14 L626.73 222.12 L627.43 222.10 L628.13 222.08 L628.84 222.07 L629.54 222.07 L630.24 222.06 L630.94 222.06 L631.65 222.07 L632.35 222.07 L633.05 222.09 L633.75 222.10 L634.46 222.11 L635.16 222.13 L635.86 222.15 L636.56 222.17 L637.27 222.20 L637.97 222.22 L638.67 222.25 L639.37 222.28 L640.08 222.30 L640.78 222.33 L641.48 222.36 L642.18 222.39 L642.89 222.43 L643.59 222.46 L644.29 222.49 L644.99 222.52 L645.70 222.56 L646.40 222.59 L647.10 222.63 L647.80 222.66 L648.51 222.70 L649.21 222.73 L649.91 222.77 L650.61 222.80 L651.32 222.84 L652.02 222.87 L652.72 222.91 L653.42 222.94 L654.13 222.98 L654.83 223.01 L655.53 223.05 L656.23 223.08 L656.94 223.12 L657.64 223.15 L658.34 223.19 L659.04 223.23 L659.75 223.26 L660.45 223.30 L661.15 223.33 L661.85 223.37 L662.56 223.40 L663.26 223.44 L663.96 223.47 L664.66 223.51 L665.37 223.55 L666.07 223.58 L666.77 223.62 L667.47 223.65 L668.18 223.69 L668.88 223.72 L669.58 223.76 L670.28 223.80 L670.99 223.83 L671.69 223.87 L672.39 223.91 L673.09 223.94 L673.80 223.98 L674.50 224.02 L675.20 224.05 L675.90 224.09 L676.61 224.13 L677.31 224.16 L678.01 224.20 L678.71 224.24 L679.42 224.28 L680.12 224.31 L680.82 224.35 L681.52 224.39 L682.23 224.43 L682.93 224.47 L683.63 224.51 L684.33 224.55 L685.04 224.59 L685.74 224.62 L686.44 224.66 L687.14 224.70 L687.85 224.74 L688.55 224.78 L689.25 224.82 L689.95 224.86 L690.66 224.91 L691.36 224.95 L692.06 224.99 L692.76 225.03 L693.47 225.07 L694.17 225.11 L694.87 225.15 L695.57 225.20 L696.28 225.24 L696.98 225.28 L697.68 225.32 L698.38 225.37 L699.09 225.41 L699.79 225.45 L700.49 225.50 L701.19 225.54 L701.90 225.58 L702.60 225.63 L703.30 225.67 L704.00 225.72 L704.71 225.76 L705.41 225.81 L706.11 225.85 L706.81 225.90 L707.52 225.94 L708.22 225.99 L708.92 226.03 L709.62 226.08 L710.33 226.12 L711.03 226.17 L711.73 226.22 L712.43 226.26 L713.14 226.31 L713.84 226.36 L714.54 226.40 L715.24 226.45 L715.95 226.50 L716.65 226.55 L717.35 226.59 L718.05 226.64 L718.76 226.69 L719.46 226.74 L720.16 226.79 L720.86 226.83 L721.57 226.88 L722.27 226.93 L722.97 226.98 L723.67 227.03 L724.38 227.08 L725.08 227.13 L725.78 227.18 L726.48 227.23 L727.19 227.27 L727.89 227.32 L728.59 227.37 L729.29 227.42 L730.00 227.47 L730.70 227.52 L731.40 227.57 L732.10 227.62 L732.81 227.67 L733.51 227.72 L734.21 227.77 L734.91 227.82 L735.62 227.88 L736.32 227.93 L737.02 227.98 L737.72 228.03 L738.43 228.08 L739.13 228.13 L739.83 228.18 L740.53 228.23 L741.24 228.28 L741.94 228.33 L742.64 228.38 L743.34 228.44 L744.05 228.49 L744.75 228.54 L745.45 228.59 L746.15 228.64 L746.86 228.69 L747.56 228.74 L748.26 228.80 L748.96 228.85 L749.67 228.90 L750.37 228.95 L751.07 229.00 L751.77 229.05 L752.48 229.11 L753.18 229.16 L753.88 229.21 L754.58 229.26 L755.29 229.31 L755.99 229.36 L756.69 229.42 L757.39 229.47 L758.10 229.52 L758.80 229.57" stroke="#ff00ff" stroke-width="1.35" fill="none" stroke-dasharray="3.4 1.3 1.2 1.6" clip-path="url(#c13)"/>
<rect x="619.0" y="166.7" width="139.79999999999995" height="111.80000000000001" fill="none" stroke="#c4c4c4" stroke-width="1"/>
<path d="M625.3 176.05H639.0" stroke="#ff00ff" stroke-width="1.9" fill="none"/>
<path d="M625.3 185.15H639.0" stroke="#ff00ff" stroke-width="1.3" fill="none" stroke-dasharray="3.8 3.8"/>
<path d="M625.3 194.45H639.0" stroke="#ff00ff" stroke-width="1.3" fill="none" stroke-dasharray="3.4 1.1 1.9 1.1"/>
<g font-size="6.2" fill="#111" stroke="#111" stroke-width="0.1"><text x="639.90" y="178.35" textLength="18.00" lengthAdjust="spacingAndGlyphs">No WD</text><text x="639.90" y="187.45" textLength="16.40" lengthAdjust="spacingAndGlyphs">CLWD</text><text x="639.90" y="196.75" textLength="14.20" lengthAdjust="spacingAndGlyphs">NLLD</text></g>
<rect x="703.0" y="168.1" width="53.89999999999998" height="40.20000000000002" fill="#fff" stroke="none"/>
<clipPath id="i13"><rect x="703.0" y="168.1" width="53.89999999999998" height="40.20000000000002"/></clipPath>
<path d="M703.00 180.47 L703.54 180.45 L704.09 180.44 L704.63 180.42 L705.18 180.41 L705.72 180.39 L706.27 180.38 L706.81 180.36 L707.36 180.35 L707.90 180.33 L708.44 180.32 L708.99 180.31 L709.53 180.29 L710.08 180.28 L710.62 180.26 L711.17 180.25 L711.71 180.23 L712.26 180.22 L712.80 180.21 L713.34 180.19 L713.89 180.18 L714.43 180.16 L714.98 180.15 L715.52 180.13 L716.07 180.12 L716.61 180.11 L717.16 180.09 L717.70 180.08 L718.24 180.07 L718.79 180.05 L719.33 180.04 L719.88 180.02 L720.42 180.01 L720.97 180.00 L721.51 179.98 L722.06 179.97 L722.60 179.95 L723.14 179.94 L723.69 179.93 L724.23 179.91 L724.78 179.90 L725.32 179.88 L725.87 179.87 L726.41 179.86 L726.96 179.84 L727.50 179.83 L728.04 179.82 L728.59 179.80 L729.13 179.79 L729.68 179.77 L730.22 179.76 L730.77 179.75 L731.31 179.73 L731.86 179.72 L732.40 179.71 L732.94 179.69 L733.49 179.68 L734.03 179.66 L734.58 179.65 L735.12 179.64 L735.67 179.62 L736.21 179.61 L736.76 179.59 L737.30 179.58 L737.84 179.57 L738.39 179.55 L738.93 179.54 L739.48 179.53 L740.02 179.51 L740.57 179.50 L741.11 179.48 L741.66 179.47 L742.20 179.46 L742.74 179.44 L743.29 179.43 L743.83 179.41 L744.38 179.40 L744.92 179.39 L745.47 179.37 L746.01 179.36 L746.56 179.34 L747.10 179.33 L747.64 179.32 L748.19 179.30 L748.73 179.29 L749.28 179.28 L749.82 179.26 L750.37 179.25 L750.91 179.23 L751.46 179.22 L752.00 179.21 L752.54 179.19 L753.09 179.18 L753.63 179.16 L754.18 179.15 L754.72 179.14 L755.27 179.12 L755.81 179.11 L756.36 179.09 L756.90 179.08" stroke="#ff00ff" stroke-width="1.75" fill="none" clip-path="url(#i13)"/>
<path d="M703.00 176.44 L703.54 176.41 L704.09 176.39 L704.63 176.37 L705.18 176.34 L705.72 176.32 L706.27 176.30 L706.81 176.27 L707.36 176.25 L707.90 176.23 L708.44 176.21 L708.99 176.18 L709.53 176.16 L710.08 176.14 L710.62 176.12 L711.17 176.10 L711.71 176.08 L712.26 176.05 L712.80 176.03 L713.34 176.01 L713.89 175.99 L714.43 175.97 L714.98 175.95 L715.52 175.93 L716.07 175.91 L716.61 175.89 L717.16 175.87 L717.70 175.85 L718.24 175.83 L718.79 175.81 L719.33 175.79 L719.88 175.78 L720.42 175.76 L720.97 175.74 L721.51 175.72 L722.06 175.70 L722.60 175.68 L723.14 175.66 L723.69 175.65 L724.23 175.63 L724.78 175.61 L725.32 175.59 L725.87 175.58 L726.41 175.56 L726.96 175.54 L727.50 175.52 L728.04 175.51 L728.59 175.49 L729.13 175.47 L729.68 175.45 L730.22 175.44 L730.77 175.42 L731.31 175.40 L731.86 175.39 L732.40 175.37 L732.94 175.35 L733.49 175.34 L734.03 175.32 L734.58 175.30 L735.12 175.29 L735.67 175.27 L736.21 175.26 L736.76 175.24 L737.30 175.22 L737.84 175.21 L738.39 175.19 L738.93 175.18 L739.48 175.16 L740.02 175.15 L740.57 175.13 L741.11 175.12 L741.66 175.10 L742.20 175.08 L742.74 175.07 L743.29 175.05 L743.83 175.04 L744.38 175.02 L744.92 175.01 L745.47 174.99 L746.01 174.98 L746.56 174.96 L747.10 174.95 L747.64 174.93 L748.19 174.92 L748.73 174.91 L749.28 174.89 L749.82 174.88 L750.37 174.86 L750.91 174.85 L751.46 174.83 L752.00 174.82 L752.54 174.80 L753.09 174.79 L753.63 174.78 L754.18 174.76 L754.72 174.75 L755.27 174.73 L755.81 174.72 L756.36 174.71 L756.90 174.69" stroke="#ff00ff" stroke-width="1.35" fill="none" stroke-dasharray="3.7 3.6" clip-path="url(#i13)"/>
<path d="M703.00 194.22 L703.54 194.29 L704.09 194.35 L704.63 194.41 L705.18 194.47 L705.72 194.53 L706.27 194.60 L706.81 194.66 L707.36 194.72 L707.90 194.79 L708.44 194.85 L708.99 194.91 L709.53 194.98 L710.08 195.04 L710.62 195.11 L711.17 195.17 L711.71 195.23 L712.26 195.30 L712.80 195.36 L713.34 195.43 L713.89 195.49 L714.43 195.56 L714.98 195.63 L715.52 195.69 L716.07 195.76 L716.61 195.82 L717.16 195.89 L717.70 195.96 L718.24 196.02 L718.79 196.09 L719.33 196.16 L719.88 196.22 L720.42 196.29 L720.97 196.36 L721.51 196.43 L722.06 196.49 L722.60 196.56 L723.14 196.63 L723.69 196.70 L724.23 196.77 L724.78 196.83 L725.32 196.90 L725.87 196.97 L726.41 197.04 L726.96 197.11 L727.50 197.18 L728.04 197.25 L728.59 197.32 L729.13 197.39 L729.68 197.46 L730.22 197.53 L730.77 197.60 L731.31 197.67 L731.86 197.74 L732.40 197.81 L732.94 197.88 L733.49 197.95 L734.03 198.02 L734.58 198.09 L735.12 198.16 L735.67 198.23 L736.21 198.30 L736.76 198.37 L737.30 198.44 L737.84 198.51 L738.39 198.58 L738.93 198.65 L739.48 198.72 L740.02 198.79 L740.57 198.87 L741.11 198.94 L741.66 199.01 L742.20 199.08 L742.74 199.15 L743.29 199.22 L743.83 199.29 L744.38 199.36 L744.92 199.44 L745.47 199.51 L746.01 199.58 L746.56 199.65 L747.10 199.72 L747.64 199.79 L748.19 199.87 L748.73 199.94 L749.28 200.01 L749.82 200.08 L750.37 200.15 L750.91 200.23 L751.46 200.30 L752.00 200.37 L752.54 200.44 L753.09 200.51 L753.63 200.59 L754.18 200.66 L754.72 200.73 L755.27 200.80 L755.81 200.87 L756.36 200.95 L756.90 201.02" stroke="#ff00ff" stroke-width="1.35" fill="none" stroke-dasharray="3.4 1.3 1.2 1.6" clip-path="url(#i13)"/>
<path d="M703.00 208.3v-1.2M703.00 168.1v1.2M716.48 208.3v-1.2M716.48 168.1v1.2M729.95 208.3v-1.2M729.95 168.1v1.2M743.42 208.3v-1.2M743.42 168.1v1.2M756.90 208.3v-1.2M756.90 168.1v1.2M703.0 208.30h1.2M756.9 208.30h-1.2M703.0 188.95h1.2M756.9 188.95h-1.2M703.0 169.61h1.2M756.9 169.61h-1.2" stroke="#a0a0a0" stroke-width="0.6" fill="none"/>
<rect x="703.0" y="168.1" width="53.89999999999998" height="40.20000000000002" fill="none" stroke="#c4c4c4" stroke-width="1"/>
<g font-size="4.5" fill="#111" letter-spacing="-0.05" stroke="#111" stroke-width="0.08"><text x="703.00" y="214.60" text-anchor="middle">3</text><text x="716.48" y="214.60" text-anchor="middle">3.5</text><text x="729.95" y="214.60" text-anchor="middle">4</text><text x="743.42" y="214.60" text-anchor="middle">4.5</text><text x="756.90" y="214.60" text-anchor="middle">5</text><text x="702.10" y="210.30" text-anchor="end">0.2</text><text x="702.10" y="190.95" text-anchor="end">0.25</text><text x="702.10" y="171.61" text-anchor="end">0.3</text></g>
<text x="688.80" y="299.00" text-anchor="middle" font-family='"Liberation Serif", serif' font-style="italic" font-size="11.2" fill="#1a1a1a" stroke="#1a1a1a" stroke-width="0.1">ξ</text>
<g fill="#1a1a1a"><text transform="translate(8.50,57.75) rotate(-90)" text-anchor="middle" font-size="12.3">U</text><text transform="translate(202.70,60.17) rotate(-90)" text-anchor="middle" font-size="11.5">P</text><text transform="translate(209.20,53.85) rotate(-90)" text-anchor="middle" font-size="9.5">g</text><text transform="translate(398.80,59.60) rotate(-90)" text-anchor="middle" font-size="11.5">P</text><text transform="translate(405.40,53.40) rotate(-90)" text-anchor="middle" font-size="9.5">c</text><text transform="translate(598.30,60.60) rotate(-90)" text-anchor="middle" font-size="11.5">P</text><text transform="translate(593.00,54.20) rotate(-90)" text-anchor="middle" font-size="9.5">+</text><text transform="translate(604.50,53.45) rotate(-90)" text-anchor="middle" font-size="9.5">w</text><text transform="translate(8.50,222.75) rotate(-90)" text-anchor="middle" font-size="12.3">U</text><text transform="translate(202.70,225.27) rotate(-90)" text-anchor="middle" font-size="11.5">P</text><text transform="translate(209.20,218.95) rotate(-90)" text-anchor="middle" font-size="9.5">g</text><text transform="translate(398.80,224.50) rotate(-90)" text-anchor="middle" font-size="11.5">P</text><text transform="translate(405.40,218.40) rotate(-90)" text-anchor="middle" font-size="9.5">c</text><text transform="translate(598.30,225.60) rotate(-90)" text-anchor="middle" font-size="11.5">P</text><text transform="translate(593.00,219.20) rotate(-90)" text-anchor="middle" font-size="9.5">+</text><text transform="translate(604.50,218.45) rotate(-90)" text-anchor="middle" font-size="9.5">w</text></g>
</svg></body></html>
